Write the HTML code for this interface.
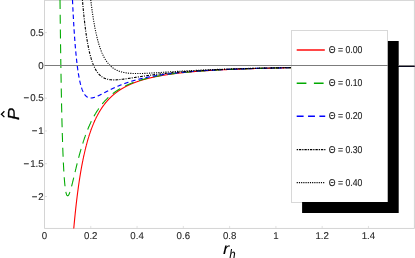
<!DOCTYPE html><html><head><title>P vs r_h</title><meta charset="utf-8"><style>html,body{margin:0;padding:0;background:#fff}svg{display:block}text{font-family:"Liberation Sans",sans-serif;text-rendering:geometricPrecision}</style></head><body>
<svg width="415" height="258" viewBox="0 0 415 258">
<rect width="415" height="258" fill="#fff"/>
<defs><clipPath id="c"><rect x="44.50" y="0" width="369.90" height="228.45"/></clipPath></defs>
<g stroke="#d4d4d4" stroke-width="1" fill="none">
<line x1="44.50" y1="0" x2="44.50" y2="228.45"/>
<line x1="44.50" y1="228.45" x2="414.40" y2="228.45"/>
<line x1="414.40" y1="0" x2="414.40" y2="228.45"/>
<line x1="44.50" y1="0.40" x2="414.40" y2="0.40"/>
<line x1="44.50" y1="228.45" x2="44.50" y2="225.95" stroke-width="0.7"/>
<line x1="90.78" y1="228.45" x2="90.78" y2="225.95" stroke-width="0.7"/>
<line x1="137.06" y1="228.45" x2="137.06" y2="225.95" stroke-width="0.7"/>
<line x1="183.34" y1="228.45" x2="183.34" y2="225.95" stroke-width="0.7"/>
<line x1="229.62" y1="228.45" x2="229.62" y2="225.95" stroke-width="0.7"/>
<line x1="275.90" y1="228.45" x2="275.90" y2="225.95" stroke-width="0.7"/>
<line x1="322.18" y1="228.45" x2="322.18" y2="225.95" stroke-width="0.7"/>
<line x1="368.46" y1="228.45" x2="368.46" y2="225.95" stroke-width="0.7"/>
<line x1="414.74" y1="228.45" x2="414.74" y2="225.95" stroke-width="0.7"/>
<line x1="44.50" y1="32.63" x2="47.00" y2="32.63" stroke-width="0.7"/>
<line x1="44.50" y1="65.40" x2="47.00" y2="65.40" stroke-width="0.7"/>
<line x1="44.50" y1="98.18" x2="47.00" y2="98.18" stroke-width="0.7"/>
<line x1="44.50" y1="130.95" x2="47.00" y2="130.95" stroke-width="0.7"/>
<line x1="44.50" y1="163.72" x2="47.00" y2="163.72" stroke-width="0.7"/>
<line x1="44.50" y1="196.50" x2="47.00" y2="196.50" stroke-width="0.7"/>
</g>
<g clip-path="url(#c)" fill="none" stroke-linecap="butt" stroke-linejoin="round">
<path d="M73.69,229.28 L73.77,228.46 L73.84,227.64 L73.91,226.84 L73.99,226.04 L74.06,225.24 L74.13,224.46 L74.20,223.67 L74.28,222.90 L74.35,222.13 L74.42,221.36 L74.50,220.60 L74.57,219.85 L74.64,219.10 L74.72,218.36 L74.79,217.62 L74.86,216.89 L74.94,216.16 L75.01,215.44 L75.08,214.72 L75.16,214.01 L75.23,213.30 L75.30,212.60 L75.38,211.90 L75.45,211.21 L75.52,210.52 L75.59,209.84 L75.67,209.16 L75.74,208.49 L75.81,207.82 L75.89,207.16 L75.96,206.50 L76.03,205.85 L76.11,205.20 L76.18,204.56 L76.25,203.91 L76.33,203.28 L76.40,202.65 L76.47,202.02 L76.55,201.40 L76.62,200.78 L76.69,200.16 L76.76,199.55 L76.84,198.95 L76.91,198.34 L76.98,197.75 L77.06,197.15 L77.13,196.56 L77.20,195.98 L77.28,195.39 L77.35,194.82 L77.42,194.24 L77.50,193.67 L77.57,193.10 L77.64,192.54 L77.72,191.98 L77.79,191.43 L77.86,190.87 L77.94,190.33 L78.01,189.78 L78.08,189.24 L78.15,188.70 L78.23,188.17 L78.30,187.64 L78.37,187.11 L78.45,186.59 L78.52,186.07 L78.59,185.55 L78.67,185.03 L78.74,184.52 L78.81,184.02 L78.89,183.51 L78.96,183.01 L79.03,182.51 L79.11,182.02 L79.18,181.53 L79.25,181.04 L79.32,180.55 L79.40,180.07 L79.47,179.59 L79.54,179.12 L79.62,178.64 L79.69,178.17 L79.76,177.71 L79.84,177.24 L79.91,176.78 L79.98,176.32 L80.06,175.86 L80.13,175.41 L80.20,174.96 L80.28,174.51 L80.35,174.07 L80.42,173.63 L80.50,173.19 L80.57,172.75 L80.64,172.32 L80.71,171.88 L80.79,171.46 L80.86,171.03 L80.93,170.61 L81.01,170.18 L81.08,169.77 L81.15,169.35 L81.23,168.94 L81.30,168.53 L81.37,168.12 L81.45,167.71 L81.52,167.31 L81.59,166.90 L81.67,166.51 L81.74,166.11 L81.81,165.71 L81.89,165.32 L81.96,164.93 L82.03,164.54 L82.10,164.16 L82.18,163.78 L82.25,163.40 L82.32,163.02 L82.40,162.64 L82.47,162.27 L82.54,161.89 L82.62,161.52 L82.69,161.16 L82.76,160.79 L82.84,160.43 L82.91,160.07 L82.98,159.71 L83.06,159.35 L83.13,158.99 L83.20,158.64 L83.27,158.29 L83.35,157.94 L83.42,157.59 L83.49,157.25 L83.57,156.90 L83.64,156.56 L83.71,156.22 L83.79,155.88 L83.86,155.55 L83.93,155.21 L84.01,154.88 L84.08,154.55 L84.15,154.22 L84.23,153.89 L84.30,153.57 L84.37,153.25 L84.45,152.92 L84.52,152.60 L84.59,152.29 L84.66,151.97 L84.74,151.66 L84.81,151.34 L84.88,151.03 L84.96,150.72 L85.03,150.42 L85.10,150.11 L85.18,149.80 L85.25,149.50 L85.32,149.20 L85.40,148.90 L85.47,148.60 L85.54,148.31 L85.62,148.01 L85.69,147.72 L85.76,147.43 L85.84,147.14 L85.91,146.85 L85.98,146.56 L86.05,146.28 L86.13,145.99 L86.20,145.71 L86.27,145.43 L86.35,145.15 L86.42,144.87 L86.49,144.60 L86.57,144.32 L86.64,144.05 L86.71,143.77 L86.79,143.50 L86.86,143.23 L86.93,142.97 L87.01,142.70 L87.08,142.43 L87.15,142.17 L87.22,141.91 L87.30,141.65 L87.37,141.39 L87.44,141.13 L87.52,140.87 L87.59,140.61 L87.66,140.36 L87.74,140.11 L87.81,139.85 L87.88,139.60 L87.96,139.35 L88.03,139.10 L88.10,138.86 L88.18,138.61 L88.25,138.37 L88.32,138.12 L88.40,137.88 L88.47,137.64 L88.54,137.40 L88.61,137.16 L88.69,136.92 L88.76,136.69 L88.83,136.45 L88.91,136.22 L88.98,135.99 L89.05,135.76 L89.13,135.52 L89.20,135.30 L89.27,135.07 L89.35,134.84 L89.42,134.61 L89.49,134.39 L89.57,134.17 L89.64,133.94 L89.71,133.72 L89.78,133.50 L89.86,133.28 L89.93,133.06 L90.00,132.85 L90.08,132.63 L90.15,132.41 L90.22,132.20 L90.30,131.99 L90.37,131.77 L90.44,131.56 L90.52,131.35 L90.59,131.14 L90.66,130.94 L90.74,130.73 L90.81,130.52 L90.88,130.32 L90.96,130.11 L91.03,129.91 L91.10,129.71 L91.17,129.51 L91.25,129.31 L91.32,129.11 L91.39,128.91 L91.47,128.71 L91.54,128.51 L91.61,128.32 L91.69,128.12 L91.76,127.93 L91.83,127.73 L91.91,127.54 L91.98,127.35 L92.05,127.16 L92.13,126.97 L92.20,126.78 L92.27,126.59 L92.35,126.41 L92.42,126.22 L92.49,126.04 L92.56,125.85 L92.64,125.67 L92.71,125.49 L92.78,125.30 L92.86,125.12 L92.93,124.94 L93.00,124.76 L93.08,124.58 L93.15,124.41 L93.22,124.23 L93.30,124.05 L93.37,123.88 L93.44,123.70 L93.52,123.53 L93.59,123.36 L93.66,123.18 L93.73,123.01 L93.81,122.84 L93.88,122.67 L93.95,122.50 L94.03,122.33 L94.10,122.17 L94.17,122.00 L94.25,121.83 L94.32,121.67 L94.39,121.50 L94.47,121.34 L94.54,121.17 L94.61,121.01 L94.69,120.85 L94.76,120.69 L94.83,120.53 L94.91,120.37 L94.98,120.21 L95.05,120.05 L95.12,119.89 L95.20,119.74 L95.27,119.58 L95.34,119.42 L95.42,119.27 L95.49,119.11 L95.56,118.96 L95.64,118.81 L95.71,118.65 L95.78,118.50 L95.86,118.35 L95.93,118.20 L96.00,118.05 L96.08,117.90 L96.15,117.75 L96.22,117.60 L96.30,117.46 L96.37,117.31 L96.44,117.16 L96.51,117.02 L96.59,116.87 L96.66,116.73 L96.73,116.59 L96.81,116.44 L96.88,116.30 L96.95,116.16 L97.03,116.02 L97.10,115.88 L97.17,115.74 L97.25,115.60 L97.32,115.46 L97.39,115.32 L97.47,115.18 L97.54,115.05 L97.61,114.91 L97.68,114.77 L97.76,114.64 L97.83,114.50 L97.90,114.37 L97.98,114.23 L98.05,114.10 L98.12,113.97 L98.20,113.84 L98.27,113.70 L98.34,113.57 L98.42,113.44 L98.49,113.31 L98.56,113.18 L98.64,113.05 L98.71,112.92 L98.78,112.80 L98.86,112.67 L98.93,112.54 L99.00,112.42 L99.07,112.29 L99.15,112.16 L99.22,112.04 L99.29,111.91 L99.37,111.79 L99.44,111.67 L99.51,111.54 L99.59,111.42 L99.66,111.30 L99.73,111.18 L99.81,111.06 L99.88,110.94 L99.95,110.82 L100.03,110.70 L100.10,110.58 L100.17,110.46 L100.25,110.34 L100.32,110.22 L100.39,110.11 L100.46,109.99 L100.54,109.87 L100.61,109.76 L100.68,109.64 L100.76,109.53 L100.83,109.41 L100.90,109.30 L100.98,109.18 L101.05,109.07 L101.12,108.96 L101.20,108.85 L101.27,108.73 L101.34,108.62 L101.42,108.51 L101.49,108.40 L101.56,108.29 L101.63,108.18 L101.71,108.07 L101.78,107.96 L101.85,107.85 L101.93,107.75 L102.00,107.64 L102.07,107.53 L102.15,107.43 L102.22,107.32 L102.29,107.21 L102.37,107.11 L102.44,107.00 L102.51,106.90 L102.59,106.79 L102.66,106.69 L102.73,106.58 L102.81,106.48 L102.88,106.38 L102.95,106.28 L103.02,106.17 L103.10,106.07 L103.17,105.97 L103.24,105.87 L103.32,105.77 L103.39,105.67 L103.46,105.57 L103.54,105.47 L103.61,105.37 L103.68,105.27 L103.76,105.17 L103.83,105.08 L103.90,104.98 L103.98,104.88 L104.05,104.78 L104.12,104.69 L104.19,104.59 L104.27,104.49 L104.34,104.40 L104.41,104.30 L104.49,104.21 L104.56,104.11 L104.63,104.02 L104.71,103.93 L104.78,103.83 L104.85,103.74 L104.93,103.65 L105.00,103.56 L105.07,103.46 L105.15,103.37 L105.22,103.28 L105.29,103.19 L105.37,103.10 L105.44,103.01 L105.51,102.92 L105.58,102.83 L105.66,102.74 L105.73,102.65 L105.80,102.56 L105.88,102.47 L105.95,102.38 L106.02,102.30 L106.10,102.21 L106.17,102.12 L106.24,102.03 L106.32,101.95 L106.39,101.86 L106.46,101.77 L106.54,101.69 L106.61,101.60 L106.68,101.52 L106.76,101.43 L106.83,101.35 L106.90,101.27 L106.97,101.18 L107.05,101.10 L107.12,101.01 L107.19,100.93 L107.27,100.85 L107.34,100.77 L107.41,100.68 L107.49,100.60 L107.56,100.52 L107.63,100.44 L107.71,100.36 L107.78,100.28 L107.85,100.20 L107.93,100.12 L108.00,100.04 L108.07,99.96 L108.14,99.88 L108.22,99.80 L108.29,99.72 L108.36,99.64 L108.44,99.56 L108.51,99.48 L108.58,99.41 L108.66,99.33 L108.73,99.25 L108.80,99.17 L108.88,99.10 L108.95,99.02 L109.02,98.95 L109.10,98.87 L109.17,98.79 L109.24,98.72 L109.32,98.64 L109.39,98.57 L109.46,98.49 L109.53,98.42 L109.61,98.35 L109.68,98.27 L109.75,98.20 L109.83,98.12 L109.90,98.05 L109.97,97.98 L110.05,97.91 L110.12,97.83 L110.19,97.76 L110.27,97.69 L110.34,97.62 L110.41,97.55 L110.49,97.47 L110.56,97.40 L110.63,97.33 L110.71,97.26 L110.78,97.19 L110.85,97.12 L110.92,97.05 L111.00,96.98 L111.07,96.91 L111.14,96.84 L111.22,96.78 L111.29,96.71 L111.36,96.64 L111.44,96.57 L111.51,96.50 L111.58,96.43 L111.66,96.37 L111.73,96.30 L111.80,96.23 L111.88,96.17 L111.95,96.10 L112.02,96.03 L112.09,95.97 L112.17,95.90 L112.24,95.83 L112.31,95.77 L112.39,95.70 L112.46,95.64 L112.53,95.57 L112.61,95.51 L112.68,95.44 L112.75,95.38 L112.83,95.31 L112.90,95.25 L112.97,95.19 L113.05,95.12 L113.12,95.06 L113.19,95.00 L113.27,94.93 L113.34,94.87 L113.41,94.81 L113.48,94.75 L113.56,94.68 L113.63,94.62 L113.70,94.56 L113.78,94.50 L113.85,94.44 L113.92,94.38 L114.00,94.32 L114.07,94.25 L114.14,94.19 L114.22,94.13 L114.29,94.07 L114.36,94.01 L114.44,93.95 L114.51,93.89 L114.58,93.83 L114.65,93.78 L114.73,93.72 L114.80,93.66 L114.87,93.60 L114.95,93.54 L115.02,93.48 L115.09,93.42 L115.17,93.37 L115.24,93.31 L115.31,93.25 L115.39,93.19 L115.46,93.14 L115.53,93.08 L115.61,93.02 L115.68,92.96 L115.75,92.91 L115.83,92.85 L115.90,92.80 L115.97,92.74 L116.04,92.68 L116.12,92.63 L116.19,92.57 L116.26,92.52 L116.34,92.46 L116.41,92.41 L116.48,92.35 L116.56,92.30 L116.63,92.24 L116.70,92.19 L116.78,92.13 L116.85,92.08 L116.92,92.03 L117.00,91.97 L117.07,91.92 L117.14,91.87 L117.22,91.81 L117.29,91.76 L117.36,91.71 L117.43,91.65 L117.51,91.60 L117.58,91.55 L117.65,91.50 L117.73,91.44 L117.80,91.39 L117.87,91.34 L117.95,91.29 L118.02,91.24 L118.09,91.19 L118.17,91.14 L118.24,91.08 L118.31,91.03 L118.39,90.98 L118.46,90.93 L118.53,90.88 L118.60,90.83 L118.68,90.78 L118.75,90.73 L118.82,90.68 L118.90,90.63 L118.97,90.58 L119.04,90.53 L119.12,90.48 L119.19,90.43 L119.26,90.39 L119.34,90.34 L119.41,90.29 L119.48,90.24 L119.56,90.19 L119.63,90.14 L119.70,90.09 L119.78,90.05 L119.85,90.00 L119.92,89.95 L119.99,89.90 L120.07,89.86 L120.14,89.81 L120.21,89.76 L120.29,89.71 L120.36,89.67 L120.43,89.62 L120.51,89.57 L120.58,89.53 L120.65,89.48 L120.73,89.44 L120.80,89.39 L120.87,89.34 L120.95,89.30 L121.02,89.25 L121.09,89.21 L121.17,89.16 L121.24,89.12 L121.31,89.07 L121.38,89.03 L121.46,88.98 L121.53,88.94 L121.60,88.89 L121.68,88.85 L121.75,88.80 L121.82,88.76 L121.90,88.71 L121.97,88.67 L122.04,88.63 L122.12,88.58 L122.19,88.54 L122.26,88.50 L122.34,88.45 L122.41,88.41 L122.48,88.37 L122.55,88.32 L122.63,88.28 L122.70,88.24 L122.77,88.19 L122.85,88.15 L122.92,88.11 L122.99,88.07 L123.07,88.02 L123.14,87.98 L123.21,87.94 L123.29,87.90 L123.36,87.86 L123.43,87.82 L123.51,87.77 L123.58,87.73 L123.65,87.69 L123.73,87.65 L123.80,87.61 L123.87,87.57 L123.94,87.53 L124.02,87.49 L124.09,87.45 L124.16,87.41 L124.24,87.37 L124.31,87.33 L124.38,87.28 L124.46,87.24 L124.53,87.20 L124.60,87.17 L124.68,87.13 L124.75,87.09 L124.82,87.05 L124.90,87.01 L124.97,86.97 L125.04,86.93 L125.11,86.89 L125.19,86.85 L125.26,86.81 L125.33,86.77 L125.41,86.73 L125.48,86.70 L125.55,86.66 L125.63,86.62 L125.70,86.58 L125.77,86.54 L125.85,86.50 L125.92,86.47 L125.99,86.43 L126.07,86.39 L126.14,86.35 L126.21,86.32 L126.29,86.28 L126.36,86.24 L126.43,86.20 L126.50,86.17 L126.58,86.13 L126.65,86.09 L126.72,86.06 L126.80,86.02 L126.87,85.98 L126.94,85.95 L127.02,85.91 L127.09,85.87 L127.16,85.84 L127.24,85.80 L127.31,85.77 L127.38,85.73 L127.46,85.69 L127.53,85.66 L127.60,85.62 L127.68,85.59 L127.75,85.55 L127.82,85.52 L127.89,85.48 L127.97,85.45 L128.04,85.41 L128.11,85.38 L128.19,85.34 L128.26,85.31 L128.33,85.27 L128.41,85.24 L128.48,85.20 L128.55,85.17 L128.63,85.13 L128.70,85.10 L128.77,85.06 L128.85,85.03 L128.92,85.00 L128.99,84.96 L129.06,84.93 L129.14,84.90 L129.21,84.86 L129.28,84.83 L129.36,84.79 L129.43,84.76 L129.50,84.73 L129.58,84.69 L129.65,84.66 L129.72,84.63 L129.80,84.60 L129.87,84.56 L129.94,84.53 L130.02,84.50 L130.09,84.46 L130.16,84.43 L130.24,84.40 L130.31,84.37 L130.38,84.33 L130.45,84.30 L130.53,84.27 L130.60,84.24 L130.67,84.21 L130.75,84.17 L130.82,84.14 L130.89,84.11 L130.97,84.08 L131.04,84.05 L131.11,84.02 L131.19,83.98 L131.26,83.95 L131.33,83.92 L131.41,83.89 L131.48,83.86 L131.55,83.83 L131.63,83.80 L131.70,83.77 L131.77,83.74 L131.84,83.71 L131.92,83.68 L131.99,83.64 L132.06,83.61 L132.14,83.58 L132.21,83.55 L132.28,83.52 L132.36,83.49 L132.43,83.46 L132.50,83.43 L132.58,83.40 L132.65,83.37 L132.72,83.34 L132.80,83.31 L132.87,83.28 L132.94,83.25 L133.01,83.22 L133.09,83.20 L133.16,83.17 L133.23,83.14 L133.31,83.11 L133.38,83.08 L133.45,83.05 L133.53,83.02 L133.60,82.99 L133.67,82.96 L133.75,82.93 L133.82,82.91 L133.89,82.88 L133.97,82.85 L134.04,82.82 L134.11,82.79 L134.19,82.76 L134.26,82.73 L134.33,82.71 L134.40,82.68 L134.48,82.65 L134.55,82.62 L134.62,82.59 L134.70,82.57 L134.77,82.54 L134.84,82.51 L134.92,82.48 L134.99,82.46 L135.06,82.43 L135.14,82.40 L135.21,82.37 L135.28,82.35 L135.36,82.32 L135.43,82.29 L135.50,82.26 L135.58,82.24 L135.65,82.21 L135.72,82.18 L135.79,82.16 L135.87,82.13 L135.94,82.10 L136.01,82.08 L136.09,82.05 L136.16,82.02 L136.23,82.00 L136.31,81.97 L136.38,81.94 L136.45,81.92 L136.53,81.89 L136.60,81.86 L136.67,81.84 L136.75,81.81 L136.82,81.79 L136.89,81.76 L136.96,81.73 L137.04,81.71 L137.11,81.68 L137.18,81.66 L137.26,81.63 L137.33,81.61 L137.40,81.58 L137.48,81.56 L137.55,81.53 L137.62,81.50 L137.70,81.48 L137.77,81.45 L137.84,81.43 L137.92,81.40 L137.99,81.38 L138.06,81.35 L138.14,81.33 L138.21,81.30 L138.28,81.28 L138.35,81.25 L138.43,81.23 L138.50,81.21 L138.57,81.18 L138.65,81.16 L138.72,81.13 L138.79,81.11 L138.87,81.08 L138.94,81.06 L139.01,81.03 L139.09,81.01 L139.16,80.99 L139.23,80.96 L139.31,80.94 L139.38,80.91 L139.45,80.89 L139.52,80.87 L139.60,80.84 L139.67,80.82 L139.74,80.80 L139.82,80.77 L139.89,80.75 L139.96,80.72 L140.04,80.70 L140.11,80.68 L140.18,80.65 L140.26,80.63 L140.33,80.61 L140.40,80.58 L140.48,80.56 L140.55,80.54 L140.62,80.52 L140.70,80.49 L140.77,80.47 L140.84,80.45 L140.91,80.42 L140.99,80.40 L141.06,80.38 L141.13,80.36 L141.21,80.33 L141.28,80.31 L141.35,80.29 L141.43,80.27 L141.50,80.24 L141.57,80.22 L141.65,80.20 L141.72,80.18 L141.79,80.15 L141.87,80.13 L141.94,80.11 L142.01,80.09 L142.09,80.07 L142.16,80.04 L142.23,80.02 L142.30,80.00 L142.38,79.98 L142.45,79.96 L142.52,79.93 L142.60,79.91 L142.67,79.89 L142.74,79.87 L142.82,79.85 L142.89,79.83 L142.96,79.81 L143.04,79.78 L143.11,79.76 L143.18,79.74 L143.26,79.72 L143.33,79.70 L143.40,79.68 L143.47,79.66 L143.55,79.64 L143.62,79.61 L143.69,79.59 L143.77,79.57 L143.84,79.55 L143.91,79.53 L143.99,79.51 L144.06,79.49 L144.13,79.47 L144.21,79.45 L144.28,79.43 L144.35,79.41 L144.43,79.39 L144.50,79.37 L144.57,79.35 L144.65,79.33 L144.72,79.30 L144.79,79.28 L144.86,79.26 L144.94,79.24 L145.01,79.22 L145.08,79.20 L145.16,79.18 L145.23,79.16 L145.30,79.14 L145.38,79.12 L145.45,79.10 L145.52,79.08 L145.60,79.06 L145.67,79.04 L145.74,79.02 L145.82,79.01 L145.89,78.99 L145.96,78.97 L146.04,78.95 L146.11,78.93 L146.18,78.91 L146.25,78.89 L146.33,78.87 L146.40,78.85 L146.47,78.83 L146.55,78.81 L146.62,78.79 L146.69,78.77 L146.77,78.75 L146.84,78.73 L146.91,78.72 L146.99,78.70 L147.06,78.68 L147.13,78.66 L147.21,78.64 L147.28,78.62 L147.35,78.60 L147.42,78.58 L147.50,78.56 L147.57,78.55 L147.64,78.53 L147.72,78.51 L147.79,78.49 L147.86,78.47 L147.94,78.45 L148.01,78.43 L148.08,78.42 L148.16,78.40 L148.23,78.38 L148.30,78.36 L148.38,78.34 L148.45,78.32 L148.52,78.31 L148.60,78.29 L148.67,78.27 L148.74,78.25 L148.81,78.23 L148.89,78.22 L148.96,78.20 L149.03,78.18 L149.11,78.16 L149.18,78.14 L149.25,78.13 L149.33,78.11 L149.40,78.09 L149.47,78.07 L149.55,78.06 L149.62,78.04 L149.69,78.02 L149.77,78.00 L149.84,77.99 L149.91,77.97 L149.98,77.95 L150.06,77.93 L150.13,77.92 L150.20,77.90 L150.28,77.88 L150.35,77.86 L150.42,77.85 L150.50,77.83 L150.57,77.81 L150.64,77.80 L150.72,77.78 L150.79,77.76 L150.86,77.74 L150.94,77.73 L151.01,77.71 L151.08,77.69 L151.16,77.68 L151.23,77.66 L151.30,77.64 L151.37,77.63 L151.45,77.61 L151.52,77.59 L151.59,77.58 L151.67,77.56 L151.74,77.54 L151.81,77.53 L151.89,77.51 L151.96,77.49 L152.03,77.48 L152.11,77.46 L152.18,77.44 L152.25,77.43 L152.33,77.41 L152.40,77.40 L152.47,77.38 L152.55,77.36 L152.62,77.35 L152.69,77.33 L152.76,77.31 L152.84,77.30 L152.91,77.28 L152.98,77.27 L153.06,77.25 L153.13,77.23 L153.20,77.22 L153.28,77.20 L153.35,77.19 L153.42,77.17 L153.50,77.16 L153.57,77.14 L153.64,77.12 L153.72,77.11 L153.79,77.09 L153.86,77.08 L153.93,77.06 L154.01,77.05 L154.08,77.03 L154.15,77.01 L154.23,77.00 L154.30,76.98 L154.37,76.97 L154.45,76.95 L154.52,76.94 L154.59,76.92 L154.67,76.91 L154.74,76.89 L154.81,76.88 L154.89,76.86 L154.96,76.85 L155.03,76.83 L155.11,76.82 L155.18,76.80 L155.25,76.79 L155.32,76.77 L155.40,76.76 L155.47,76.74 L155.54,76.73 L155.62,76.71 L155.69,76.70 L155.76,76.68 L155.84,76.67 L155.91,76.65 L155.98,76.64 L156.06,76.62 L156.13,76.61 L156.20,76.59 L156.28,76.58 L156.35,76.56 L156.42,76.55 L156.50,76.53 L156.57,76.52 L156.64,76.51 L156.71,76.49 L156.79,76.48 L156.86,76.46 L156.93,76.45 L157.01,76.43 L157.08,76.42 L157.15,76.40 L157.23,76.39 L157.30,76.38 L157.37,76.36 L157.45,76.35 L157.52,76.33 L157.59,76.32 L157.67,76.31 L157.74,76.29 L157.81,76.28 L157.88,76.26 L157.96,76.25 L158.03,76.24 L158.10,76.22 L158.18,76.21 L158.25,76.19 L158.32,76.18 L158.40,76.17 L158.47,76.15 L158.54,76.14 L158.62,76.12 L158.69,76.11 L158.76,76.10 L158.84,76.08 L158.91,76.07 L158.98,76.06 L159.06,76.04 L159.13,76.03 L159.20,76.02 L159.27,76.00 L159.35,75.99 L159.42,75.97 L159.49,75.96 L159.57,75.95 L159.64,75.93 L159.71,75.92 L159.79,75.91 L159.86,75.89 L159.93,75.88 L160.01,75.87 L160.08,75.85 L160.15,75.84 L160.23,75.83 L160.30,75.81 L160.37,75.80 L160.44,75.79 L160.52,75.78 L160.59,75.76 L160.66,75.75 L160.74,75.74 L160.81,75.72 L160.88,75.71 L160.96,75.70 L161.03,75.68 L161.10,75.67 L161.18,75.66 L161.25,75.65 L161.32,75.63 L161.40,75.62 L161.47,75.61 L161.54,75.59 L161.62,75.58 L161.69,75.57 L161.76,75.56 L161.83,75.54 L161.91,75.53 L161.98,75.52 L162.05,75.51 L162.13,75.49 L162.20,75.48 L162.27,75.47 L162.35,75.46 L162.42,75.44 L162.49,75.43 L162.57,75.42 L162.64,75.41 L162.71,75.39 L162.79,75.38 L162.86,75.37 L162.93,75.36 L163.01,75.34 L163.08,75.33 L163.15,75.32 L163.22,75.31 L163.30,75.30 L163.37,75.28 L163.44,75.27 L163.52,75.26 L163.59,75.25 L163.66,75.23 L163.74,75.22 L163.81,75.21 L163.88,75.20 L163.96,75.19 L164.03,75.17 L164.10,75.16 L164.18,75.15 L164.25,75.14 L164.32,75.13 L164.39,75.12 L164.47,75.10 L164.54,75.09 L164.61,75.08 L164.69,75.07 L164.76,75.06 L164.83,75.04 L164.91,75.03 L164.98,75.02 L165.05,75.01 L165.13,75.00 L165.20,74.99 L165.27,74.97 L165.35,74.96 L165.42,74.95 L165.49,74.94 L165.57,74.93 L165.64,74.92 L165.71,74.91 L165.78,74.89 L165.86,74.88 L165.93,74.87 L166.00,74.86 L166.08,74.85 L166.15,74.84 L166.22,74.83 L166.30,74.81 L166.37,74.80 L166.44,74.79 L166.52,74.78 L166.59,74.77 L166.66,74.76 L166.74,74.75 L166.81,74.74 L166.88,74.72 L166.96,74.71 L167.03,74.70 L167.10,74.69 L167.17,74.68 L167.25,74.67 L167.32,74.66 L167.39,74.65 L167.47,74.64 L167.54,74.62 L167.61,74.61 L167.69,74.60 L167.76,74.59 L167.83,74.58 L167.91,74.57 L167.98,74.56 L168.05,74.55 L168.13,74.54 L168.20,74.53 L168.27,74.52 L168.34,74.51 L168.42,74.49 L168.49,74.48 L168.56,74.47 L168.64,74.46 L168.71,74.45 L168.78,74.44 L168.86,74.43 L168.93,74.42 L169.00,74.41 L169.08,74.40 L169.15,74.39 L169.22,74.38 L169.30,74.37 L169.37,74.36 L169.44,74.35 L169.52,74.34 L169.59,74.33 L169.66,74.31 L169.73,74.30 L169.81,74.29 L169.88,74.28 L169.95,74.27 L170.03,74.26 L170.10,74.25 L170.17,74.24 L170.25,74.23 L170.32,74.22 L170.39,74.21 L170.47,74.20 L170.54,74.19 L170.61,74.18 L170.69,74.17 L170.76,74.16 L170.83,74.15 L170.91,74.14 L170.98,74.13 L171.05,74.12 L171.12,74.11 L171.20,74.10 L171.27,74.09 L171.34,74.08 L171.42,74.07 L171.49,74.06 L171.56,74.05 L171.64,74.04 L171.71,74.03 L171.78,74.02 L171.86,74.01 L171.93,74.00 L172.00,73.99 L172.08,73.98 L172.15,73.97 L172.22,73.96 L172.29,73.95 L172.37,73.94 L172.44,73.93 L172.51,73.92 L172.59,73.91 L172.66,73.90 L172.73,73.89 L172.81,73.88 L172.88,73.87 L172.95,73.86 L173.03,73.85 L173.10,73.84 L173.17,73.84 L173.25,73.83 L173.32,73.82 L173.39,73.81 L173.47,73.80 L173.54,73.79 L173.61,73.78 L173.68,73.77 L173.76,73.76 L173.83,73.75 L173.90,73.74 L173.98,73.73 L174.05,73.72 L174.12,73.71 L174.20,73.70 L174.27,73.69 L174.34,73.68 L174.42,73.67 L174.49,73.67 L174.56,73.66 L174.64,73.65 L174.71,73.64 L174.78,73.63 L174.85,73.62 L174.93,73.61 L175.00,73.60 L175.07,73.59 L175.15,73.58 L175.22,73.57 L175.29,73.56 L175.37,73.55 L175.44,73.55 L175.51,73.54 L175.59,73.53 L175.66,73.52 L175.73,73.51 L175.81,73.50 L175.88,73.49 L175.95,73.48 L176.03,73.47 L176.10,73.46 L176.17,73.46 L176.24,73.45 L176.32,73.44 L176.39,73.43 L176.46,73.42 L176.54,73.41 L176.61,73.40 L176.68,73.39 L176.76,73.38 L176.83,73.38 L176.90,73.37 L176.98,73.36 L177.05,73.35 L177.12,73.34 L177.20,73.33 L177.27,73.32 L177.34,73.31 L177.42,73.31 L177.49,73.30 L177.56,73.29 L177.63,73.28 L177.71,73.27 L177.78,73.26 L177.85,73.25 L177.93,73.24 L178.00,73.24 L178.07,73.23 L178.15,73.22 L178.22,73.21 L178.29,73.20 L178.37,73.19 L178.44,73.18 L178.51,73.18 L178.59,73.17 L178.66,73.16 L178.73,73.15 L178.80,73.14 L178.88,73.13 L178.95,73.13 L179.02,73.12 L179.10,73.11 L179.17,73.10 L179.24,73.09 L179.32,73.08 L179.39,73.08 L179.46,73.07 L179.54,73.06 L179.61,73.05 L179.68,73.04 L179.76,73.03 L179.83,73.03 L179.90,73.02 L179.98,73.01 L180.05,73.00 L180.12,72.99 L180.19,72.98 L180.27,72.98 L180.34,72.97 L180.41,72.96 L180.49,72.95 L180.56,72.94 L180.63,72.94 L180.71,72.93 L180.78,72.92 L180.85,72.91 L180.93,72.90 L181.00,72.90 L181.07,72.89 L181.15,72.88 L181.22,72.87 L181.29,72.86 L181.37,72.86 L181.44,72.85 L181.51,72.84 L181.58,72.83 L181.66,72.82 L181.73,72.82 L181.80,72.81 L181.88,72.80 L181.95,72.79 L182.02,72.78 L182.10,72.78 L182.17,72.77 L182.24,72.76 L182.32,72.75 L182.39,72.75 L182.46,72.74 L182.54,72.73 L182.61,72.72 L182.68,72.71 L182.75,72.71 L182.83,72.70 L182.90,72.69 L182.97,72.68 L183.05,72.68 L183.12,72.67 L183.19,72.66 L183.27,72.65 L183.34,72.64 L184.11,72.56 L184.89,72.49 L185.66,72.41 L186.44,72.33 L187.21,72.26 L187.98,72.18 L188.76,72.11 L189.53,72.04 L190.31,71.97 L191.08,71.90 L191.85,71.83 L192.63,71.76 L193.40,71.70 L194.17,71.63 L194.95,71.57 L195.72,71.51 L196.50,71.44 L197.27,71.38 L198.04,71.32 L198.82,71.26 L199.59,71.21 L200.37,71.15 L201.14,71.09 L201.91,71.04 L202.69,70.98 L203.46,70.93 L204.24,70.87 L205.01,70.82 L205.78,70.77 L206.56,70.72 L207.33,70.67 L208.11,70.62 L208.88,70.57 L209.65,70.52 L210.43,70.47 L211.20,70.43 L211.97,70.38 L212.75,70.33 L213.52,70.29 L214.30,70.24 L215.07,70.20 L215.84,70.16 L216.62,70.11 L217.39,70.07 L218.17,70.03 L218.94,69.99 L219.71,69.95 L220.49,69.91 L221.26,69.87 L222.04,69.83 L222.81,69.79 L223.58,69.75 L224.36,69.72 L225.13,69.68 L225.91,69.64 L226.68,69.61 L227.45,69.57 L228.23,69.54 L229.00,69.50 L229.77,69.47 L230.55,69.43 L231.32,69.40 L232.10,69.37 L232.87,69.34 L233.64,69.30 L234.42,69.27 L235.19,69.24 L235.97,69.21 L236.74,69.18 L237.51,69.15 L238.29,69.12 L239.06,69.09 L239.84,69.06 L240.61,69.03 L241.38,69.00 L242.16,68.97 L242.93,68.95 L243.71,68.92 L244.48,68.89 L245.25,68.87 L246.03,68.84 L246.80,68.81 L247.57,68.79 L248.35,68.76 L249.12,68.74 L249.90,68.71 L250.67,68.69 L251.44,68.66 L252.22,68.64 L252.99,68.61 L253.77,68.59 L254.54,68.57 L255.31,68.54 L256.09,68.52 L256.86,68.50 L257.64,68.47 L258.41,68.45 L259.18,68.43 L259.96,68.41 L260.73,68.39 L261.51,68.37 L262.28,68.34 L263.05,68.32 L263.83,68.30 L264.60,68.28 L265.37,68.26 L266.15,68.24 L266.92,68.22 L267.70,68.20 L268.47,68.18 L269.24,68.16 L270.02,68.15 L270.79,68.13 L271.57,68.11 L272.34,68.09 L273.11,68.07 L273.89,68.05 L274.66,68.04 L275.44,68.02 L276.21,68.00 L276.98,67.98 L277.76,67.97 L278.53,67.95 L279.31,67.93 L280.08,67.92 L280.85,67.90 L281.63,67.88 L282.40,67.87 L283.17,67.85 L283.95,67.84 L284.72,67.82 L285.50,67.80 L286.27,67.79 L287.04,67.77 L287.82,67.76 L288.59,67.74 L289.37,67.73 L290.14,67.71 L290.91,67.70 L291.69,67.69 L292.46,67.67 L293.24,67.66 L294.01,67.64 L294.78,67.63 L295.56,67.62 L296.33,67.60 L297.11,67.59 L297.88,67.58 L298.65,67.56 L299.43,67.55 L300.20,67.54 L300.97,67.52 L301.75,67.51 L302.52,67.50 L303.30,67.49 L304.07,67.47 L304.84,67.46 L305.62,67.45 L306.39,67.44 L307.17,67.42 L307.94,67.41 L308.71,67.40 L309.49,67.39 L310.26,67.38 L311.04,67.37 L311.81,67.35 L312.58,67.34 L313.36,67.33 L314.13,67.32 L314.91,67.31 L315.68,67.30 L316.45,67.29 L317.23,67.28 L318.00,67.27 L318.77,67.26 L319.55,67.25 L320.32,67.24 L321.10,67.23 L321.87,67.22 L322.64,67.21 L323.42,67.20 L324.19,67.19 L324.97,67.18 L325.74,67.17 L326.51,67.16 L327.29,67.15 L328.06,67.14 L328.84,67.13 L329.61,67.12 L330.38,67.11 L331.16,67.10 L331.93,67.09 L332.71,67.08 L333.48,67.07 L334.25,67.06 L335.03,67.05 L335.80,67.05 L336.57,67.04 L337.35,67.03 L338.12,67.02 L338.90,67.01 L339.67,67.00 L340.44,66.99 L341.22,66.99 L341.99,66.98 L342.77,66.97 L343.54,66.96 L344.31,66.95 L345.09,66.95 L345.86,66.94 L346.64,66.93 L347.41,66.92 L348.18,66.91 L348.96,66.91 L349.73,66.90 L350.51,66.89 L351.28,66.88 L352.05,66.88 L352.83,66.87 L353.60,66.86 L354.37,66.85 L355.15,66.85 L355.92,66.84 L356.70,66.83 L357.47,66.83 L358.24,66.82 L359.02,66.81 L359.79,66.80 L360.57,66.80 L361.34,66.79 L362.11,66.78 L362.89,66.78 L363.66,66.77 L364.44,66.76 L365.21,66.76 L365.98,66.75 L366.76,66.74 L367.53,66.74 L368.31,66.73 L369.08,66.73 L369.85,66.72 L370.63,66.71 L371.40,66.71 L372.17,66.70 L372.95,66.69 L373.72,66.69 L374.50,66.68 L375.27,66.68 L376.04,66.67 L376.82,66.66 L377.59,66.66 L378.37,66.65 L379.14,66.65 L379.91,66.64 L380.69,66.64 L381.46,66.63 L382.24,66.62 L383.01,66.62 L383.78,66.61 L384.56,66.61 L385.33,66.60 L386.11,66.60 L386.88,66.59 L387.65,66.59 L388.43,66.58 L389.20,66.58 L389.97,66.57 L390.75,66.56 L391.52,66.56 L392.30,66.55 L393.07,66.55 L393.84,66.54 L394.62,66.54 L395.39,66.53 L396.17,66.53 L396.94,66.52 L397.71,66.52 L398.49,66.51 L399.26,66.51 L400.04,66.50 L400.81,66.50 L401.58,66.50 L402.36,66.49 L403.13,66.49 L403.91,66.48 L404.68,66.48 L405.45,66.47 L406.23,66.47 L407.00,66.46 L407.77,66.46 L408.55,66.45 L409.32,66.45 L410.10,66.44 L410.87,66.44 L411.64,66.44 L412.42,66.43 L413.19,66.43 L413.97,66.42 L414.74,66.42" stroke="#ff0000" stroke-width="1.1"/>
<path d="M60.01,-0.15 L60.09,7.27 L60.17,14.43 L60.26,21.35 L60.34,28.02 L60.42,34.47 L60.50,40.69 L60.59,46.70 L60.67,52.50 L60.75,58.10 L60.83,63.51 L60.92,68.73 L61.00,73.77 L61.08,78.63 L61.16,83.33 L61.24,87.86 L61.33,92.24 L61.41,96.46 L61.49,100.54 L61.57,104.47 L61.66,108.27 L61.74,111.93 L61.82,115.46 L61.90,118.87 L61.98,122.16 L62.07,125.34 L62.15,128.40 L62.23,131.35 L62.31,134.19 L62.40,136.94 L62.48,139.58 L62.56,142.13 L62.64,144.59 L62.73,146.96 L62.81,149.24 L62.89,151.43 L62.97,153.55 L63.05,155.58 L63.14,157.55 L63.22,159.43 L63.30,161.25 L63.38,162.99 L63.47,164.67 L63.55,166.29 L63.63,167.84 L63.71,169.33 L63.79,170.76 L63.88,172.13 L63.96,173.45 L64.04,174.71 L64.12,175.93 L64.21,177.09 L64.29,178.20 L64.37,179.27 L64.45,180.29 L64.54,181.27 L64.62,182.20 L64.70,183.09 L64.78,183.94 L64.86,184.75 L64.95,185.53 L65.03,186.26 L65.11,186.96 L65.19,187.63 L65.28,188.26 L65.36,188.86 L65.44,189.43 L65.52,189.97 L65.60,190.48 L65.69,190.96 L65.77,191.41 L65.85,191.84 L65.93,192.23 L66.02,192.61 L66.10,192.96 L66.18,193.28 L66.26,193.59 L66.35,193.87 L66.43,194.12 L66.51,194.36 L66.59,194.58 L66.67,194.78 L66.76,194.95 L66.84,195.11 L66.92,195.25 L67.00,195.38 L67.09,195.49 L67.17,195.58 L67.25,195.65 L67.33,195.71 L67.41,195.76 L67.50,195.79 L67.58,195.80 L67.66,195.81 L67.74,195.80 L67.83,195.77 L67.91,195.74 L67.99,195.69 L68.07,195.63 L68.16,195.57 L68.24,195.49 L68.32,195.39 L68.40,195.29 L68.48,195.18 L68.57,195.06 L68.65,194.93 L68.73,194.80 L68.81,194.65 L68.90,194.50 L68.98,194.33 L69.06,194.16 L69.14,193.98 L69.22,193.80 L69.31,193.61 L69.39,193.41 L69.47,193.20 L69.55,192.99 L69.64,192.77 L69.72,192.55 L69.80,192.32 L69.88,192.09 L69.97,191.85 L70.05,191.60 L70.13,191.35 L70.21,191.10 L70.29,190.84 L70.38,190.57 L70.46,190.31 L70.54,190.03 L70.62,189.76 L70.71,189.48 L70.79,189.20 L70.87,188.91 L70.95,188.62 L71.04,188.33 L71.12,188.03 L71.20,187.73 L71.28,187.43 L71.36,187.12 L71.45,186.82 L71.53,186.51 L71.61,186.20 L71.69,185.88 L71.78,185.57 L71.86,185.25 L71.94,184.93 L72.02,184.60 L72.10,184.28 L72.19,183.95 L72.27,183.63 L72.35,183.30 L72.43,182.97 L72.52,182.64 L72.60,182.30 L72.68,181.97 L72.76,181.64 L72.85,181.30 L72.93,180.96 L73.01,180.62 L73.09,180.29 L73.17,179.95 L73.26,179.61 L73.34,179.26 L73.42,178.92 L73.50,178.58 L73.59,178.24 L73.67,177.90 L73.75,177.55 L73.83,177.21 L73.91,176.86 L74.00,176.52 L74.08,176.18 L74.16,175.83 L74.24,175.49 L74.33,175.14 L74.41,174.80 L74.49,174.45 L74.57,174.11 L74.66,173.76 L74.74,173.42 L74.82,173.07 L74.90,172.73 L74.98,172.39 L75.07,172.04 L75.15,171.70 L75.23,171.36 L75.31,171.01 L75.40,170.67 L75.48,170.33 L75.56,169.99 L75.64,169.65 L75.72,169.31 L75.81,168.97 L75.89,168.63 L75.97,168.29 L76.05,167.95 L76.14,167.61 L76.22,167.27 L76.30,166.94 L76.38,166.60 L76.47,166.27 L76.55,165.93 L76.63,165.60 L76.71,165.27 L76.79,164.93 L76.88,164.60 L76.96,164.27 L77.04,163.94 L77.12,163.61 L77.21,163.28 L77.29,162.95 L77.37,162.63 L77.45,162.30 L77.53,161.98 L77.62,161.65 L77.70,161.33 L77.78,161.01 L77.86,160.69 L77.95,160.36 L78.03,160.04 L78.11,159.73 L78.19,159.41 L78.28,159.09 L78.36,158.78 L78.44,158.46 L78.52,158.15 L78.60,157.83 L78.69,157.52 L78.77,157.21 L78.85,156.90 L78.93,156.59 L79.02,156.28 L79.10,155.98 L79.18,155.67 L79.26,155.36 L79.34,155.06 L79.43,154.76 L79.51,154.45 L79.59,154.15 L79.67,153.85 L79.76,153.55 L79.84,153.26 L79.92,152.96 L80.00,152.66 L80.09,152.37 L80.17,152.07 L80.25,151.78 L80.33,151.49 L80.41,151.20 L80.50,150.91 L80.58,150.62 L80.66,150.33 L80.74,150.05 L80.83,149.76 L80.91,149.48 L80.99,149.19 L81.07,148.91 L81.15,148.63 L81.24,148.35 L81.32,148.07 L81.40,147.79 L81.48,147.52 L81.57,147.24 L81.65,146.97 L81.73,146.69 L81.81,146.42 L81.90,146.15 L81.98,145.88 L82.06,145.61 L82.14,145.34 L82.22,145.07 L82.31,144.81 L82.39,144.54 L82.47,144.28 L82.55,144.01 L82.64,143.75 L82.72,143.49 L82.80,143.23 L82.88,142.97 L82.96,142.71 L83.05,142.45 L83.13,142.20 L83.21,141.94 L83.29,141.69 L83.38,141.44 L83.46,141.18 L83.54,140.93 L83.62,140.68 L83.71,140.43 L83.79,140.19 L83.87,139.94 L83.95,139.69 L84.03,139.45 L84.12,139.20 L84.20,138.96 L84.28,138.72 L84.36,138.48 L84.45,138.24 L84.53,138.00 L84.61,137.76 L84.69,137.52 L84.77,137.29 L84.86,137.05 L84.94,136.82 L85.02,136.58 L85.10,136.35 L85.19,136.12 L85.27,135.89 L85.35,135.66 L85.43,135.43 L85.52,135.20 L85.60,134.98 L85.68,134.75 L85.76,134.53 L85.84,134.30 L85.93,134.08 L86.01,133.86 L86.09,133.64 L86.17,133.42 L86.26,133.20 L86.34,132.98 L86.42,132.76 L86.50,132.55 L86.58,132.33 L86.67,132.12 L86.75,131.90 L86.83,131.69 L86.91,131.48 L87.00,131.27 L87.08,131.06 L87.16,130.85 L87.24,130.64 L87.33,130.43 L87.41,130.22 L87.49,130.02 L87.57,129.81 L87.65,129.61 L87.74,129.41 L87.82,129.20 L87.90,129.00 L87.98,128.80 L88.07,128.60 L88.15,128.40 L88.23,128.20 L88.31,128.01 L88.39,127.81 L88.48,127.61 L88.56,127.42 L88.64,127.23 L88.72,127.03 L88.81,126.84 L88.89,126.65 L88.97,126.46 L89.05,126.27 L89.14,126.08 L89.22,125.89 L89.30,125.70 L89.38,125.51 L89.46,125.33 L89.55,125.14 L89.63,124.96 L89.71,124.77 L89.79,124.59 L89.88,124.41 L89.96,124.23 L90.04,124.05 L90.12,123.87 L90.21,123.69 L90.29,123.51 L90.37,123.33 L90.45,123.15 L90.53,122.98 L90.62,122.80 L90.70,122.63 L90.78,122.45 L90.86,122.28 L90.95,122.11 L91.03,121.93 L91.11,121.76 L91.19,121.59 L91.27,121.42 L91.36,121.25 L91.44,121.08 L91.52,120.92 L91.60,120.75 L91.69,120.58 L91.77,120.42 L91.85,120.25 L91.93,120.09 L92.02,119.92 L92.10,119.76 L92.18,119.60 L92.26,119.44 L92.34,119.27 L92.43,119.11 L92.51,118.95 L92.59,118.80 L92.67,118.64 L92.76,118.48 L92.84,118.32 L92.92,118.17 L93.00,118.01 L93.08,117.85 L93.17,117.70 L93.25,117.55 L93.33,117.39 L93.41,117.24 L93.50,117.09 L93.58,116.94 L93.66,116.78 L93.74,116.63 L93.83,116.48 L93.91,116.34 L93.99,116.19 L94.07,116.04 L94.15,115.89 L94.24,115.75 L94.32,115.60 L94.40,115.45 L94.48,115.31 L94.57,115.17 L94.65,115.02 L94.73,114.88 L94.81,114.74 L94.89,114.59 L94.98,114.45 L95.06,114.31 L95.14,114.17 L95.22,114.03 L95.31,113.89 L95.39,113.75 L95.47,113.62 L95.55,113.48 L95.64,113.34 L95.72,113.20 L95.80,113.07 L95.88,112.93 L95.96,112.80 L96.05,112.66 L96.13,112.53 L96.21,112.40 L96.29,112.26 L96.38,112.13 L96.46,112.00 L96.54,111.87 L96.62,111.74 L96.70,111.61 L96.79,111.48 L96.87,111.35 L96.95,111.22 L97.03,111.09 L97.12,110.97 L97.20,110.84 L97.28,110.71 L97.36,110.59 L97.45,110.46 L97.53,110.34 L97.61,110.21 L97.69,110.09 L97.77,109.96 L97.86,109.84 L97.94,109.72 L98.02,109.60 L98.10,109.48 L98.19,109.35 L98.27,109.23 L98.35,109.11 L98.43,108.99 L98.51,108.87 L98.60,108.76 L98.68,108.64 L98.76,108.52 L98.84,108.40 L98.93,108.28 L99.01,108.17 L99.09,108.05 L99.17,107.94 L99.26,107.82 L99.34,107.71 L99.42,107.59 L99.50,107.48 L99.58,107.36 L99.67,107.25 L99.75,107.14 L99.83,107.03 L99.91,106.92 L100.00,106.80 L100.08,106.69 L100.16,106.58 L100.24,106.47 L100.32,106.36 L100.41,106.25 L100.49,106.15 L100.57,106.04 L100.65,105.93 L100.74,105.82 L100.82,105.71 L100.90,105.61 L100.98,105.50 L101.07,105.40 L101.15,105.29 L101.23,105.18 L101.31,105.08 L101.39,104.98 L101.48,104.87 L101.56,104.77 L101.64,104.66 L101.72,104.56 L101.81,104.46 L101.89,104.36 L101.97,104.26 L102.05,104.15 L102.13,104.05 L102.22,103.95 L102.30,103.85 L102.38,103.75 L102.46,103.65 L102.55,103.56 L102.63,103.46 L102.71,103.36 L102.79,103.26 L102.88,103.16 L102.96,103.07 L103.04,102.97 L103.12,102.87 L103.20,102.78 L103.29,102.68 L103.37,102.59 L103.45,102.49 L103.53,102.40 L103.62,102.30 L103.70,102.21 L103.78,102.11 L103.86,102.02 L103.94,101.93 L104.03,101.83 L104.11,101.74 L104.19,101.65 L104.27,101.56 L104.36,101.47 L104.44,101.38 L104.52,101.29 L104.60,101.20 L104.69,101.11 L104.77,101.02 L104.85,100.93 L104.93,100.84 L105.01,100.75 L105.10,100.66 L105.18,100.57 L105.26,100.48 L105.34,100.40 L105.43,100.31 L105.51,100.22 L105.59,100.14 L105.67,100.05 L105.75,99.96 L105.84,99.88 L105.92,99.79 L106.00,99.71 L106.08,99.62 L106.17,99.54 L106.25,99.46 L106.33,99.37 L106.41,99.29 L106.50,99.21 L106.58,99.12 L106.66,99.04 L106.74,98.96 L106.82,98.88 L106.91,98.79 L106.99,98.71 L107.07,98.63 L107.15,98.55 L107.24,98.47 L107.32,98.39 L107.40,98.31 L107.48,98.23 L107.56,98.15 L107.65,98.07 L107.73,97.99 L107.81,97.91 L107.89,97.84 L107.98,97.76 L108.06,97.68 L108.14,97.60 L108.22,97.52 L108.31,97.45 L108.39,97.37 L108.47,97.29 L108.55,97.22 L108.63,97.14 L108.72,97.07 L108.80,96.99 L108.88,96.92 L108.96,96.84 L109.05,96.77 L109.13,96.69 L109.21,96.62 L109.29,96.54 L109.38,96.47 L109.46,96.40 L109.54,96.32 L109.62,96.25 L109.70,96.18 L109.79,96.11 L109.87,96.04 L109.95,95.96 L110.03,95.89 L110.12,95.82 L110.20,95.75 L110.28,95.68 L110.36,95.61 L110.44,95.54 L110.53,95.47 L110.61,95.40 L110.69,95.33 L110.77,95.26 L110.86,95.19 L110.94,95.12 L111.02,95.05 L111.10,94.98 L111.19,94.91 L111.27,94.85 L111.35,94.78 L111.43,94.71 L111.51,94.64 L111.60,94.58 L111.68,94.51 L111.76,94.44 L111.84,94.38 L111.93,94.31 L112.01,94.24 L112.09,94.18 L112.17,94.11 L112.25,94.05 L112.34,93.98 L112.42,93.92 L112.50,93.85 L112.58,93.79 L112.67,93.72 L112.75,93.66 L112.83,93.60 L112.91,93.53 L113.00,93.47 L113.08,93.41 L113.16,93.34 L113.24,93.28 L113.32,93.22 L113.41,93.15 L113.49,93.09 L113.57,93.03 L113.65,92.97 L113.74,92.91 L113.82,92.85 L113.90,92.78 L113.98,92.72 L114.06,92.66 L114.15,92.60 L114.23,92.54 L114.31,92.48 L114.39,92.42 L114.48,92.36 L114.56,92.30 L114.64,92.24 L114.72,92.18 L114.81,92.12 L114.89,92.07 L114.97,92.01 L115.05,91.95 L115.13,91.89 L115.22,91.83 L115.30,91.77 L115.38,91.72 L115.46,91.66 L115.55,91.60 L115.63,91.54 L115.71,91.49 L115.79,91.43 L115.87,91.37 L115.96,91.32 L116.04,91.26 L116.12,91.20 L116.20,91.15 L116.29,91.09 L116.37,91.04 L116.45,90.98 L116.53,90.93 L116.62,90.87 L116.70,90.82 L116.78,90.76 L116.86,90.71 L116.94,90.65 L117.03,90.60 L117.11,90.54 L117.19,90.49 L117.27,90.44 L117.36,90.38 L117.44,90.33 L117.52,90.28 L117.60,90.22 L117.68,90.17 L117.77,90.12 L117.85,90.07 L117.93,90.01 L118.01,89.96 L118.10,89.91 L118.18,89.86 L118.26,89.81 L118.34,89.75 L118.43,89.70 L118.51,89.65 L118.59,89.60 L118.67,89.55 L118.75,89.50 L118.84,89.45 L118.92,89.40 L119.00,89.35 L119.08,89.30 L119.17,89.25 L119.25,89.20 L119.33,89.15 L119.41,89.10 L119.49,89.05 L119.58,89.00 L119.66,88.95 L119.74,88.90 L119.82,88.85 L119.91,88.80 L119.99,88.76 L120.07,88.71 L120.15,88.66 L120.24,88.61 L120.32,88.56 L120.40,88.52 L120.48,88.47 L120.56,88.42 L120.65,88.37 L120.73,88.33 L120.81,88.28 L120.89,88.23 L120.98,88.19 L121.06,88.14 L121.14,88.09 L121.22,88.05 L121.30,88.00 L121.39,87.95 L121.47,87.91 L121.55,87.86 L121.63,87.82 L121.72,87.77 L121.80,87.73 L121.88,87.68 L121.96,87.64 L122.05,87.59 L122.13,87.55 L122.21,87.50 L122.29,87.46 L122.37,87.41 L122.46,87.37 L122.54,87.32 L122.62,87.28 L122.70,87.24 L122.79,87.19 L122.87,87.15 L122.95,87.10 L123.03,87.06 L123.11,87.02 L123.20,86.97 L123.28,86.93 L123.36,86.89 L123.44,86.85 L123.53,86.80 L123.61,86.76 L123.69,86.72 L123.77,86.68 L123.86,86.63 L123.94,86.59 L124.02,86.55 L124.10,86.51 L124.18,86.47 L124.27,86.43 L124.35,86.38 L124.43,86.34 L124.51,86.30 L124.60,86.26 L124.68,86.22 L124.76,86.18 L124.84,86.14 L124.92,86.10 L125.01,86.06 L125.09,86.02 L125.17,85.98 L125.25,85.94 L125.34,85.90 L125.42,85.86 L125.50,85.82 L125.58,85.78 L125.67,85.74 L125.75,85.70 L125.83,85.66 L125.91,85.62 L125.99,85.58 L126.08,85.54 L126.16,85.50 L126.24,85.46 L126.32,85.43 L126.41,85.39 L126.49,85.35 L126.57,85.31 L126.65,85.27 L126.73,85.23 L126.82,85.20 L126.90,85.16 L126.98,85.12 L127.06,85.08 L127.15,85.04 L127.23,85.01 L127.31,84.97 L127.39,84.93 L127.48,84.90 L127.56,84.86 L127.64,84.82 L127.72,84.78 L127.80,84.75 L127.89,84.71 L127.97,84.67 L128.05,84.64 L128.13,84.60 L128.22,84.57 L128.30,84.53 L128.38,84.49 L128.46,84.46 L128.55,84.42 L128.63,84.39 L128.71,84.35 L128.79,84.32 L128.87,84.28 L128.96,84.24 L129.04,84.21 L129.12,84.17 L129.20,84.14 L129.29,84.10 L129.37,84.07 L129.45,84.03 L129.53,84.00 L129.61,83.97 L129.70,83.93 L129.78,83.90 L129.86,83.86 L129.94,83.83 L130.03,83.79 L130.11,83.76 L130.19,83.73 L130.27,83.69 L130.36,83.66 L130.44,83.62 L130.52,83.59 L130.60,83.56 L130.68,83.52 L130.77,83.49 L130.85,83.46 L130.93,83.42 L131.01,83.39 L131.10,83.36 L131.18,83.33 L131.26,83.29 L131.34,83.26 L131.42,83.23 L131.51,83.20 L131.59,83.16 L131.67,83.13 L131.75,83.10 L131.84,83.07 L131.92,83.03 L132.00,83.00 L132.08,82.97 L132.17,82.94 L132.25,82.91 L132.33,82.88 L132.41,82.84 L132.49,82.81 L132.58,82.78 L132.66,82.75 L132.74,82.72 L132.82,82.69 L132.91,82.66 L132.99,82.63 L133.07,82.60 L133.15,82.56 L133.23,82.53 L133.32,82.50 L133.40,82.47 L133.48,82.44 L133.56,82.41 L133.65,82.38 L133.73,82.35 L133.81,82.32 L133.89,82.29 L133.98,82.26 L134.06,82.23 L134.14,82.20 L134.22,82.17 L134.30,82.14 L134.39,82.11 L134.47,82.08 L134.55,82.05 L134.63,82.02 L134.72,81.99 L134.80,81.97 L134.88,81.94 L134.96,81.91 L135.04,81.88 L135.13,81.85 L135.21,81.82 L135.29,81.79 L135.37,81.76 L135.46,81.73 L135.54,81.71 L135.62,81.68 L135.70,81.65 L135.79,81.62 L135.87,81.59 L135.95,81.56 L136.03,81.54 L136.11,81.51 L136.20,81.48 L136.28,81.45 L136.36,81.42 L136.44,81.40 L136.53,81.37 L136.61,81.34 L136.69,81.31 L136.77,81.29 L136.85,81.26 L136.94,81.23 L137.02,81.20 L137.10,81.18 L137.18,81.15 L137.27,81.12 L137.35,81.10 L137.43,81.07 L137.51,81.04 L137.60,81.02 L137.68,80.99 L137.76,80.96 L137.84,80.94 L137.92,80.91 L138.01,80.88 L138.09,80.86 L138.17,80.83 L138.25,80.80 L138.34,80.78 L138.42,80.75 L138.50,80.73 L138.58,80.70 L138.66,80.67 L138.75,80.65 L138.83,80.62 L138.91,80.60 L138.99,80.57 L139.08,80.55 L139.16,80.52 L139.24,80.50 L139.32,80.47 L139.41,80.44 L139.49,80.42 L139.57,80.39 L139.65,80.37 L139.73,80.34 L139.82,80.32 L139.90,80.29 L139.98,80.27 L140.06,80.24 L140.15,80.22 L140.23,80.19 L140.31,80.17 L140.39,80.15 L140.47,80.12 L140.56,80.10 L140.64,80.07 L140.72,80.05 L140.80,80.02 L140.89,80.00 L140.97,79.98 L141.05,79.95 L141.13,79.93 L141.22,79.90 L141.30,79.88 L141.38,79.86 L141.46,79.83 L141.54,79.81 L141.63,79.78 L141.71,79.76 L141.79,79.74 L141.87,79.71 L141.96,79.69 L142.04,79.67 L142.12,79.64 L142.20,79.62 L142.28,79.60 L142.37,79.57 L142.45,79.55 L142.53,79.53 L142.61,79.50 L142.70,79.48 L142.78,79.46 L142.86,79.44 L142.94,79.41 L143.03,79.39 L143.11,79.37 L143.19,79.34 L143.27,79.32 L143.35,79.30 L143.44,79.28 L143.52,79.25 L143.60,79.23 L143.68,79.21 L143.77,79.19 L143.85,79.17 L143.93,79.14 L144.01,79.12 L144.09,79.10 L144.18,79.08 L144.26,79.06 L144.34,79.03 L144.42,79.01 L144.51,78.99 L144.59,78.97 L144.67,78.95 L144.75,78.93 L144.84,78.90 L144.92,78.88 L145.00,78.86 L145.08,78.84 L145.16,78.82 L145.25,78.80 L145.33,78.78 L145.41,78.75 L145.49,78.73 L145.58,78.71 L145.66,78.69 L145.74,78.67 L145.82,78.65 L145.91,78.63 L145.99,78.61 L146.07,78.59 L146.15,78.57 L146.23,78.54 L146.32,78.52 L146.40,78.50 L146.48,78.48 L146.56,78.46 L146.65,78.44 L146.73,78.42 L146.81,78.40 L146.89,78.38 L146.97,78.36 L147.06,78.34 L147.14,78.32 L147.22,78.30 L147.30,78.28 L147.39,78.26 L147.47,78.24 L147.55,78.22 L147.63,78.20 L147.72,78.18 L147.80,78.16 L147.88,78.14 L147.96,78.12 L148.04,78.10 L148.13,78.08 L148.21,78.06 L148.29,78.04 L148.37,78.02 L148.46,78.00 L148.54,77.98 L148.62,77.96 L148.70,77.94 L148.78,77.93 L148.87,77.91 L148.95,77.89 L149.03,77.87 L149.11,77.85 L149.20,77.83 L149.28,77.81 L149.36,77.79 L149.44,77.77 L149.53,77.75 L149.61,77.73 L149.69,77.72 L149.77,77.70 L149.85,77.68 L149.94,77.66 L150.02,77.64 L150.10,77.62 L150.18,77.60 L150.27,77.59 L150.35,77.57 L150.43,77.55 L150.51,77.53 L150.59,77.51 L150.68,77.49 L150.76,77.48 L150.84,77.46 L150.92,77.44 L151.01,77.42 L151.09,77.40 L151.17,77.38 L151.25,77.37 L151.34,77.35 L151.42,77.33 L151.50,77.31 L151.58,77.30 L151.66,77.28 L151.75,77.26 L151.83,77.24 L151.91,77.22 L151.99,77.21 L152.08,77.19 L152.16,77.17 L152.24,77.15 L152.32,77.14 L152.40,77.12 L152.49,77.10 L152.57,77.08 L152.65,77.07 L152.73,77.05 L152.82,77.03 L152.90,77.01 L152.98,77.00 L153.06,76.98 L153.15,76.96 L153.23,76.95 L153.31,76.93 L153.39,76.91 L153.47,76.89 L153.56,76.88 L153.64,76.86 L153.72,76.84 L153.80,76.83 L153.89,76.81 L153.97,76.79 L154.05,76.78 L154.13,76.76 L154.21,76.74 L154.30,76.73 L154.38,76.71 L154.46,76.69 L154.54,76.68 L154.63,76.66 L154.71,76.64 L154.79,76.63 L154.87,76.61 L154.96,76.60 L155.04,76.58 L155.12,76.56 L155.20,76.55 L155.28,76.53 L155.37,76.51 L155.45,76.50 L155.53,76.48 L155.61,76.47 L155.70,76.45 L155.78,76.43 L155.86,76.42 L155.94,76.40 L156.02,76.39 L156.11,76.37 L156.19,76.36 L156.27,76.34 L156.35,76.32 L156.44,76.31 L156.52,76.29 L156.60,76.28 L156.68,76.26 L156.77,76.25 L156.85,76.23 L156.93,76.21 L157.01,76.20 L157.09,76.18 L157.18,76.17 L157.26,76.15 L157.34,76.14 L157.42,76.12 L157.51,76.11 L157.59,76.09 L157.67,76.08 L157.75,76.06 L157.83,76.05 L157.92,76.03 L158.00,76.02 L158.08,76.00 L158.16,75.99 L158.25,75.97 L158.33,75.96 L158.41,75.94 L158.49,75.93 L158.58,75.91 L158.66,75.90 L158.74,75.88 L158.82,75.87 L158.90,75.85 L158.99,75.84 L159.07,75.82 L159.15,75.81 L159.23,75.79 L159.32,75.78 L159.40,75.76 L159.48,75.75 L159.56,75.74 L159.64,75.72 L159.73,75.71 L159.81,75.69 L159.89,75.68 L159.97,75.66 L160.06,75.65 L160.14,75.63 L160.22,75.62 L160.30,75.61 L160.39,75.59 L160.47,75.58 L160.55,75.56 L160.63,75.55 L160.71,75.54 L160.80,75.52 L160.88,75.51 L160.96,75.49 L161.04,75.48 L161.13,75.47 L161.21,75.45 L161.29,75.44 L161.37,75.42 L161.45,75.41 L161.54,75.40 L161.62,75.38 L161.70,75.37 L161.78,75.36 L161.87,75.34 L161.95,75.33 L162.03,75.31 L162.11,75.30 L162.20,75.29 L162.28,75.27 L162.36,75.26 L162.44,75.25 L162.52,75.23 L162.61,75.22 L162.69,75.21 L162.77,75.19 L162.85,75.18 L162.94,75.17 L163.02,75.15 L163.10,75.14 L163.18,75.13 L163.26,75.11 L163.35,75.10 L163.43,75.09 L163.51,75.07 L163.59,75.06 L163.68,75.05 L163.76,75.03 L163.84,75.02 L163.92,75.01 L164.01,75.00 L164.09,74.98 L164.17,74.97 L164.25,74.96 L164.33,74.94 L164.42,74.93 L164.50,74.92 L164.58,74.91 L164.66,74.89 L164.75,74.88 L164.83,74.87 L164.91,74.85 L164.99,74.84 L165.08,74.83 L165.16,74.82 L165.24,74.80 L165.32,74.79 L165.40,74.78 L165.49,74.77 L165.57,74.75 L165.65,74.74 L165.73,74.73 L165.82,74.72 L165.90,74.70 L165.98,74.69 L166.06,74.68 L166.14,74.67 L166.23,74.65 L166.31,74.64 L166.39,74.63 L166.47,74.62 L166.56,74.61 L166.64,74.59 L166.72,74.58 L166.80,74.57 L166.89,74.56 L166.97,74.55 L167.05,74.53 L167.13,74.52 L167.21,74.51 L167.30,74.50 L167.38,74.49 L167.46,74.47 L167.54,74.46 L167.63,74.45 L167.71,74.44 L167.79,74.43 L167.87,74.41 L167.95,74.40 L168.04,74.39 L168.12,74.38 L168.20,74.37 L168.28,74.36 L168.37,74.34 L168.45,74.33 L168.53,74.32 L168.61,74.31 L168.70,74.30 L168.78,74.29 L168.86,74.27 L168.94,74.26 L169.02,74.25 L169.11,74.24 L169.19,74.23 L169.27,74.22 L169.35,74.21 L169.44,74.19 L169.52,74.18 L169.60,74.17 L169.68,74.16 L169.76,74.15 L169.85,74.14 L169.93,74.13 L170.01,74.11 L170.09,74.10 L170.18,74.09 L170.26,74.08 L170.34,74.07 L170.42,74.06 L170.51,74.05 L170.59,74.04 L170.67,74.03 L170.75,74.01 L170.83,74.00 L170.92,73.99 L171.00,73.98 L171.08,73.97 L171.16,73.96 L171.25,73.95 L171.33,73.94 L171.41,73.93 L171.49,73.92 L171.57,73.91 L171.66,73.89 L171.74,73.88 L171.82,73.87 L171.90,73.86 L171.99,73.85 L172.07,73.84 L172.15,73.83 L172.23,73.82 L172.32,73.81 L172.40,73.80 L172.48,73.79 L172.56,73.78 L172.64,73.77 L172.73,73.76 L172.81,73.74 L172.89,73.73 L172.97,73.72 L173.06,73.71 L173.14,73.70 L173.22,73.69 L173.30,73.68 L173.38,73.67 L173.47,73.66 L173.55,73.65 L173.63,73.64 L173.71,73.63 L173.80,73.62 L173.88,73.61 L173.96,73.60 L174.04,73.59 L174.13,73.58 L174.21,73.57 L174.29,73.56 L174.37,73.55 L174.45,73.54 L174.54,73.53 L174.62,73.52 L174.70,73.51 L174.78,73.50 L174.87,73.49 L174.95,73.48 L175.03,73.47 L175.11,73.46 L175.19,73.45 L175.28,73.44 L175.36,73.43 L175.44,73.42 L175.52,73.41 L175.61,73.40 L175.69,73.39 L175.77,73.38 L175.85,73.37 L175.94,73.36 L176.02,73.35 L176.10,73.34 L176.18,73.33 L176.26,73.32 L176.35,73.31 L176.43,73.30 L176.51,73.29 L176.59,73.28 L176.68,73.27 L176.76,73.26 L176.84,73.25 L176.92,73.24 L177.00,73.23 L177.09,73.22 L177.17,73.21 L177.25,73.20 L177.33,73.19 L177.42,73.19 L177.50,73.18 L177.58,73.17 L177.66,73.16 L177.75,73.15 L177.83,73.14 L177.91,73.13 L177.99,73.12 L178.07,73.11 L178.16,73.10 L178.24,73.09 L178.32,73.08 L178.40,73.07 L178.49,73.06 L178.57,73.05 L178.65,73.04 L178.73,73.04 L178.81,73.03 L178.90,73.02 L178.98,73.01 L179.06,73.00 L179.14,72.99 L179.23,72.98 L179.31,72.97 L179.39,72.96 L179.47,72.95 L179.56,72.94 L179.64,72.94 L179.72,72.93 L179.80,72.92 L179.88,72.91 L179.97,72.90 L180.05,72.89 L180.13,72.88 L180.21,72.87 L180.30,72.86 L180.38,72.85 L180.46,72.85 L180.54,72.84 L180.62,72.83 L180.71,72.82 L180.79,72.81 L180.87,72.80 L180.95,72.79 L181.04,72.78 L181.12,72.78 L181.20,72.77 L181.28,72.76 L181.37,72.75 L181.45,72.74 L181.53,72.73 L181.61,72.72 L181.69,72.71 L181.78,72.71 L181.86,72.70 L181.94,72.69 L182.02,72.68 L182.11,72.67 L182.19,72.66 L182.27,72.65 L182.35,72.65 L182.43,72.64 L182.52,72.63 L182.60,72.62 L182.68,72.61 L182.76,72.60 L182.85,72.59 L182.93,72.59 L183.01,72.58 L183.09,72.57 L183.18,72.56 L183.26,72.55 L183.34,72.54 L184.11,72.47 L184.89,72.39 L185.66,72.31 L186.44,72.24 L187.21,72.17 L187.98,72.10 L188.76,72.02 L189.53,71.95 L190.31,71.89 L191.08,71.82 L191.85,71.75 L192.63,71.69 L193.40,71.62 L194.17,71.56 L194.95,71.50 L195.72,71.44 L196.50,71.37 L197.27,71.32 L198.04,71.26 L198.82,71.20 L199.59,71.14 L200.37,71.09 L201.14,71.03 L201.91,70.98 L202.69,70.92 L203.46,70.87 L204.24,70.82 L205.01,70.76 L205.78,70.71 L206.56,70.66 L207.33,70.61 L208.11,70.57 L208.88,70.52 L209.65,70.47 L210.43,70.42 L211.20,70.38 L211.97,70.33 L212.75,70.29 L213.52,70.24 L214.30,70.20 L215.07,70.16 L215.84,70.11 L216.62,70.07 L217.39,70.03 L218.17,69.99 L218.94,69.95 L219.71,69.91 L220.49,69.87 L221.26,69.83 L222.04,69.79 L222.81,69.76 L223.58,69.72 L224.36,69.68 L225.13,69.65 L225.91,69.61 L226.68,69.57 L227.45,69.54 L228.23,69.50 L229.00,69.47 L229.77,69.44 L230.55,69.40 L231.32,69.37 L232.10,69.34 L232.87,69.31 L233.64,69.27 L234.42,69.24 L235.19,69.21 L235.97,69.18 L236.74,69.15 L237.51,69.12 L238.29,69.09 L239.06,69.06 L239.84,69.03 L240.61,69.01 L241.38,68.98 L242.16,68.95 L242.93,68.92 L243.71,68.90 L244.48,68.87 L245.25,68.84 L246.03,68.82 L246.80,68.79 L247.57,68.76 L248.35,68.74 L249.12,68.71 L249.90,68.69 L250.67,68.66 L251.44,68.64 L252.22,68.62 L252.99,68.59 L253.77,68.57 L254.54,68.55 L255.31,68.52 L256.09,68.50 L256.86,68.48 L257.64,68.46 L258.41,68.43 L259.18,68.41 L259.96,68.39 L260.73,68.37 L261.51,68.35 L262.28,68.33 L263.05,68.31 L263.83,68.29 L264.60,68.27 L265.37,68.25 L266.15,68.23 L266.92,68.21 L267.70,68.19 L268.47,68.17 L269.24,68.15 L270.02,68.13 L270.79,68.11 L271.57,68.09 L272.34,68.08 L273.11,68.06 L273.89,68.04 L274.66,68.02 L275.44,68.01 L276.21,67.99 L276.98,67.97 L277.76,67.95 L278.53,67.94 L279.31,67.92 L280.08,67.90 L280.85,67.89 L281.63,67.87 L282.40,67.86 L283.17,67.84 L283.95,67.82 L284.72,67.81 L285.50,67.79 L286.27,67.78 L287.04,67.76 L287.82,67.75 L288.59,67.73 L289.37,67.72 L290.14,67.70 L290.91,67.69 L291.69,67.68 L292.46,67.66 L293.24,67.65 L294.01,67.63 L294.78,67.62 L295.56,67.61 L296.33,67.59 L297.11,67.58 L297.88,67.57 L298.65,67.55 L299.43,67.54 L300.20,67.53 L300.97,67.51 L301.75,67.50 L302.52,67.49 L303.30,67.48 L304.07,67.46 L304.84,67.45 L305.62,67.44 L306.39,67.43 L307.17,67.42 L307.94,67.40 L308.71,67.39 L309.49,67.38 L310.26,67.37 L311.04,67.36 L311.81,67.35 L312.58,67.34 L313.36,67.32 L314.13,67.31 L314.91,67.30 L315.68,67.29 L316.45,67.28 L317.23,67.27 L318.00,67.26 L318.77,67.25 L319.55,67.24 L320.32,67.23 L321.10,67.22 L321.87,67.21 L322.64,67.20 L323.42,67.19 L324.19,67.18 L324.97,67.17 L325.74,67.16 L326.51,67.15 L327.29,67.14 L328.06,67.13 L328.84,67.12 L329.61,67.11 L330.38,67.10 L331.16,67.09 L331.93,67.08 L332.71,67.08 L333.48,67.07 L334.25,67.06 L335.03,67.05 L335.80,67.04 L336.57,67.03 L337.35,67.02 L338.12,67.01 L338.90,67.01 L339.67,67.00 L340.44,66.99 L341.22,66.98 L341.99,66.97 L342.77,66.97 L343.54,66.96 L344.31,66.95 L345.09,66.94 L345.86,66.93 L346.64,66.93 L347.41,66.92 L348.18,66.91 L348.96,66.90 L349.73,66.89 L350.51,66.89 L351.28,66.88 L352.05,66.87 L352.83,66.86 L353.60,66.86 L354.37,66.85 L355.15,66.84 L355.92,66.84 L356.70,66.83 L357.47,66.82 L358.24,66.81 L359.02,66.81 L359.79,66.80 L360.57,66.79 L361.34,66.79 L362.11,66.78 L362.89,66.77 L363.66,66.77 L364.44,66.76 L365.21,66.75 L365.98,66.75 L366.76,66.74 L367.53,66.73 L368.31,66.73 L369.08,66.72 L369.85,66.72 L370.63,66.71 L371.40,66.70 L372.17,66.70 L372.95,66.69 L373.72,66.69 L374.50,66.68 L375.27,66.67 L376.04,66.67 L376.82,66.66 L377.59,66.66 L378.37,66.65 L379.14,66.64 L379.91,66.64 L380.69,66.63 L381.46,66.63 L382.24,66.62 L383.01,66.62 L383.78,66.61 L384.56,66.60 L385.33,66.60 L386.11,66.59 L386.88,66.59 L387.65,66.58 L388.43,66.58 L389.20,66.57 L389.97,66.57 L390.75,66.56 L391.52,66.56 L392.30,66.55 L393.07,66.55 L393.84,66.54 L394.62,66.54 L395.39,66.53 L396.17,66.53 L396.94,66.52 L397.71,66.52 L398.49,66.51 L399.26,66.51 L400.04,66.50 L400.81,66.50 L401.58,66.49 L402.36,66.49 L403.13,66.48 L403.91,66.48 L404.68,66.47 L405.45,66.47 L406.23,66.47 L407.00,66.46 L407.77,66.46 L408.55,66.45 L409.32,66.45 L410.10,66.44 L410.87,66.44 L411.64,66.43 L412.42,66.43 L413.19,66.43 L413.97,66.42 L414.74,66.42" stroke="#00aa00" stroke-width="1.08" stroke-dasharray="9.05 5.74"/>
<path d="M72.48,-0.15 L72.56,1.47 L72.63,3.07 L72.71,4.64 L72.78,6.18 L72.85,7.70 L72.93,9.20 L73.00,10.67 L73.08,12.12 L73.15,13.55 L73.22,14.95 L73.30,16.33 L73.37,17.69 L73.45,19.02 L73.52,20.34 L73.59,21.63 L73.67,22.91 L73.74,24.16 L73.81,25.39 L73.89,26.61 L73.96,27.80 L74.04,28.98 L74.11,30.13 L74.18,31.27 L74.26,32.39 L74.33,33.50 L74.41,34.58 L74.48,35.65 L74.55,36.70 L74.63,37.74 L74.70,38.76 L74.78,39.76 L74.85,40.75 L74.92,41.72 L75.00,42.67 L75.07,43.62 L75.15,44.54 L75.22,45.45 L75.29,46.35 L75.37,47.23 L75.44,48.10 L75.52,48.96 L75.59,49.80 L75.66,50.63 L75.74,51.45 L75.81,52.25 L75.89,53.04 L75.96,53.82 L76.03,54.59 L76.11,55.34 L76.18,56.08 L76.26,56.81 L76.33,57.53 L76.40,58.24 L76.48,58.94 L76.55,59.62 L76.63,60.30 L76.70,60.96 L76.77,61.62 L76.85,62.26 L76.92,62.90 L76.99,63.52 L77.07,64.14 L77.14,64.74 L77.22,65.34 L77.29,65.92 L77.36,66.50 L77.44,67.06 L77.51,67.62 L77.59,68.17 L77.66,68.71 L77.73,69.25 L77.81,69.77 L77.88,70.29 L77.96,70.80 L78.03,71.30 L78.10,71.79 L78.18,72.27 L78.25,72.75 L78.33,73.22 L78.40,73.68 L78.47,74.13 L78.55,74.58 L78.62,75.02 L78.70,75.45 L78.77,75.88 L78.84,76.30 L78.92,76.71 L78.99,77.12 L79.07,77.52 L79.14,77.91 L79.21,78.30 L79.29,78.68 L79.36,79.05 L79.44,79.42 L79.51,79.78 L79.58,80.14 L79.66,80.49 L79.73,80.84 L79.81,81.18 L79.88,81.51 L79.95,81.84 L80.03,82.17 L80.10,82.48 L80.17,82.80 L80.25,83.11 L80.32,83.41 L80.40,83.71 L80.47,84.00 L80.54,84.29 L80.62,84.57 L80.69,84.85 L80.77,85.13 L80.84,85.40 L80.91,85.66 L80.99,85.92 L81.06,86.18 L81.14,86.43 L81.21,86.68 L81.28,86.92 L81.36,87.16 L81.43,87.40 L81.51,87.63 L81.58,87.86 L81.65,88.08 L81.73,88.30 L81.80,88.52 L81.88,88.73 L81.95,88.94 L82.02,89.15 L82.10,89.35 L82.17,89.55 L82.25,89.74 L82.32,89.93 L82.39,90.12 L82.47,90.31 L82.54,90.49 L82.62,90.67 L82.69,90.84 L82.76,91.02 L82.84,91.18 L82.91,91.35 L82.99,91.51 L83.06,91.67 L83.13,91.83 L83.21,91.99 L83.28,92.14 L83.35,92.29 L83.43,92.43 L83.50,92.58 L83.58,92.72 L83.65,92.85 L83.72,92.99 L83.80,93.12 L83.87,93.25 L83.95,93.38 L84.02,93.51 L84.09,93.63 L84.17,93.75 L84.24,93.87 L84.32,93.98 L84.39,94.10 L84.46,94.21 L84.54,94.32 L84.61,94.43 L84.69,94.53 L84.76,94.63 L84.83,94.73 L84.91,94.83 L84.98,94.93 L85.06,95.02 L85.13,95.12 L85.20,95.21 L85.28,95.30 L85.35,95.38 L85.43,95.47 L85.50,95.55 L85.57,95.63 L85.65,95.71 L85.72,95.79 L85.80,95.87 L85.87,95.94 L85.94,96.01 L86.02,96.08 L86.09,96.15 L86.17,96.22 L86.24,96.29 L86.31,96.35 L86.39,96.41 L86.46,96.47 L86.53,96.53 L86.61,96.59 L86.68,96.65 L86.76,96.70 L86.83,96.76 L86.90,96.81 L86.98,96.86 L87.05,96.91 L87.13,96.96 L87.20,97.01 L87.27,97.05 L87.35,97.10 L87.42,97.14 L87.50,97.18 L87.57,97.22 L87.64,97.26 L87.72,97.30 L87.79,97.34 L87.87,97.37 L87.94,97.41 L88.01,97.44 L88.09,97.47 L88.16,97.50 L88.24,97.53 L88.31,97.56 L88.38,97.59 L88.46,97.62 L88.53,97.64 L88.61,97.67 L88.68,97.69 L88.75,97.72 L88.83,97.74 L88.90,97.76 L88.98,97.78 L89.05,97.80 L89.12,97.82 L89.20,97.83 L89.27,97.85 L89.35,97.86 L89.42,97.88 L89.49,97.89 L89.57,97.90 L89.64,97.92 L89.71,97.93 L89.79,97.94 L89.86,97.95 L89.94,97.96 L90.01,97.96 L90.08,97.97 L90.16,97.98 L90.23,97.98 L90.31,97.99 L90.38,97.99 L90.45,98.00 L90.53,98.00 L90.60,98.00 L90.68,98.00 L90.75,98.00 L90.82,98.00 L90.90,98.00 L90.97,98.00 L91.05,98.00 L91.12,98.00 L91.19,97.99 L91.27,97.99 L91.34,97.98 L91.42,97.98 L91.49,97.97 L91.56,97.97 L91.64,97.96 L91.71,97.95 L91.79,97.94 L91.86,97.94 L91.93,97.93 L92.01,97.92 L92.08,97.91 L92.16,97.90 L92.23,97.89 L92.30,97.87 L92.38,97.86 L92.45,97.85 L92.53,97.84 L92.60,97.82 L92.67,97.81 L92.75,97.79 L92.82,97.78 L92.89,97.76 L92.97,97.75 L93.04,97.73 L93.12,97.71 L93.19,97.70 L93.26,97.68 L93.34,97.66 L93.41,97.64 L93.49,97.63 L93.56,97.61 L93.63,97.59 L93.71,97.57 L93.78,97.55 L93.86,97.53 L93.93,97.51 L94.00,97.48 L94.08,97.46 L94.15,97.44 L94.23,97.42 L94.30,97.40 L94.37,97.37 L94.45,97.35 L94.52,97.33 L94.60,97.30 L94.67,97.28 L94.74,97.25 L94.82,97.23 L94.89,97.20 L94.97,97.18 L95.04,97.15 L95.11,97.13 L95.19,97.10 L95.26,97.07 L95.34,97.05 L95.41,97.02 L95.48,96.99 L95.56,96.96 L95.63,96.94 L95.71,96.91 L95.78,96.88 L95.85,96.85 L95.93,96.82 L96.00,96.79 L96.07,96.76 L96.15,96.74 L96.22,96.71 L96.30,96.68 L96.37,96.65 L96.44,96.62 L96.52,96.59 L96.59,96.55 L96.67,96.52 L96.74,96.49 L96.81,96.46 L96.89,96.43 L96.96,96.40 L97.04,96.37 L97.11,96.33 L97.18,96.30 L97.26,96.27 L97.33,96.24 L97.41,96.20 L97.48,96.17 L97.55,96.14 L97.63,96.11 L97.70,96.07 L97.78,96.04 L97.85,96.01 L97.92,95.97 L98.00,95.94 L98.07,95.90 L98.15,95.87 L98.22,95.84 L98.29,95.80 L98.37,95.77 L98.44,95.73 L98.52,95.70 L98.59,95.66 L98.66,95.63 L98.74,95.59 L98.81,95.56 L98.89,95.52 L98.96,95.49 L99.03,95.45 L99.11,95.41 L99.18,95.38 L99.25,95.34 L99.33,95.31 L99.40,95.27 L99.48,95.23 L99.55,95.20 L99.62,95.16 L99.70,95.13 L99.77,95.09 L99.85,95.05 L99.92,95.02 L99.99,94.98 L100.07,94.94 L100.14,94.90 L100.22,94.87 L100.29,94.83 L100.36,94.79 L100.44,94.76 L100.51,94.72 L100.59,94.68 L100.66,94.64 L100.73,94.61 L100.81,94.57 L100.88,94.53 L100.96,94.49 L101.03,94.46 L101.10,94.42 L101.18,94.38 L101.25,94.34 L101.33,94.31 L101.40,94.27 L101.47,94.23 L101.55,94.19 L101.62,94.15 L101.70,94.12 L101.77,94.08 L101.84,94.04 L101.92,94.00 L101.99,93.96 L102.07,93.92 L102.14,93.89 L102.21,93.85 L102.29,93.81 L102.36,93.77 L102.43,93.73 L102.51,93.69 L102.58,93.66 L102.66,93.62 L102.73,93.58 L102.80,93.54 L102.88,93.50 L102.95,93.46 L103.03,93.42 L103.10,93.39 L103.17,93.35 L103.25,93.31 L103.32,93.27 L103.40,93.23 L103.47,93.19 L103.54,93.15 L103.62,93.12 L103.69,93.08 L103.77,93.04 L103.84,93.00 L103.91,92.96 L103.99,92.92 L104.06,92.88 L104.14,92.84 L104.21,92.81 L104.28,92.77 L104.36,92.73 L104.43,92.69 L104.51,92.65 L104.58,92.61 L104.65,92.57 L104.73,92.53 L104.80,92.50 L104.88,92.46 L104.95,92.42 L105.02,92.38 L105.10,92.34 L105.17,92.30 L105.25,92.26 L105.32,92.22 L105.39,92.19 L105.47,92.15 L105.54,92.11 L105.61,92.07 L105.69,92.03 L105.76,91.99 L105.84,91.95 L105.91,91.92 L105.98,91.88 L106.06,91.84 L106.13,91.80 L106.21,91.76 L106.28,91.72 L106.35,91.68 L106.43,91.65 L106.50,91.61 L106.58,91.57 L106.65,91.53 L106.72,91.49 L106.80,91.45 L106.87,91.42 L106.95,91.38 L107.02,91.34 L107.09,91.30 L107.17,91.26 L107.24,91.23 L107.32,91.19 L107.39,91.15 L107.46,91.11 L107.54,91.07 L107.61,91.04 L107.69,91.00 L107.76,90.96 L107.83,90.92 L107.91,90.88 L107.98,90.85 L108.06,90.81 L108.13,90.77 L108.20,90.73 L108.28,90.69 L108.35,90.66 L108.43,90.62 L108.50,90.58 L108.57,90.54 L108.65,90.51 L108.72,90.47 L108.79,90.43 L108.87,90.39 L108.94,90.36 L109.02,90.32 L109.09,90.28 L109.16,90.24 L109.24,90.21 L109.31,90.17 L109.39,90.13 L109.46,90.10 L109.53,90.06 L109.61,90.02 L109.68,89.98 L109.76,89.95 L109.83,89.91 L109.90,89.87 L109.98,89.84 L110.05,89.80 L110.13,89.76 L110.20,89.73 L110.27,89.69 L110.35,89.65 L110.42,89.62 L110.50,89.58 L110.57,89.54 L110.64,89.51 L110.72,89.47 L110.79,89.43 L110.87,89.40 L110.94,89.36 L111.01,89.33 L111.09,89.29 L111.16,89.25 L111.24,89.22 L111.31,89.18 L111.38,89.15 L111.46,89.11 L111.53,89.07 L111.61,89.04 L111.68,89.00 L111.75,88.97 L111.83,88.93 L111.90,88.89 L111.97,88.86 L112.05,88.82 L112.12,88.79 L112.20,88.75 L112.27,88.72 L112.34,88.68 L112.42,88.65 L112.49,88.61 L112.57,88.58 L112.64,88.54 L112.71,88.51 L112.79,88.47 L112.86,88.44 L112.94,88.40 L113.01,88.37 L113.08,88.33 L113.16,88.30 L113.23,88.26 L113.31,88.23 L113.38,88.19 L113.45,88.16 L113.53,88.12 L113.60,88.09 L113.68,88.05 L113.75,88.02 L113.82,87.98 L113.90,87.95 L113.97,87.92 L114.05,87.88 L114.12,87.85 L114.19,87.81 L114.27,87.78 L114.34,87.74 L114.42,87.71 L114.49,87.68 L114.56,87.64 L114.64,87.61 L114.71,87.58 L114.79,87.54 L114.86,87.51 L114.93,87.47 L115.01,87.44 L115.08,87.41 L115.15,87.37 L115.23,87.34 L115.30,87.31 L115.38,87.27 L115.45,87.24 L115.52,87.21 L115.60,87.17 L115.67,87.14 L115.75,87.11 L115.82,87.08 L115.89,87.04 L115.97,87.01 L116.04,86.98 L116.12,86.94 L116.19,86.91 L116.26,86.88 L116.34,86.85 L116.41,86.81 L116.49,86.78 L116.56,86.75 L116.63,86.72 L116.71,86.68 L116.78,86.65 L116.86,86.62 L116.93,86.59 L117.00,86.55 L117.08,86.52 L117.15,86.49 L117.23,86.46 L117.30,86.43 L117.37,86.39 L117.45,86.36 L117.52,86.33 L117.60,86.30 L117.67,86.27 L117.74,86.24 L117.82,86.20 L117.89,86.17 L117.97,86.14 L118.04,86.11 L118.11,86.08 L118.19,86.05 L118.26,86.02 L118.33,85.99 L118.41,85.95 L118.48,85.92 L118.56,85.89 L118.63,85.86 L118.70,85.83 L118.78,85.80 L118.85,85.77 L118.93,85.74 L119.00,85.71 L119.07,85.68 L119.15,85.65 L119.22,85.62 L119.30,85.58 L119.37,85.55 L119.44,85.52 L119.52,85.49 L119.59,85.46 L119.67,85.43 L119.74,85.40 L119.81,85.37 L119.89,85.34 L119.96,85.31 L120.04,85.28 L120.11,85.25 L120.18,85.22 L120.26,85.19 L120.33,85.16 L120.41,85.13 L120.48,85.10 L120.55,85.07 L120.63,85.04 L120.70,85.02 L120.78,84.99 L120.85,84.96 L120.92,84.93 L121.00,84.90 L121.07,84.87 L121.15,84.84 L121.22,84.81 L121.29,84.78 L121.37,84.75 L121.44,84.72 L121.51,84.69 L121.59,84.67 L121.66,84.64 L121.74,84.61 L121.81,84.58 L121.88,84.55 L121.96,84.52 L122.03,84.49 L122.11,84.46 L122.18,84.44 L122.25,84.41 L122.33,84.38 L122.40,84.35 L122.48,84.32 L122.55,84.29 L122.62,84.27 L122.70,84.24 L122.77,84.21 L122.85,84.18 L122.92,84.15 L122.99,84.13 L123.07,84.10 L123.14,84.07 L123.22,84.04 L123.29,84.02 L123.36,83.99 L123.44,83.96 L123.51,83.93 L123.59,83.91 L123.66,83.88 L123.73,83.85 L123.81,83.82 L123.88,83.80 L123.96,83.77 L124.03,83.74 L124.10,83.71 L124.18,83.69 L124.25,83.66 L124.33,83.63 L124.40,83.61 L124.47,83.58 L124.55,83.55 L124.62,83.53 L124.69,83.50 L124.77,83.47 L124.84,83.45 L124.92,83.42 L124.99,83.39 L125.06,83.37 L125.14,83.34 L125.21,83.31 L125.29,83.29 L125.36,83.26 L125.43,83.23 L125.51,83.21 L125.58,83.18 L125.66,83.16 L125.73,83.13 L125.80,83.10 L125.88,83.08 L125.95,83.05 L126.03,83.03 L126.10,83.00 L126.17,82.97 L126.25,82.95 L126.32,82.92 L126.40,82.90 L126.47,82.87 L126.54,82.85 L126.62,82.82 L126.69,82.80 L126.77,82.77 L126.84,82.75 L126.91,82.72 L126.99,82.69 L127.06,82.67 L127.14,82.64 L127.21,82.62 L127.28,82.59 L127.36,82.57 L127.43,82.54 L127.51,82.52 L127.58,82.49 L127.65,82.47 L127.73,82.44 L127.80,82.42 L127.87,82.40 L127.95,82.37 L128.02,82.35 L128.10,82.32 L128.17,82.30 L128.24,82.27 L128.32,82.25 L128.39,82.22 L128.47,82.20 L128.54,82.18 L128.61,82.15 L128.69,82.13 L128.76,82.10 L128.84,82.08 L128.91,82.05 L128.98,82.03 L129.06,82.01 L129.13,81.98 L129.21,81.96 L129.28,81.94 L129.35,81.91 L129.43,81.89 L129.50,81.86 L129.58,81.84 L129.65,81.82 L129.72,81.79 L129.80,81.77 L129.87,81.75 L129.95,81.72 L130.02,81.70 L130.09,81.68 L130.17,81.65 L130.24,81.63 L130.32,81.61 L130.39,81.58 L130.46,81.56 L130.54,81.54 L130.61,81.51 L130.69,81.49 L130.76,81.47 L130.83,81.45 L130.91,81.42 L130.98,81.40 L131.05,81.38 L131.13,81.35 L131.20,81.33 L131.28,81.31 L131.35,81.29 L131.42,81.26 L131.50,81.24 L131.57,81.22 L131.65,81.20 L131.72,81.17 L131.79,81.15 L131.87,81.13 L131.94,81.11 L132.02,81.08 L132.09,81.06 L132.16,81.04 L132.24,81.02 L132.31,81.00 L132.39,80.97 L132.46,80.95 L132.53,80.93 L132.61,80.91 L132.68,80.89 L132.76,80.86 L132.83,80.84 L132.90,80.82 L132.98,80.80 L133.05,80.78 L133.13,80.76 L133.20,80.73 L133.27,80.71 L133.35,80.69 L133.42,80.67 L133.50,80.65 L133.57,80.63 L133.64,80.61 L133.72,80.58 L133.79,80.56 L133.87,80.54 L133.94,80.52 L134.01,80.50 L134.09,80.48 L134.16,80.46 L134.23,80.44 L134.31,80.42 L134.38,80.40 L134.46,80.37 L134.53,80.35 L134.60,80.33 L134.68,80.31 L134.75,80.29 L134.83,80.27 L134.90,80.25 L134.97,80.23 L135.05,80.21 L135.12,80.19 L135.20,80.17 L135.27,80.15 L135.34,80.13 L135.42,80.11 L135.49,80.09 L135.57,80.07 L135.64,80.05 L135.71,80.03 L135.79,80.00 L135.86,79.98 L135.94,79.96 L136.01,79.94 L136.08,79.92 L136.16,79.90 L136.23,79.88 L136.31,79.86 L136.38,79.84 L136.45,79.82 L136.53,79.80 L136.60,79.79 L136.68,79.77 L136.75,79.75 L136.82,79.73 L136.90,79.71 L136.97,79.69 L137.05,79.67 L137.12,79.65 L137.19,79.63 L137.27,79.61 L137.34,79.59 L137.41,79.57 L137.49,79.55 L137.56,79.53 L137.64,79.51 L137.71,79.49 L137.78,79.47 L137.86,79.45 L137.93,79.44 L138.01,79.42 L138.08,79.40 L138.15,79.38 L138.23,79.36 L138.30,79.34 L138.38,79.32 L138.45,79.30 L138.52,79.28 L138.60,79.26 L138.67,79.25 L138.75,79.23 L138.82,79.21 L138.89,79.19 L138.97,79.17 L139.04,79.15 L139.12,79.13 L139.19,79.12 L139.26,79.10 L139.34,79.08 L139.41,79.06 L139.49,79.04 L139.56,79.02 L139.63,79.01 L139.71,78.99 L139.78,78.97 L139.86,78.95 L139.93,78.93 L140.00,78.91 L140.08,78.90 L140.15,78.88 L140.23,78.86 L140.30,78.84 L140.37,78.82 L140.45,78.81 L140.52,78.79 L140.59,78.77 L140.67,78.75 L140.74,78.73 L140.82,78.72 L140.89,78.70 L140.96,78.68 L141.04,78.66 L141.11,78.65 L141.19,78.63 L141.26,78.61 L141.33,78.59 L141.41,78.58 L141.48,78.56 L141.56,78.54 L141.63,78.52 L141.70,78.51 L141.78,78.49 L141.85,78.47 L141.93,78.45 L142.00,78.44 L142.07,78.42 L142.15,78.40 L142.22,78.38 L142.30,78.37 L142.37,78.35 L142.44,78.33 L142.52,78.32 L142.59,78.30 L142.67,78.28 L142.74,78.26 L142.81,78.25 L142.89,78.23 L142.96,78.21 L143.04,78.20 L143.11,78.18 L143.18,78.16 L143.26,78.15 L143.33,78.13 L143.41,78.11 L143.48,78.10 L143.55,78.08 L143.63,78.06 L143.70,78.05 L143.77,78.03 L143.85,78.01 L143.92,78.00 L144.00,77.98 L144.07,77.96 L144.14,77.95 L144.22,77.93 L144.29,77.92 L144.37,77.90 L144.44,77.88 L144.51,77.87 L144.59,77.85 L144.66,77.83 L144.74,77.82 L144.81,77.80 L144.88,77.79 L144.96,77.77 L145.03,77.75 L145.11,77.74 L145.18,77.72 L145.25,77.71 L145.33,77.69 L145.40,77.67 L145.48,77.66 L145.55,77.64 L145.62,77.63 L145.70,77.61 L145.77,77.60 L145.85,77.58 L145.92,77.56 L145.99,77.55 L146.07,77.53 L146.14,77.52 L146.22,77.50 L146.29,77.49 L146.36,77.47 L146.44,77.45 L146.51,77.44 L146.59,77.42 L146.66,77.41 L146.73,77.39 L146.81,77.38 L146.88,77.36 L146.95,77.35 L147.03,77.33 L147.10,77.32 L147.18,77.30 L147.25,77.29 L147.32,77.27 L147.40,77.26 L147.47,77.24 L147.55,77.23 L147.62,77.21 L147.69,77.20 L147.77,77.18 L147.84,77.17 L147.92,77.15 L147.99,77.14 L148.06,77.12 L148.14,77.11 L148.21,77.09 L148.29,77.08 L148.36,77.06 L148.43,77.05 L148.51,77.03 L148.58,77.02 L148.66,77.00 L148.73,76.99 L148.80,76.97 L148.88,76.96 L148.95,76.94 L149.03,76.93 L149.10,76.92 L149.17,76.90 L149.25,76.89 L149.32,76.87 L149.40,76.86 L149.47,76.84 L149.54,76.83 L149.62,76.81 L149.69,76.80 L149.77,76.79 L149.84,76.77 L149.91,76.76 L149.99,76.74 L150.06,76.73 L150.13,76.71 L150.21,76.70 L150.28,76.69 L150.36,76.67 L150.43,76.66 L150.50,76.64 L150.58,76.63 L150.65,76.62 L150.73,76.60 L150.80,76.59 L150.87,76.57 L150.95,76.56 L151.02,76.55 L151.10,76.53 L151.17,76.52 L151.24,76.50 L151.32,76.49 L151.39,76.48 L151.47,76.46 L151.54,76.45 L151.61,76.44 L151.69,76.42 L151.76,76.41 L151.84,76.40 L151.91,76.38 L151.98,76.37 L152.06,76.35 L152.13,76.34 L152.21,76.33 L152.28,76.31 L152.35,76.30 L152.43,76.29 L152.50,76.27 L152.58,76.26 L152.65,76.25 L152.72,76.23 L152.80,76.22 L152.87,76.21 L152.95,76.19 L153.02,76.18 L153.09,76.17 L153.17,76.15 L153.24,76.14 L153.31,76.13 L153.39,76.11 L153.46,76.10 L153.54,76.09 L153.61,76.08 L153.68,76.06 L153.76,76.05 L153.83,76.04 L153.91,76.02 L153.98,76.01 L154.05,76.00 L154.13,75.98 L154.20,75.97 L154.28,75.96 L154.35,75.95 L154.42,75.93 L154.50,75.92 L154.57,75.91 L154.65,75.90 L154.72,75.88 L154.79,75.87 L154.87,75.86 L154.94,75.84 L155.02,75.83 L155.09,75.82 L155.16,75.81 L155.24,75.79 L155.31,75.78 L155.39,75.77 L155.46,75.76 L155.53,75.74 L155.61,75.73 L155.68,75.72 L155.76,75.71 L155.83,75.69 L155.90,75.68 L155.98,75.67 L156.05,75.66 L156.13,75.64 L156.20,75.63 L156.27,75.62 L156.35,75.61 L156.42,75.60 L156.49,75.58 L156.57,75.57 L156.64,75.56 L156.72,75.55 L156.79,75.54 L156.86,75.52 L156.94,75.51 L157.01,75.50 L157.09,75.49 L157.16,75.47 L157.23,75.46 L157.31,75.45 L157.38,75.44 L157.46,75.43 L157.53,75.41 L157.60,75.40 L157.68,75.39 L157.75,75.38 L157.83,75.37 L157.90,75.36 L157.97,75.34 L158.05,75.33 L158.12,75.32 L158.20,75.31 L158.27,75.30 L158.34,75.29 L158.42,75.27 L158.49,75.26 L158.57,75.25 L158.64,75.24 L158.71,75.23 L158.79,75.22 L158.86,75.20 L158.94,75.19 L159.01,75.18 L159.08,75.17 L159.16,75.16 L159.23,75.15 L159.31,75.13 L159.38,75.12 L159.45,75.11 L159.53,75.10 L159.60,75.09 L159.67,75.08 L159.75,75.07 L159.82,75.06 L159.90,75.04 L159.97,75.03 L160.04,75.02 L160.12,75.01 L160.19,75.00 L160.27,74.99 L160.34,74.98 L160.41,74.97 L160.49,74.95 L160.56,74.94 L160.64,74.93 L160.71,74.92 L160.78,74.91 L160.86,74.90 L160.93,74.89 L161.01,74.88 L161.08,74.87 L161.15,74.86 L161.23,74.84 L161.30,74.83 L161.38,74.82 L161.45,74.81 L161.52,74.80 L161.60,74.79 L161.67,74.78 L161.75,74.77 L161.82,74.76 L161.89,74.75 L161.97,74.74 L162.04,74.72 L162.12,74.71 L162.19,74.70 L162.26,74.69 L162.34,74.68 L162.41,74.67 L162.49,74.66 L162.56,74.65 L162.63,74.64 L162.71,74.63 L162.78,74.62 L162.85,74.61 L162.93,74.60 L163.00,74.59 L163.08,74.58 L163.15,74.57 L163.22,74.56 L163.30,74.54 L163.37,74.53 L163.45,74.52 L163.52,74.51 L163.59,74.50 L163.67,74.49 L163.74,74.48 L163.82,74.47 L163.89,74.46 L163.96,74.45 L164.04,74.44 L164.11,74.43 L164.19,74.42 L164.26,74.41 L164.33,74.40 L164.41,74.39 L164.48,74.38 L164.56,74.37 L164.63,74.36 L164.70,74.35 L164.78,74.34 L164.85,74.33 L164.93,74.32 L165.00,74.31 L165.07,74.30 L165.15,74.29 L165.22,74.28 L165.30,74.27 L165.37,74.26 L165.44,74.25 L165.52,74.24 L165.59,74.23 L165.67,74.22 L165.74,74.21 L165.81,74.20 L165.89,74.19 L165.96,74.18 L166.03,74.17 L166.11,74.16 L166.18,74.15 L166.26,74.14 L166.33,74.13 L166.40,74.12 L166.48,74.11 L166.55,74.10 L166.63,74.09 L166.70,74.08 L166.77,74.07 L166.85,74.06 L166.92,74.05 L167.00,74.04 L167.07,74.03 L167.14,74.02 L167.22,74.01 L167.29,74.00 L167.37,73.99 L167.44,73.99 L167.51,73.98 L167.59,73.97 L167.66,73.96 L167.74,73.95 L167.81,73.94 L167.88,73.93 L167.96,73.92 L168.03,73.91 L168.11,73.90 L168.18,73.89 L168.25,73.88 L168.33,73.87 L168.40,73.86 L168.48,73.85 L168.55,73.84 L168.62,73.83 L168.70,73.83 L168.77,73.82 L168.85,73.81 L168.92,73.80 L168.99,73.79 L169.07,73.78 L169.14,73.77 L169.21,73.76 L169.29,73.75 L169.36,73.74 L169.44,73.73 L169.51,73.72 L169.58,73.71 L169.66,73.71 L169.73,73.70 L169.81,73.69 L169.88,73.68 L169.95,73.67 L170.03,73.66 L170.10,73.65 L170.18,73.64 L170.25,73.63 L170.32,73.62 L170.40,73.62 L170.47,73.61 L170.55,73.60 L170.62,73.59 L170.69,73.58 L170.77,73.57 L170.84,73.56 L170.92,73.55 L170.99,73.54 L171.06,73.54 L171.14,73.53 L171.21,73.52 L171.29,73.51 L171.36,73.50 L171.43,73.49 L171.51,73.48 L171.58,73.47 L171.66,73.47 L171.73,73.46 L171.80,73.45 L171.88,73.44 L171.95,73.43 L172.03,73.42 L172.10,73.41 L172.17,73.40 L172.25,73.40 L172.32,73.39 L172.39,73.38 L172.47,73.37 L172.54,73.36 L172.62,73.35 L172.69,73.34 L172.76,73.34 L172.84,73.33 L172.91,73.32 L172.99,73.31 L173.06,73.30 L173.13,73.29 L173.21,73.29 L173.28,73.28 L173.36,73.27 L173.43,73.26 L173.50,73.25 L173.58,73.24 L173.65,73.23 L173.73,73.23 L173.80,73.22 L173.87,73.21 L173.95,73.20 L174.02,73.19 L174.10,73.19 L174.17,73.18 L174.24,73.17 L174.32,73.16 L174.39,73.15 L174.47,73.14 L174.54,73.14 L174.61,73.13 L174.69,73.12 L174.76,73.11 L174.84,73.10 L174.91,73.09 L174.98,73.09 L175.06,73.08 L175.13,73.07 L175.21,73.06 L175.28,73.05 L175.35,73.05 L175.43,73.04 L175.50,73.03 L175.57,73.02 L175.65,73.01 L175.72,73.01 L175.80,73.00 L175.87,72.99 L175.94,72.98 L176.02,72.97 L176.09,72.97 L176.17,72.96 L176.24,72.95 L176.31,72.94 L176.39,72.93 L176.46,72.93 L176.54,72.92 L176.61,72.91 L176.68,72.90 L176.76,72.90 L176.83,72.89 L176.91,72.88 L176.98,72.87 L177.05,72.86 L177.13,72.86 L177.20,72.85 L177.28,72.84 L177.35,72.83 L177.42,72.83 L177.50,72.82 L177.57,72.81 L177.65,72.80 L177.72,72.79 L177.79,72.79 L177.87,72.78 L177.94,72.77 L178.02,72.76 L178.09,72.76 L178.16,72.75 L178.24,72.74 L178.31,72.73 L178.39,72.73 L178.46,72.72 L178.53,72.71 L178.61,72.70 L178.68,72.70 L178.75,72.69 L178.83,72.68 L178.90,72.67 L178.98,72.67 L179.05,72.66 L179.12,72.65 L179.20,72.64 L179.27,72.64 L179.35,72.63 L179.42,72.62 L179.49,72.61 L179.57,72.61 L179.64,72.60 L179.72,72.59 L179.79,72.58 L179.86,72.58 L179.94,72.57 L180.01,72.56 L180.09,72.55 L180.16,72.55 L180.23,72.54 L180.31,72.53 L180.38,72.53 L180.46,72.52 L180.53,72.51 L180.60,72.50 L180.68,72.50 L180.75,72.49 L180.83,72.48 L180.90,72.47 L180.97,72.47 L181.05,72.46 L181.12,72.45 L181.20,72.45 L181.27,72.44 L181.34,72.43 L181.42,72.42 L181.49,72.42 L181.57,72.41 L181.64,72.40 L181.71,72.40 L181.79,72.39 L181.86,72.38 L181.93,72.37 L182.01,72.37 L182.08,72.36 L182.16,72.35 L182.23,72.35 L182.30,72.34 L182.38,72.33 L182.45,72.33 L182.53,72.32 L182.60,72.31 L182.67,72.30 L182.75,72.30 L182.82,72.29 L182.90,72.28 L182.97,72.28 L183.04,72.27 L183.12,72.26 L183.19,72.26 L183.27,72.25 L183.34,72.24 L184.11,72.17 L184.89,72.10 L185.66,72.03 L186.44,71.96 L187.21,71.90 L187.98,71.83 L188.76,71.77 L189.53,71.70 L190.31,71.64 L191.08,71.58 L191.85,71.51 L192.63,71.45 L193.40,71.39 L194.17,71.34 L194.95,71.28 L195.72,71.22 L196.50,71.16 L197.27,71.11 L198.04,71.05 L198.82,71.00 L199.59,70.95 L200.37,70.90 L201.14,70.84 L201.91,70.79 L202.69,70.74 L203.46,70.69 L204.24,70.64 L205.01,70.60 L205.78,70.55 L206.56,70.50 L207.33,70.45 L208.11,70.41 L208.88,70.36 L209.65,70.32 L210.43,70.28 L211.20,70.23 L211.97,70.19 L212.75,70.15 L213.52,70.11 L214.30,70.06 L215.07,70.02 L215.84,69.98 L216.62,69.94 L217.39,69.90 L218.17,69.87 L218.94,69.83 L219.71,69.79 L220.49,69.75 L221.26,69.72 L222.04,69.68 L222.81,69.64 L223.58,69.61 L224.36,69.57 L225.13,69.54 L225.91,69.51 L226.68,69.47 L227.45,69.44 L228.23,69.41 L229.00,69.37 L229.77,69.34 L230.55,69.31 L231.32,69.28 L232.10,69.25 L232.87,69.22 L233.64,69.19 L234.42,69.16 L235.19,69.13 L235.97,69.10 L236.74,69.07 L237.51,69.04 L238.29,69.01 L239.06,68.98 L239.84,68.96 L240.61,68.93 L241.38,68.90 L242.16,68.88 L242.93,68.85 L243.71,68.82 L244.48,68.80 L245.25,68.77 L246.03,68.75 L246.80,68.72 L247.57,68.70 L248.35,68.67 L249.12,68.65 L249.90,68.63 L250.67,68.60 L251.44,68.58 L252.22,68.56 L252.99,68.53 L253.77,68.51 L254.54,68.49 L255.31,68.47 L256.09,68.44 L256.86,68.42 L257.64,68.40 L258.41,68.38 L259.18,68.36 L259.96,68.34 L260.73,68.32 L261.51,68.30 L262.28,68.28 L263.05,68.26 L263.83,68.24 L264.60,68.22 L265.37,68.20 L266.15,68.18 L266.92,68.16 L267.70,68.14 L268.47,68.12 L269.24,68.11 L270.02,68.09 L270.79,68.07 L271.57,68.05 L272.34,68.03 L273.11,68.02 L273.89,68.00 L274.66,67.98 L275.44,67.97 L276.21,67.95 L276.98,67.93 L277.76,67.92 L278.53,67.90 L279.31,67.88 L280.08,67.87 L280.85,67.85 L281.63,67.84 L282.40,67.82 L283.17,67.81 L283.95,67.79 L284.72,67.78 L285.50,67.76 L286.27,67.75 L287.04,67.73 L287.82,67.72 L288.59,67.70 L289.37,67.69 L290.14,67.67 L290.91,67.66 L291.69,67.65 L292.46,67.63 L293.24,67.62 L294.01,67.60 L294.78,67.59 L295.56,67.58 L296.33,67.56 L297.11,67.55 L297.88,67.54 L298.65,67.53 L299.43,67.51 L300.20,67.50 L300.97,67.49 L301.75,67.48 L302.52,67.46 L303.30,67.45 L304.07,67.44 L304.84,67.43 L305.62,67.42 L306.39,67.40 L307.17,67.39 L307.94,67.38 L308.71,67.37 L309.49,67.36 L310.26,67.35 L311.04,67.34 L311.81,67.33 L312.58,67.31 L313.36,67.30 L314.13,67.29 L314.91,67.28 L315.68,67.27 L316.45,67.26 L317.23,67.25 L318.00,67.24 L318.77,67.23 L319.55,67.22 L320.32,67.21 L321.10,67.20 L321.87,67.19 L322.64,67.18 L323.42,67.17 L324.19,67.16 L324.97,67.15 L325.74,67.14 L326.51,67.13 L327.29,67.12 L328.06,67.11 L328.84,67.10 L329.61,67.10 L330.38,67.09 L331.16,67.08 L331.93,67.07 L332.71,67.06 L333.48,67.05 L334.25,67.04 L335.03,67.03 L335.80,67.03 L336.57,67.02 L337.35,67.01 L338.12,67.00 L338.90,66.99 L339.67,66.98 L340.44,66.98 L341.22,66.97 L341.99,66.96 L342.77,66.95 L343.54,66.94 L344.31,66.94 L345.09,66.93 L345.86,66.92 L346.64,66.91 L347.41,66.90 L348.18,66.90 L348.96,66.89 L349.73,66.88 L350.51,66.87 L351.28,66.87 L352.05,66.86 L352.83,66.85 L353.60,66.85 L354.37,66.84 L355.15,66.83 L355.92,66.82 L356.70,66.82 L357.47,66.81 L358.24,66.80 L359.02,66.80 L359.79,66.79 L360.57,66.78 L361.34,66.78 L362.11,66.77 L362.89,66.76 L363.66,66.76 L364.44,66.75 L365.21,66.74 L365.98,66.74 L366.76,66.73 L367.53,66.72 L368.31,66.72 L369.08,66.71 L369.85,66.71 L370.63,66.70 L371.40,66.69 L372.17,66.69 L372.95,66.68 L373.72,66.68 L374.50,66.67 L375.27,66.66 L376.04,66.66 L376.82,66.65 L377.59,66.65 L378.37,66.64 L379.14,66.64 L379.91,66.63 L380.69,66.62 L381.46,66.62 L382.24,66.61 L383.01,66.61 L383.78,66.60 L384.56,66.60 L385.33,66.59 L386.11,66.59 L386.88,66.58 L387.65,66.58 L388.43,66.57 L389.20,66.56 L389.97,66.56 L390.75,66.55 L391.52,66.55 L392.30,66.54 L393.07,66.54 L393.84,66.53 L394.62,66.53 L395.39,66.52 L396.17,66.52 L396.94,66.51 L397.71,66.51 L398.49,66.50 L399.26,66.50 L400.04,66.50 L400.81,66.49 L401.58,66.49 L402.36,66.48 L403.13,66.48 L403.91,66.47 L404.68,66.47 L405.45,66.46 L406.23,66.46 L407.00,66.45 L407.77,66.45 L408.55,66.45 L409.32,66.44 L410.10,66.44 L410.87,66.43 L411.64,66.43 L412.42,66.42 L413.19,66.42 L413.97,66.42 L414.74,66.41" stroke="#0000ff" stroke-width="1.15" stroke-dasharray="4.42 2.95"/>
<path d="M82.43,-0.15 L82.49,0.66 L82.56,1.45 L82.63,2.24 L82.70,3.02 L82.76,3.80 L82.83,4.56 L82.90,5.32 L82.97,6.07 L83.03,6.81 L83.10,7.55 L83.17,8.27 L83.23,8.99 L83.30,9.70 L83.37,10.41 L83.44,11.11 L83.50,11.80 L83.57,12.48 L83.64,13.16 L83.71,13.83 L83.77,14.49 L83.84,15.15 L83.91,15.80 L83.97,16.44 L84.04,17.07 L84.11,17.70 L84.18,18.33 L84.24,18.95 L84.31,19.56 L84.38,20.16 L84.45,20.76 L84.51,21.35 L84.58,21.94 L84.65,22.52 L84.72,23.10 L84.78,23.67 L84.85,24.23 L84.92,24.79 L84.98,25.34 L85.05,25.89 L85.12,26.43 L85.19,26.97 L85.25,27.50 L85.32,28.02 L85.39,28.54 L85.46,29.06 L85.52,29.57 L85.59,30.07 L85.66,30.57 L85.73,31.07 L85.79,31.56 L85.86,32.04 L85.93,32.52 L85.99,33.00 L86.06,33.47 L86.13,33.94 L86.20,34.40 L86.26,34.86 L86.33,35.31 L86.40,35.76 L86.47,36.20 L86.53,36.64 L86.60,37.08 L86.67,37.51 L86.74,37.93 L86.80,38.36 L86.87,38.78 L86.94,39.19 L87.00,39.60 L87.07,40.01 L87.14,40.41 L87.21,40.81 L87.27,41.20 L87.34,41.59 L87.41,41.98 L87.48,42.36 L87.54,42.74 L87.61,43.12 L87.68,43.49 L87.74,43.86 L87.81,44.22 L87.88,44.58 L87.95,44.94 L88.01,45.30 L88.08,45.65 L88.15,46.00 L88.22,46.34 L88.28,46.68 L88.35,47.02 L88.42,47.35 L88.49,47.68 L88.55,48.01 L88.62,48.34 L88.69,48.66 L88.75,48.98 L88.82,49.29 L88.89,49.60 L88.96,49.91 L89.02,50.22 L89.09,50.52 L89.16,50.82 L89.23,51.12 L89.29,51.42 L89.36,51.71 L89.43,52.00 L89.50,52.28 L89.56,52.57 L89.63,52.85 L89.70,53.12 L89.76,53.40 L89.83,53.67 L89.90,53.94 L89.97,54.21 L90.03,54.48 L90.10,54.74 L90.17,55.00 L90.24,55.26 L90.30,55.51 L90.37,55.76 L90.44,56.01 L90.50,56.26 L90.57,56.51 L90.64,56.75 L90.71,56.99 L90.77,57.23 L90.84,57.47 L90.91,57.70 L90.98,57.93 L91.04,58.16 L91.11,58.39 L91.18,58.61 L91.25,58.84 L91.31,59.06 L91.38,59.28 L91.45,59.49 L91.51,59.71 L91.58,59.92 L91.65,60.13 L91.72,60.34 L91.78,60.54 L91.85,60.75 L91.92,60.95 L91.99,61.15 L92.05,61.35 L92.12,61.55 L92.19,61.74 L92.26,61.94 L92.32,62.13 L92.39,62.32 L92.46,62.50 L92.52,62.69 L92.59,62.87 L92.66,63.06 L92.73,63.24 L92.79,63.42 L92.86,63.59 L92.93,63.77 L93.00,63.94 L93.06,64.11 L93.13,64.29 L93.20,64.45 L93.27,64.62 L93.33,64.79 L93.40,64.95 L93.47,65.11 L93.53,65.27 L93.60,65.43 L93.67,65.59 L93.74,65.75 L93.80,65.90 L93.87,66.06 L93.94,66.21 L94.01,66.36 L94.07,66.51 L94.14,66.66 L94.21,66.80 L94.27,66.95 L94.34,67.09 L94.41,67.23 L94.48,67.37 L94.54,67.51 L94.61,67.65 L94.68,67.79 L94.75,67.92 L94.81,68.06 L94.88,68.19 L94.95,68.32 L95.02,68.45 L95.08,68.58 L95.15,68.71 L95.22,68.83 L95.28,68.96 L95.35,69.08 L95.42,69.21 L95.49,69.33 L95.55,69.45 L95.62,69.57 L95.69,69.69 L95.76,69.80 L95.82,69.92 L95.89,70.03 L95.96,70.15 L96.03,70.26 L96.09,70.37 L96.16,70.48 L96.23,70.59 L96.29,70.70 L96.36,70.81 L96.43,70.91 L96.50,71.02 L96.56,71.12 L96.63,71.23 L96.70,71.33 L96.77,71.43 L96.83,71.53 L96.90,71.63 L96.97,71.73 L97.04,71.82 L97.10,71.92 L97.17,72.02 L97.24,72.11 L97.30,72.20 L97.37,72.30 L97.44,72.39 L97.51,72.48 L97.57,72.57 L97.64,72.66 L97.71,72.75 L97.78,72.83 L97.84,72.92 L97.91,73.00 L97.98,73.09 L98.04,73.17 L98.11,73.26 L98.18,73.34 L98.25,73.42 L98.31,73.50 L98.38,73.58 L98.45,73.66 L98.52,73.74 L98.58,73.81 L98.65,73.89 L98.72,73.97 L98.79,74.04 L98.85,74.12 L98.92,74.19 L98.99,74.26 L99.05,74.33 L99.12,74.41 L99.19,74.48 L99.26,74.55 L99.32,74.62 L99.39,74.68 L99.46,74.75 L99.53,74.82 L99.59,74.88 L99.66,74.95 L99.73,75.02 L99.80,75.08 L99.86,75.14 L99.93,75.21 L100.00,75.27 L100.06,75.33 L100.13,75.39 L100.20,75.45 L100.27,75.51 L100.33,75.57 L100.40,75.63 L100.47,75.69 L100.54,75.75 L100.60,75.80 L100.67,75.86 L100.74,75.91 L100.81,75.97 L100.87,76.02 L100.94,76.08 L101.01,76.13 L101.07,76.18 L101.14,76.24 L101.21,76.29 L101.28,76.34 L101.34,76.39 L101.41,76.44 L101.48,76.49 L101.55,76.54 L101.61,76.59 L101.68,76.64 L101.75,76.68 L101.81,76.73 L101.88,76.78 L101.95,76.82 L102.02,76.87 L102.08,76.91 L102.15,76.96 L102.22,77.00 L102.29,77.04 L102.35,77.09 L102.42,77.13 L102.49,77.17 L102.56,77.21 L102.62,77.25 L102.69,77.29 L102.76,77.33 L102.82,77.37 L102.89,77.41 L102.96,77.45 L103.03,77.49 L103.09,77.53 L103.16,77.57 L103.23,77.60 L103.30,77.64 L103.36,77.68 L103.43,77.71 L103.50,77.75 L103.57,77.78 L103.63,77.82 L103.70,77.85 L103.77,77.89 L103.83,77.92 L103.90,77.95 L103.97,77.98 L104.04,78.02 L104.10,78.05 L104.17,78.08 L104.24,78.11 L104.31,78.14 L104.37,78.17 L104.44,78.20 L104.51,78.23 L104.57,78.26 L104.64,78.29 L104.71,78.32 L104.78,78.35 L104.84,78.37 L104.91,78.40 L104.98,78.43 L105.05,78.46 L105.11,78.48 L105.18,78.51 L105.25,78.53 L105.32,78.56 L105.38,78.58 L105.45,78.61 L105.52,78.63 L105.58,78.66 L105.65,78.68 L105.72,78.71 L105.79,78.73 L105.85,78.75 L105.92,78.77 L105.99,78.80 L106.06,78.82 L106.12,78.84 L106.19,78.86 L106.26,78.88 L106.33,78.90 L106.39,78.93 L106.46,78.95 L106.53,78.97 L106.59,78.99 L106.66,79.00 L106.73,79.02 L106.80,79.04 L106.86,79.06 L106.93,79.08 L107.00,79.10 L107.07,79.12 L107.13,79.13 L107.20,79.15 L107.27,79.17 L107.34,79.18 L107.40,79.20 L107.47,79.22 L107.54,79.23 L107.60,79.25 L107.67,79.27 L107.74,79.28 L107.81,79.30 L107.87,79.31 L107.94,79.33 L108.01,79.34 L108.08,79.35 L108.14,79.37 L108.21,79.38 L108.28,79.40 L108.34,79.41 L108.41,79.42 L108.48,79.43 L108.55,79.45 L108.61,79.46 L108.68,79.47 L108.75,79.48 L108.82,79.50 L108.88,79.51 L108.95,79.52 L109.02,79.53 L109.09,79.54 L109.15,79.55 L109.22,79.56 L109.29,79.57 L109.35,79.58 L109.42,79.59 L109.49,79.60 L109.56,79.61 L109.62,79.62 L109.69,79.63 L109.76,79.64 L109.83,79.65 L109.89,79.66 L109.96,79.66 L110.03,79.67 L110.10,79.68 L110.16,79.69 L110.23,79.70 L110.30,79.70 L110.36,79.71 L110.43,79.72 L110.50,79.73 L110.57,79.73 L110.63,79.74 L110.70,79.75 L110.77,79.75 L110.84,79.76 L110.90,79.76 L110.97,79.77 L111.04,79.78 L111.11,79.78 L111.17,79.79 L111.24,79.79 L111.31,79.80 L111.37,79.80 L111.44,79.81 L111.51,79.81 L111.58,79.82 L111.64,79.82 L111.71,79.83 L111.78,79.83 L111.85,79.83 L111.91,79.84 L111.98,79.84 L112.05,79.84 L112.11,79.85 L112.18,79.85 L112.25,79.85 L112.32,79.86 L112.38,79.86 L112.45,79.86 L112.52,79.86 L112.59,79.87 L112.65,79.87 L112.72,79.87 L112.79,79.87 L112.86,79.88 L112.92,79.88 L112.99,79.88 L113.06,79.88 L113.12,79.88 L113.19,79.88 L113.26,79.88 L113.33,79.89 L113.39,79.89 L113.46,79.89 L113.53,79.89 L113.60,79.89 L113.66,79.89 L113.73,79.89 L113.80,79.89 L113.87,79.89 L113.93,79.89 L114.00,79.89 L114.07,79.89 L114.13,79.89 L114.20,79.89 L114.27,79.89 L114.34,79.89 L114.40,79.89 L114.47,79.89 L114.54,79.89 L114.61,79.88 L114.67,79.88 L114.74,79.88 L114.81,79.88 L114.88,79.88 L114.94,79.88 L115.01,79.88 L115.08,79.87 L115.14,79.87 L115.21,79.87 L115.28,79.87 L115.35,79.87 L115.41,79.86 L115.48,79.86 L115.55,79.86 L115.62,79.86 L115.68,79.86 L115.75,79.85 L115.82,79.85 L115.88,79.85 L115.95,79.84 L116.02,79.84 L116.09,79.84 L116.15,79.84 L116.22,79.83 L116.29,79.83 L116.36,79.83 L116.42,79.82 L116.49,79.82 L116.56,79.81 L116.63,79.81 L116.69,79.81 L116.76,79.80 L116.83,79.80 L116.89,79.80 L116.96,79.79 L117.03,79.79 L117.10,79.78 L117.16,79.78 L117.23,79.78 L117.30,79.77 L117.37,79.77 L117.43,79.76 L117.50,79.76 L117.57,79.75 L117.64,79.75 L117.70,79.74 L117.77,79.74 L117.84,79.73 L117.90,79.73 L117.97,79.72 L118.04,79.72 L118.11,79.71 L118.17,79.71 L118.24,79.70 L118.31,79.70 L118.38,79.69 L118.44,79.69 L118.51,79.68 L118.58,79.67 L118.64,79.67 L118.71,79.66 L118.78,79.66 L118.85,79.65 L118.91,79.65 L118.98,79.64 L119.05,79.63 L119.12,79.63 L119.18,79.62 L119.25,79.62 L119.32,79.61 L119.39,79.60 L119.45,79.60 L119.52,79.59 L119.59,79.58 L119.65,79.58 L119.72,79.57 L119.79,79.56 L119.86,79.56 L119.92,79.55 L119.99,79.54 L120.06,79.54 L120.13,79.53 L120.19,79.52 L120.26,79.52 L120.33,79.51 L120.40,79.50 L120.46,79.50 L120.53,79.49 L120.60,79.48 L120.66,79.47 L120.73,79.47 L120.80,79.46 L120.87,79.45 L120.93,79.45 L121.00,79.44 L121.07,79.43 L121.14,79.42 L121.20,79.42 L121.27,79.41 L121.34,79.40 L121.41,79.39 L121.47,79.39 L121.54,79.38 L121.61,79.37 L121.67,79.36 L121.74,79.35 L121.81,79.35 L121.88,79.34 L121.94,79.33 L122.01,79.32 L122.08,79.31 L122.15,79.31 L122.21,79.30 L122.28,79.29 L122.35,79.28 L122.41,79.27 L122.48,79.27 L122.55,79.26 L122.62,79.25 L122.68,79.24 L122.75,79.23 L122.82,79.22 L122.89,79.22 L122.95,79.21 L123.02,79.20 L123.09,79.19 L123.16,79.18 L123.22,79.17 L123.29,79.16 L123.36,79.16 L123.42,79.15 L123.49,79.14 L123.56,79.13 L123.63,79.12 L123.69,79.11 L123.76,79.10 L123.83,79.09 L123.90,79.09 L123.96,79.08 L124.03,79.07 L124.10,79.06 L124.17,79.05 L124.23,79.04 L124.30,79.03 L124.37,79.02 L124.43,79.01 L124.50,79.01 L124.57,79.00 L124.64,78.99 L124.70,78.98 L124.77,78.97 L124.84,78.96 L124.91,78.95 L124.97,78.94 L125.04,78.93 L125.11,78.92 L125.18,78.91 L125.24,78.90 L125.31,78.89 L125.38,78.89 L125.44,78.88 L125.51,78.87 L125.58,78.86 L125.65,78.85 L125.71,78.84 L125.78,78.83 L125.85,78.82 L125.92,78.81 L125.98,78.80 L126.05,78.79 L126.12,78.78 L126.18,78.77 L126.25,78.76 L126.32,78.75 L126.39,78.74 L126.45,78.73 L126.52,78.72 L126.59,78.71 L126.66,78.70 L126.72,78.69 L126.79,78.68 L126.86,78.68 L126.93,78.67 L126.99,78.66 L127.06,78.65 L127.13,78.64 L127.19,78.63 L127.26,78.62 L127.33,78.61 L127.40,78.60 L127.46,78.59 L127.53,78.58 L127.60,78.57 L127.67,78.56 L127.73,78.55 L127.80,78.54 L127.87,78.53 L127.94,78.52 L128.00,78.51 L128.07,78.50 L128.14,78.49 L128.20,78.48 L128.27,78.47 L128.34,78.46 L128.41,78.45 L128.47,78.44 L128.54,78.43 L128.61,78.42 L128.68,78.41 L128.74,78.40 L128.81,78.39 L128.88,78.38 L128.95,78.37 L129.01,78.36 L129.08,78.35 L129.15,78.34 L129.21,78.33 L129.28,78.32 L129.35,78.31 L129.42,78.30 L129.48,78.29 L129.55,78.28 L129.62,78.27 L129.69,78.25 L129.75,78.24 L129.82,78.23 L129.89,78.22 L129.95,78.21 L130.02,78.20 L130.09,78.19 L130.16,78.18 L130.22,78.17 L130.29,78.16 L130.36,78.15 L130.43,78.14 L130.49,78.13 L130.56,78.12 L130.63,78.11 L130.70,78.10 L130.76,78.09 L130.83,78.08 L130.90,78.07 L130.96,78.06 L131.03,78.05 L131.10,78.04 L131.17,78.03 L131.23,78.02 L131.30,78.01 L131.37,78.00 L131.44,77.99 L131.50,77.98 L131.57,77.97 L131.64,77.96 L131.71,77.95 L131.77,77.94 L131.84,77.92 L131.91,77.91 L131.97,77.90 L132.04,77.89 L132.11,77.88 L132.18,77.87 L132.24,77.86 L132.31,77.85 L132.38,77.84 L132.45,77.83 L132.51,77.82 L132.58,77.81 L132.65,77.80 L132.71,77.79 L132.78,77.78 L132.85,77.77 L132.92,77.76 L132.98,77.75 L133.05,77.74 L133.12,77.73 L133.19,77.72 L133.25,77.71 L133.32,77.70 L133.39,77.69 L133.46,77.67 L133.52,77.66 L133.59,77.65 L133.66,77.64 L133.72,77.63 L133.79,77.62 L133.86,77.61 L133.93,77.60 L133.99,77.59 L134.06,77.58 L134.13,77.57 L134.20,77.56 L134.26,77.55 L134.33,77.54 L134.40,77.53 L134.47,77.52 L134.53,77.51 L134.60,77.50 L134.67,77.49 L134.73,77.48 L134.80,77.47 L134.87,77.46 L134.94,77.44 L135.00,77.43 L135.07,77.42 L135.14,77.41 L135.21,77.40 L135.27,77.39 L135.34,77.38 L135.41,77.37 L135.48,77.36 L135.54,77.35 L135.61,77.34 L135.68,77.33 L135.74,77.32 L135.81,77.31 L135.88,77.30 L135.95,77.29 L136.01,77.28 L136.08,77.27 L136.15,77.26 L136.22,77.25 L136.28,77.24 L136.35,77.23 L136.42,77.22 L136.48,77.21 L136.55,77.19 L136.62,77.18 L136.69,77.17 L136.75,77.16 L136.82,77.15 L136.89,77.14 L136.96,77.13 L137.02,77.12 L137.09,77.11 L137.16,77.10 L137.23,77.09 L137.29,77.08 L137.36,77.07 L137.43,77.06 L137.49,77.05 L137.56,77.04 L137.63,77.03 L137.70,77.02 L137.76,77.01 L137.83,77.00 L137.90,76.99 L137.97,76.98 L138.03,76.97 L138.10,76.96 L138.17,76.95 L138.24,76.94 L138.30,76.93 L138.37,76.92 L138.44,76.90 L138.50,76.89 L138.57,76.88 L138.64,76.87 L138.71,76.86 L138.77,76.85 L138.84,76.84 L138.91,76.83 L138.98,76.82 L139.04,76.81 L139.11,76.80 L139.18,76.79 L139.25,76.78 L139.31,76.77 L139.38,76.76 L139.45,76.75 L139.51,76.74 L139.58,76.73 L139.65,76.72 L139.72,76.71 L139.78,76.70 L139.85,76.69 L139.92,76.68 L139.99,76.67 L140.05,76.66 L140.12,76.65 L140.19,76.64 L140.25,76.63 L140.32,76.62 L140.39,76.61 L140.46,76.60 L140.52,76.59 L140.59,76.58 L140.66,76.57 L140.73,76.56 L140.79,76.55 L140.86,76.54 L140.93,76.53 L141.00,76.52 L141.06,76.51 L141.13,76.50 L141.20,76.49 L141.26,76.48 L141.33,76.47 L141.40,76.46 L141.47,76.45 L141.53,76.44 L141.60,76.43 L141.67,76.42 L141.74,76.41 L141.80,76.40 L141.87,76.39 L141.94,76.38 L142.01,76.37 L142.07,76.36 L142.14,76.35 L142.21,76.34 L142.27,76.33 L142.34,76.32 L142.41,76.31 L142.48,76.30 L142.54,76.29 L142.61,76.28 L142.68,76.27 L142.75,76.26 L142.81,76.25 L142.88,76.24 L142.95,76.23 L143.02,76.22 L143.08,76.21 L143.15,76.20 L143.22,76.19 L143.28,76.18 L143.35,76.17 L143.42,76.16 L143.49,76.15 L143.55,76.14 L143.62,76.13 L143.69,76.12 L143.76,76.11 L143.82,76.10 L143.89,76.09 L143.96,76.08 L144.02,76.07 L144.09,76.06 L144.16,76.05 L144.23,76.04 L144.29,76.03 L144.36,76.02 L144.43,76.01 L144.50,76.00 L144.56,75.99 L144.63,75.98 L144.70,75.97 L144.77,75.96 L144.83,75.95 L144.90,75.94 L144.97,75.93 L145.03,75.92 L145.10,75.91 L145.17,75.90 L145.24,75.89 L145.30,75.88 L145.37,75.88 L145.44,75.87 L145.51,75.86 L145.57,75.85 L145.64,75.84 L145.71,75.83 L145.78,75.82 L145.84,75.81 L145.91,75.80 L145.98,75.79 L146.04,75.78 L146.11,75.77 L146.18,75.76 L146.25,75.75 L146.31,75.74 L146.38,75.73 L146.45,75.72 L146.52,75.71 L146.58,75.70 L146.65,75.69 L146.72,75.68 L146.78,75.67 L146.85,75.66 L146.92,75.66 L146.99,75.65 L147.05,75.64 L147.12,75.63 L147.19,75.62 L147.26,75.61 L147.32,75.60 L147.39,75.59 L147.46,75.58 L147.53,75.57 L147.59,75.56 L147.66,75.55 L147.73,75.54 L147.79,75.53 L147.86,75.52 L147.93,75.51 L148.00,75.50 L148.06,75.50 L148.13,75.49 L148.20,75.48 L148.27,75.47 L148.33,75.46 L148.40,75.45 L148.47,75.44 L148.54,75.43 L148.60,75.42 L148.67,75.41 L148.74,75.40 L148.80,75.39 L148.87,75.38 L148.94,75.38 L149.01,75.37 L149.07,75.36 L149.14,75.35 L149.21,75.34 L149.28,75.33 L149.34,75.32 L149.41,75.31 L149.48,75.30 L149.55,75.29 L149.61,75.28 L149.68,75.27 L149.75,75.27 L149.81,75.26 L149.88,75.25 L149.95,75.24 L150.02,75.23 L150.08,75.22 L150.15,75.21 L150.22,75.20 L150.29,75.19 L150.35,75.18 L150.42,75.17 L150.49,75.17 L150.55,75.16 L150.62,75.15 L150.69,75.14 L150.76,75.13 L150.82,75.12 L150.89,75.11 L150.96,75.10 L151.03,75.09 L151.09,75.08 L151.16,75.08 L151.23,75.07 L151.30,75.06 L151.36,75.05 L151.43,75.04 L151.50,75.03 L151.56,75.02 L151.63,75.01 L151.70,75.00 L151.77,75.00 L151.83,74.99 L151.90,74.98 L151.97,74.97 L152.04,74.96 L152.10,74.95 L152.17,74.94 L152.24,74.93 L152.31,74.93 L152.37,74.92 L152.44,74.91 L152.51,74.90 L152.57,74.89 L152.64,74.88 L152.71,74.87 L152.78,74.86 L152.84,74.86 L152.91,74.85 L152.98,74.84 L153.05,74.83 L153.11,74.82 L153.18,74.81 L153.25,74.80 L153.32,74.79 L153.38,74.79 L153.45,74.78 L153.52,74.77 L153.58,74.76 L153.65,74.75 L153.72,74.74 L153.79,74.73 L153.85,74.73 L153.92,74.72 L153.99,74.71 L154.06,74.70 L154.12,74.69 L154.19,74.68 L154.26,74.67 L154.32,74.67 L154.39,74.66 L154.46,74.65 L154.53,74.64 L154.59,74.63 L154.66,74.62 L154.73,74.61 L154.80,74.61 L154.86,74.60 L154.93,74.59 L155.00,74.58 L155.07,74.57 L155.13,74.56 L155.20,74.56 L155.27,74.55 L155.33,74.54 L155.40,74.53 L155.47,74.52 L155.54,74.51 L155.60,74.51 L155.67,74.50 L155.74,74.49 L155.81,74.48 L155.87,74.47 L155.94,74.46 L156.01,74.46 L156.08,74.45 L156.14,74.44 L156.21,74.43 L156.28,74.42 L156.34,74.41 L156.41,74.41 L156.48,74.40 L156.55,74.39 L156.61,74.38 L156.68,74.37 L156.75,74.36 L156.82,74.36 L156.88,74.35 L156.95,74.34 L157.02,74.33 L157.08,74.32 L157.15,74.32 L157.22,74.31 L157.29,74.30 L157.35,74.29 L157.42,74.28 L157.49,74.27 L157.56,74.27 L157.62,74.26 L157.69,74.25 L157.76,74.24 L157.83,74.23 L157.89,74.23 L157.96,74.22 L158.03,74.21 L158.09,74.20 L158.16,74.19 L158.23,74.19 L158.30,74.18 L158.36,74.17 L158.43,74.16 L158.50,74.15 L158.57,74.15 L158.63,74.14 L158.70,74.13 L158.77,74.12 L158.84,74.11 L158.90,74.11 L158.97,74.10 L159.04,74.09 L159.10,74.08 L159.17,74.07 L159.24,74.07 L159.31,74.06 L159.37,74.05 L159.44,74.04 L159.51,74.03 L159.58,74.03 L159.64,74.02 L159.71,74.01 L159.78,74.00 L159.85,74.00 L159.91,73.99 L159.98,73.98 L160.05,73.97 L160.11,73.96 L160.18,73.96 L160.25,73.95 L160.32,73.94 L160.38,73.93 L160.45,73.93 L160.52,73.92 L160.59,73.91 L160.65,73.90 L160.72,73.89 L160.79,73.89 L160.85,73.88 L160.92,73.87 L160.99,73.86 L161.06,73.86 L161.12,73.85 L161.19,73.84 L161.26,73.83 L161.33,73.83 L161.39,73.82 L161.46,73.81 L161.53,73.80 L161.60,73.80 L161.66,73.79 L161.73,73.78 L161.80,73.77 L161.86,73.77 L161.93,73.76 L162.00,73.75 L162.07,73.74 L162.13,73.73 L162.20,73.73 L162.27,73.72 L162.34,73.71 L162.40,73.70 L162.47,73.70 L162.54,73.69 L162.61,73.68 L162.67,73.68 L162.74,73.67 L162.81,73.66 L162.87,73.65 L162.94,73.65 L163.01,73.64 L163.08,73.63 L163.14,73.62 L163.21,73.62 L163.28,73.61 L163.35,73.60 L163.41,73.59 L163.48,73.59 L163.55,73.58 L163.62,73.57 L163.68,73.56 L163.75,73.56 L163.82,73.55 L163.88,73.54 L163.95,73.53 L164.02,73.53 L164.09,73.52 L164.15,73.51 L164.22,73.51 L164.29,73.50 L164.36,73.49 L164.42,73.48 L164.49,73.48 L164.56,73.47 L164.62,73.46 L164.69,73.45 L164.76,73.45 L164.83,73.44 L164.89,73.43 L164.96,73.43 L165.03,73.42 L165.10,73.41 L165.16,73.40 L165.23,73.40 L165.30,73.39 L165.37,73.38 L165.43,73.38 L165.50,73.37 L165.57,73.36 L165.63,73.35 L165.70,73.35 L165.77,73.34 L165.84,73.33 L165.90,73.33 L165.97,73.32 L166.04,73.31 L166.11,73.31 L166.17,73.30 L166.24,73.29 L166.31,73.28 L166.38,73.28 L166.44,73.27 L166.51,73.26 L166.58,73.26 L166.64,73.25 L166.71,73.24 L166.78,73.23 L166.85,73.23 L166.91,73.22 L166.98,73.21 L167.05,73.21 L167.12,73.20 L167.18,73.19 L167.25,73.19 L167.32,73.18 L167.39,73.17 L167.45,73.17 L167.52,73.16 L167.59,73.15 L167.65,73.15 L167.72,73.14 L167.79,73.13 L167.86,73.12 L167.92,73.12 L167.99,73.11 L168.06,73.10 L168.13,73.10 L168.19,73.09 L168.26,73.08 L168.33,73.08 L168.39,73.07 L168.46,73.06 L168.53,73.06 L168.60,73.05 L168.66,73.04 L168.73,73.04 L168.80,73.03 L168.87,73.02 L168.93,73.02 L169.00,73.01 L169.07,73.00 L169.14,73.00 L169.20,72.99 L169.27,72.98 L169.34,72.98 L169.40,72.97 L169.47,72.96 L169.54,72.96 L169.61,72.95 L169.67,72.94 L169.74,72.94 L169.81,72.93 L169.88,72.92 L169.94,72.92 L170.01,72.91 L170.08,72.90 L170.15,72.90 L170.21,72.89 L170.28,72.88 L170.35,72.88 L170.41,72.87 L170.48,72.86 L170.55,72.86 L170.62,72.85 L170.68,72.84 L170.75,72.84 L170.82,72.83 L170.89,72.82 L170.95,72.82 L171.02,72.81 L171.09,72.80 L171.15,72.80 L171.22,72.79 L171.29,72.79 L171.36,72.78 L171.42,72.77 L171.49,72.77 L171.56,72.76 L171.63,72.75 L171.69,72.75 L171.76,72.74 L171.83,72.73 L171.90,72.73 L171.96,72.72 L172.03,72.71 L172.10,72.71 L172.16,72.70 L172.23,72.70 L172.30,72.69 L172.37,72.68 L172.43,72.68 L172.50,72.67 L172.57,72.66 L172.64,72.66 L172.70,72.65 L172.77,72.64 L172.84,72.64 L172.91,72.63 L172.97,72.63 L173.04,72.62 L173.11,72.61 L173.17,72.61 L173.24,72.60 L173.31,72.59 L173.38,72.59 L173.44,72.58 L173.51,72.58 L173.58,72.57 L173.65,72.56 L173.71,72.56 L173.78,72.55 L173.85,72.55 L173.92,72.54 L173.98,72.53 L174.05,72.53 L174.12,72.52 L174.18,72.51 L174.25,72.51 L174.32,72.50 L174.39,72.50 L174.45,72.49 L174.52,72.48 L174.59,72.48 L174.66,72.47 L174.72,72.47 L174.79,72.46 L174.86,72.45 L174.92,72.45 L174.99,72.44 L175.06,72.43 L175.13,72.43 L175.19,72.42 L175.26,72.42 L175.33,72.41 L175.40,72.40 L175.46,72.40 L175.53,72.39 L175.60,72.39 L175.67,72.38 L175.73,72.37 L175.80,72.37 L175.87,72.36 L175.93,72.36 L176.00,72.35 L176.07,72.34 L176.14,72.34 L176.20,72.33 L176.27,72.33 L176.34,72.32 L176.41,72.31 L176.47,72.31 L176.54,72.30 L176.61,72.30 L176.68,72.29 L176.74,72.29 L176.81,72.28 L176.88,72.27 L176.94,72.27 L177.01,72.26 L177.08,72.26 L177.15,72.25 L177.21,72.24 L177.28,72.24 L177.35,72.23 L177.42,72.23 L177.48,72.22 L177.55,72.22 L177.62,72.21 L177.69,72.20 L177.75,72.20 L177.82,72.19 L177.89,72.19 L177.95,72.18 L178.02,72.17 L178.09,72.17 L178.16,72.16 L178.22,72.16 L178.29,72.15 L178.36,72.15 L178.43,72.14 L178.49,72.13 L178.56,72.13 L178.63,72.12 L178.69,72.12 L178.76,72.11 L178.83,72.11 L178.90,72.10 L178.96,72.09 L179.03,72.09 L179.10,72.08 L179.17,72.08 L179.23,72.07 L179.30,72.07 L179.37,72.06 L179.44,72.06 L179.50,72.05 L179.57,72.04 L179.64,72.04 L179.70,72.03 L179.77,72.03 L179.84,72.02 L179.91,72.02 L179.97,72.01 L180.04,72.00 L180.11,72.00 L180.18,71.99 L180.24,71.99 L180.31,71.98 L180.38,71.98 L180.45,71.97 L180.51,71.97 L180.58,71.96 L180.65,71.95 L180.71,71.95 L180.78,71.94 L180.85,71.94 L180.92,71.93 L180.98,71.93 L181.05,71.92 L181.12,71.92 L181.19,71.91 L181.25,71.91 L181.32,71.90 L181.39,71.89 L181.46,71.89 L181.52,71.88 L181.59,71.88 L181.66,71.87 L181.72,71.87 L181.79,71.86 L181.86,71.86 L181.93,71.85 L181.99,71.85 L182.06,71.84 L182.13,71.84 L182.20,71.83 L182.26,71.82 L182.33,71.82 L182.40,71.81 L182.46,71.81 L182.53,71.80 L182.60,71.80 L182.67,71.79 L182.73,71.79 L182.80,71.78 L182.87,71.78 L182.94,71.77 L183.00,71.77 L183.07,71.76 L183.14,71.76 L183.21,71.75 L183.27,71.74 L183.34,71.74 L184.11,71.68 L184.89,71.62 L185.66,71.56 L186.44,71.50 L187.21,71.45 L187.98,71.39 L188.76,71.33 L189.53,71.28 L190.31,71.22 L191.08,71.17 L191.85,71.12 L192.63,71.07 L193.40,71.01 L194.17,70.96 L194.95,70.91 L195.72,70.86 L196.50,70.81 L197.27,70.77 L198.04,70.72 L198.82,70.67 L199.59,70.62 L200.37,70.58 L201.14,70.53 L201.91,70.49 L202.69,70.44 L203.46,70.40 L204.24,70.36 L205.01,70.31 L205.78,70.27 L206.56,70.23 L207.33,70.19 L208.11,70.15 L208.88,70.11 L209.65,70.07 L210.43,70.03 L211.20,69.99 L211.97,69.95 L212.75,69.91 L213.52,69.88 L214.30,69.84 L215.07,69.80 L215.84,69.77 L216.62,69.73 L217.39,69.70 L218.17,69.66 L218.94,69.63 L219.71,69.59 L220.49,69.56 L221.26,69.53 L222.04,69.49 L222.81,69.46 L223.58,69.43 L224.36,69.40 L225.13,69.36 L225.91,69.33 L226.68,69.30 L227.45,69.27 L228.23,69.24 L229.00,69.21 L229.77,69.18 L230.55,69.15 L231.32,69.13 L232.10,69.10 L232.87,69.07 L233.64,69.04 L234.42,69.01 L235.19,68.99 L235.97,68.96 L236.74,68.93 L237.51,68.91 L238.29,68.88 L239.06,68.85 L239.84,68.83 L240.61,68.80 L241.38,68.78 L242.16,68.75 L242.93,68.73 L243.71,68.71 L244.48,68.68 L245.25,68.66 L246.03,68.63 L246.80,68.61 L247.57,68.59 L248.35,68.57 L249.12,68.54 L249.90,68.52 L250.67,68.50 L251.44,68.48 L252.22,68.46 L252.99,68.43 L253.77,68.41 L254.54,68.39 L255.31,68.37 L256.09,68.35 L256.86,68.33 L257.64,68.31 L258.41,68.29 L259.18,68.27 L259.96,68.25 L260.73,68.23 L261.51,68.21 L262.28,68.20 L263.05,68.18 L263.83,68.16 L264.60,68.14 L265.37,68.12 L266.15,68.10 L266.92,68.09 L267.70,68.07 L268.47,68.05 L269.24,68.03 L270.02,68.02 L270.79,68.00 L271.57,67.98 L272.34,67.97 L273.11,67.95 L273.89,67.93 L274.66,67.92 L275.44,67.90 L276.21,67.88 L276.98,67.87 L277.76,67.85 L278.53,67.84 L279.31,67.82 L280.08,67.81 L280.85,67.79 L281.63,67.78 L282.40,67.76 L283.17,67.75 L283.95,67.73 L284.72,67.72 L285.50,67.70 L286.27,67.69 L287.04,67.68 L287.82,67.66 L288.59,67.65 L289.37,67.64 L290.14,67.62 L290.91,67.61 L291.69,67.60 L292.46,67.58 L293.24,67.57 L294.01,67.56 L294.78,67.54 L295.56,67.53 L296.33,67.52 L297.11,67.51 L297.88,67.49 L298.65,67.48 L299.43,67.47 L300.20,67.46 L300.97,67.45 L301.75,67.43 L302.52,67.42 L303.30,67.41 L304.07,67.40 L304.84,67.39 L305.62,67.38 L306.39,67.36 L307.17,67.35 L307.94,67.34 L308.71,67.33 L309.49,67.32 L310.26,67.31 L311.04,67.30 L311.81,67.29 L312.58,67.28 L313.36,67.27 L314.13,67.26 L314.91,67.25 L315.68,67.24 L316.45,67.23 L317.23,67.22 L318.00,67.21 L318.77,67.20 L319.55,67.19 L320.32,67.18 L321.10,67.17 L321.87,67.16 L322.64,67.15 L323.42,67.14 L324.19,67.13 L324.97,67.12 L325.74,67.11 L326.51,67.10 L327.29,67.09 L328.06,67.08 L328.84,67.08 L329.61,67.07 L330.38,67.06 L331.16,67.05 L331.93,67.04 L332.71,67.03 L333.48,67.02 L334.25,67.02 L335.03,67.01 L335.80,67.00 L336.57,66.99 L337.35,66.98 L338.12,66.97 L338.90,66.97 L339.67,66.96 L340.44,66.95 L341.22,66.94 L341.99,66.94 L342.77,66.93 L343.54,66.92 L344.31,66.91 L345.09,66.90 L345.86,66.90 L346.64,66.89 L347.41,66.88 L348.18,66.87 L348.96,66.87 L349.73,66.86 L350.51,66.85 L351.28,66.85 L352.05,66.84 L352.83,66.83 L353.60,66.82 L354.37,66.82 L355.15,66.81 L355.92,66.80 L356.70,66.80 L357.47,66.79 L358.24,66.78 L359.02,66.78 L359.79,66.77 L360.57,66.76 L361.34,66.76 L362.11,66.75 L362.89,66.74 L363.66,66.74 L364.44,66.73 L365.21,66.73 L365.98,66.72 L366.76,66.71 L367.53,66.71 L368.31,66.70 L369.08,66.70 L369.85,66.69 L370.63,66.68 L371.40,66.68 L372.17,66.67 L372.95,66.67 L373.72,66.66 L374.50,66.65 L375.27,66.65 L376.04,66.64 L376.82,66.64 L377.59,66.63 L378.37,66.63 L379.14,66.62 L379.91,66.61 L380.69,66.61 L381.46,66.60 L382.24,66.60 L383.01,66.59 L383.78,66.59 L384.56,66.58 L385.33,66.58 L386.11,66.57 L386.88,66.57 L387.65,66.56 L388.43,66.56 L389.20,66.55 L389.97,66.55 L390.75,66.54 L391.52,66.54 L392.30,66.53 L393.07,66.53 L393.84,66.52 L394.62,66.52 L395.39,66.51 L396.17,66.51 L396.94,66.50 L397.71,66.50 L398.49,66.49 L399.26,66.49 L400.04,66.48 L400.81,66.48 L401.58,66.47 L402.36,66.47 L403.13,66.47 L403.91,66.46 L404.68,66.46 L405.45,66.45 L406.23,66.45 L407.00,66.44 L407.77,66.44 L408.55,66.43 L409.32,66.43 L410.10,66.43 L410.87,66.42 L411.64,66.42 L412.42,66.41 L413.19,66.41 L413.97,66.41 L414.74,66.40" stroke="#000000" stroke-width="1.12" stroke-dasharray="1.0 1.3 2.7 1.2"/>
<path d="M90.74,-0.15 L90.80,0.37 L90.86,0.89 L90.92,1.41 L90.99,1.92 L91.05,2.43 L91.11,2.93 L91.17,3.43 L91.23,3.92 L91.30,4.42 L91.36,4.91 L91.42,5.39 L91.48,5.87 L91.54,6.35 L91.60,6.82 L91.67,7.29 L91.73,7.76 L91.79,8.22 L91.85,8.68 L91.91,9.14 L91.97,9.59 L92.04,10.05 L92.10,10.49 L92.16,10.94 L92.22,11.38 L92.28,11.81 L92.35,12.25 L92.41,12.68 L92.47,13.10 L92.53,13.53 L92.59,13.95 L92.65,14.37 L92.72,14.78 L92.78,15.19 L92.84,15.60 L92.90,16.01 L92.96,16.41 L93.02,16.81 L93.09,17.21 L93.15,17.60 L93.21,17.99 L93.27,18.38 L93.33,18.77 L93.40,19.15 L93.46,19.53 L93.52,19.91 L93.58,20.28 L93.64,20.65 L93.70,21.02 L93.77,21.39 L93.83,21.75 L93.89,22.11 L93.95,22.47 L94.01,22.83 L94.08,23.18 L94.14,23.53 L94.20,23.88 L94.26,24.23 L94.32,24.57 L94.38,24.91 L94.45,25.25 L94.51,25.58 L94.57,25.92 L94.63,26.25 L94.69,26.58 L94.75,26.90 L94.82,27.23 L94.88,27.55 L94.94,27.87 L95.00,28.19 L95.06,28.50 L95.13,28.81 L95.19,29.12 L95.25,29.43 L95.31,29.74 L95.37,30.04 L95.43,30.34 L95.50,30.64 L95.56,30.94 L95.62,31.24 L95.68,31.53 L95.74,31.82 L95.80,32.11 L95.87,32.40 L95.93,32.68 L95.99,32.97 L96.05,33.25 L96.11,33.53 L96.18,33.80 L96.24,34.08 L96.30,34.35 L96.36,34.62 L96.42,34.89 L96.48,35.16 L96.55,35.42 L96.61,35.69 L96.67,35.95 L96.73,36.21 L96.79,36.47 L96.85,36.73 L96.92,36.98 L96.98,37.23 L97.04,37.48 L97.10,37.73 L97.16,37.98 L97.23,38.23 L97.29,38.47 L97.35,38.71 L97.41,38.95 L97.47,39.19 L97.53,39.43 L97.60,39.67 L97.66,39.90 L97.72,40.13 L97.78,40.36 L97.84,40.59 L97.91,40.82 L97.97,41.05 L98.03,41.27 L98.09,41.50 L98.15,41.72 L98.21,41.94 L98.28,42.16 L98.34,42.37 L98.40,42.59 L98.46,42.80 L98.52,43.02 L98.58,43.23 L98.65,43.44 L98.71,43.64 L98.77,43.85 L98.83,44.06 L98.89,44.26 L98.96,44.46 L99.02,44.66 L99.08,44.86 L99.14,45.06 L99.20,45.26 L99.26,45.46 L99.33,45.65 L99.39,45.84 L99.45,46.03 L99.51,46.22 L99.57,46.41 L99.63,46.60 L99.70,46.79 L99.76,46.97 L99.82,47.16 L99.88,47.34 L99.94,47.52 L100.01,47.70 L100.07,47.88 L100.13,48.06 L100.19,48.24 L100.25,48.41 L100.31,48.59 L100.38,48.76 L100.44,48.93 L100.50,49.10 L100.56,49.27 L100.62,49.44 L100.68,49.61 L100.75,49.77 L100.81,49.94 L100.87,50.10 L100.93,50.26 L100.99,50.43 L101.06,50.59 L101.12,50.75 L101.18,50.91 L101.24,51.06 L101.30,51.22 L101.36,51.37 L101.43,51.53 L101.49,51.68 L101.55,51.83 L101.61,51.98 L101.67,52.14 L101.74,52.28 L101.80,52.43 L101.86,52.58 L101.92,52.73 L101.98,52.87 L102.04,53.02 L102.11,53.16 L102.17,53.30 L102.23,53.44 L102.29,53.58 L102.35,53.72 L102.41,53.86 L102.48,54.00 L102.54,54.13 L102.60,54.27 L102.66,54.41 L102.72,54.54 L102.79,54.67 L102.85,54.80 L102.91,54.94 L102.97,55.07 L103.03,55.20 L103.09,55.32 L103.16,55.45 L103.22,55.58 L103.28,55.71 L103.34,55.83 L103.40,55.96 L103.46,56.08 L103.53,56.20 L103.59,56.32 L103.65,56.44 L103.71,56.57 L103.77,56.68 L103.84,56.80 L103.90,56.92 L103.96,57.04 L104.02,57.16 L104.08,57.27 L104.14,57.39 L104.21,57.50 L104.27,57.61 L104.33,57.73 L104.39,57.84 L104.45,57.95 L104.51,58.06 L104.58,58.17 L104.64,58.28 L104.70,58.39 L104.76,58.49 L104.82,58.60 L104.89,58.71 L104.95,58.81 L105.01,58.92 L105.07,59.02 L105.13,59.12 L105.19,59.23 L105.26,59.33 L105.32,59.43 L105.38,59.53 L105.44,59.63 L105.50,59.73 L105.57,59.83 L105.63,59.93 L105.69,60.02 L105.75,60.12 L105.81,60.22 L105.87,60.31 L105.94,60.41 L106.00,60.50 L106.06,60.59 L106.12,60.69 L106.18,60.78 L106.24,60.87 L106.31,60.96 L106.37,61.05 L106.43,61.14 L106.49,61.23 L106.55,61.32 L106.62,61.41 L106.68,61.50 L106.74,61.58 L106.80,61.67 L106.86,61.76 L106.92,61.84 L106.99,61.93 L107.05,62.01 L107.11,62.09 L107.17,62.18 L107.23,62.26 L107.29,62.34 L107.36,62.42 L107.42,62.50 L107.48,62.58 L107.54,62.66 L107.60,62.74 L107.67,62.82 L107.73,62.90 L107.79,62.98 L107.85,63.06 L107.91,63.13 L107.97,63.21 L108.04,63.28 L108.10,63.36 L108.16,63.43 L108.22,63.51 L108.28,63.58 L108.35,63.66 L108.41,63.73 L108.47,63.80 L108.53,63.87 L108.59,63.94 L108.65,64.02 L108.72,64.09 L108.78,64.16 L108.84,64.23 L108.90,64.29 L108.96,64.36 L109.02,64.43 L109.09,64.50 L109.15,64.57 L109.21,64.63 L109.27,64.70 L109.33,64.77 L109.40,64.83 L109.46,64.90 L109.52,64.96 L109.58,65.02 L109.64,65.09 L109.70,65.15 L109.77,65.21 L109.83,65.28 L109.89,65.34 L109.95,65.40 L110.01,65.46 L110.07,65.52 L110.14,65.58 L110.20,65.64 L110.26,65.70 L110.32,65.76 L110.38,65.82 L110.45,65.88 L110.51,65.94 L110.57,66.00 L110.63,66.05 L110.69,66.11 L110.75,66.17 L110.82,66.22 L110.88,66.28 L110.94,66.34 L111.00,66.39 L111.06,66.45 L111.12,66.50 L111.19,66.55 L111.25,66.61 L111.31,66.66 L111.37,66.71 L111.43,66.77 L111.50,66.82 L111.56,66.87 L111.62,66.92 L111.68,66.97 L111.74,67.03 L111.80,67.08 L111.87,67.13 L111.93,67.18 L111.99,67.23 L112.05,67.27 L112.11,67.32 L112.18,67.37 L112.24,67.42 L112.30,67.47 L112.36,67.52 L112.42,67.56 L112.48,67.61 L112.55,67.66 L112.61,67.70 L112.67,67.75 L112.73,67.80 L112.79,67.84 L112.85,67.89 L112.92,67.93 L112.98,67.98 L113.04,68.02 L113.10,68.06 L113.16,68.11 L113.23,68.15 L113.29,68.19 L113.35,68.24 L113.41,68.28 L113.47,68.32 L113.53,68.36 L113.60,68.41 L113.66,68.45 L113.72,68.49 L113.78,68.53 L113.84,68.57 L113.90,68.61 L113.97,68.65 L114.03,68.69 L114.09,68.73 L114.15,68.77 L114.21,68.81 L114.28,68.85 L114.34,68.88 L114.40,68.92 L114.46,68.96 L114.52,69.00 L114.58,69.04 L114.65,69.07 L114.71,69.11 L114.77,69.15 L114.83,69.18 L114.89,69.22 L114.95,69.26 L115.02,69.29 L115.08,69.33 L115.14,69.36 L115.20,69.40 L115.26,69.43 L115.33,69.47 L115.39,69.50 L115.45,69.53 L115.51,69.57 L115.57,69.60 L115.63,69.63 L115.70,69.67 L115.76,69.70 L115.82,69.73 L115.88,69.77 L115.94,69.80 L116.01,69.83 L116.07,69.86 L116.13,69.89 L116.19,69.92 L116.25,69.96 L116.31,69.99 L116.38,70.02 L116.44,70.05 L116.50,70.08 L116.56,70.11 L116.62,70.14 L116.68,70.17 L116.75,70.20 L116.81,70.23 L116.87,70.26 L116.93,70.28 L116.99,70.31 L117.06,70.34 L117.12,70.37 L117.18,70.40 L117.24,70.43 L117.30,70.45 L117.36,70.48 L117.43,70.51 L117.49,70.54 L117.55,70.56 L117.61,70.59 L117.67,70.62 L117.73,70.64 L117.80,70.67 L117.86,70.69 L117.92,70.72 L117.98,70.75 L118.04,70.77 L118.11,70.80 L118.17,70.82 L118.23,70.85 L118.29,70.87 L118.35,70.90 L118.41,70.92 L118.48,70.94 L118.54,70.97 L118.60,70.99 L118.66,71.02 L118.72,71.04 L118.79,71.06 L118.85,71.09 L118.91,71.11 L118.97,71.13 L119.03,71.15 L119.09,71.18 L119.16,71.20 L119.22,71.22 L119.28,71.24 L119.34,71.26 L119.40,71.29 L119.46,71.31 L119.53,71.33 L119.59,71.35 L119.65,71.37 L119.71,71.39 L119.77,71.41 L119.84,71.43 L119.90,71.45 L119.96,71.48 L120.02,71.50 L120.08,71.52 L120.14,71.54 L120.21,71.55 L120.27,71.57 L120.33,71.59 L120.39,71.61 L120.45,71.63 L120.51,71.65 L120.58,71.67 L120.64,71.69 L120.70,71.71 L120.76,71.73 L120.82,71.74 L120.89,71.76 L120.95,71.78 L121.01,71.80 L121.07,71.82 L121.13,71.83 L121.19,71.85 L121.26,71.87 L121.32,71.89 L121.38,71.90 L121.44,71.92 L121.50,71.94 L121.56,71.95 L121.63,71.97 L121.69,71.99 L121.75,72.00 L121.81,72.02 L121.87,72.04 L121.94,72.05 L122.00,72.07 L122.06,72.08 L122.12,72.10 L122.18,72.11 L122.24,72.13 L122.31,72.15 L122.37,72.16 L122.43,72.18 L122.49,72.19 L122.55,72.21 L122.62,72.22 L122.68,72.23 L122.74,72.25 L122.80,72.26 L122.86,72.28 L122.92,72.29 L122.99,72.31 L123.05,72.32 L123.11,72.33 L123.17,72.35 L123.23,72.36 L123.29,72.37 L123.36,72.39 L123.42,72.40 L123.48,72.41 L123.54,72.43 L123.60,72.44 L123.67,72.45 L123.73,72.47 L123.79,72.48 L123.85,72.49 L123.91,72.50 L123.97,72.52 L124.04,72.53 L124.10,72.54 L124.16,72.55 L124.22,72.56 L124.28,72.58 L124.34,72.59 L124.41,72.60 L124.47,72.61 L124.53,72.62 L124.59,72.63 L124.65,72.64 L124.72,72.65 L124.78,72.67 L124.84,72.68 L124.90,72.69 L124.96,72.70 L125.02,72.71 L125.09,72.72 L125.15,72.73 L125.21,72.74 L125.27,72.75 L125.33,72.76 L125.39,72.77 L125.46,72.78 L125.52,72.79 L125.58,72.80 L125.64,72.81 L125.70,72.82 L125.77,72.83 L125.83,72.84 L125.89,72.85 L125.95,72.86 L126.01,72.87 L126.07,72.88 L126.14,72.89 L126.20,72.90 L126.26,72.90 L126.32,72.91 L126.38,72.92 L126.45,72.93 L126.51,72.94 L126.57,72.95 L126.63,72.96 L126.69,72.96 L126.75,72.97 L126.82,72.98 L126.88,72.99 L126.94,73.00 L127.00,73.00 L127.06,73.01 L127.12,73.02 L127.19,73.03 L127.25,73.04 L127.31,73.04 L127.37,73.05 L127.43,73.06 L127.50,73.07 L127.56,73.07 L127.62,73.08 L127.68,73.09 L127.74,73.10 L127.80,73.10 L127.87,73.11 L127.93,73.12 L127.99,73.12 L128.05,73.13 L128.11,73.14 L128.17,73.14 L128.24,73.15 L128.30,73.16 L128.36,73.16 L128.42,73.17 L128.48,73.17 L128.55,73.18 L128.61,73.19 L128.67,73.19 L128.73,73.20 L128.79,73.21 L128.85,73.21 L128.92,73.22 L128.98,73.22 L129.04,73.23 L129.10,73.23 L129.16,73.24 L129.23,73.25 L129.29,73.25 L129.35,73.26 L129.41,73.26 L129.47,73.27 L129.53,73.27 L129.60,73.28 L129.66,73.28 L129.72,73.29 L129.78,73.29 L129.84,73.30 L129.90,73.30 L129.97,73.31 L130.03,73.31 L130.09,73.32 L130.15,73.32 L130.21,73.33 L130.28,73.33 L130.34,73.33 L130.40,73.34 L130.46,73.34 L130.52,73.35 L130.58,73.35 L130.65,73.36 L130.71,73.36 L130.77,73.36 L130.83,73.37 L130.89,73.37 L130.95,73.38 L131.02,73.38 L131.08,73.38 L131.14,73.39 L131.20,73.39 L131.26,73.40 L131.33,73.40 L131.39,73.40 L131.45,73.41 L131.51,73.41 L131.57,73.41 L131.63,73.42 L131.70,73.42 L131.76,73.42 L131.82,73.43 L131.88,73.43 L131.94,73.43 L132.00,73.44 L132.07,73.44 L132.13,73.44 L132.19,73.44 L132.25,73.45 L132.31,73.45 L132.38,73.45 L132.44,73.46 L132.50,73.46 L132.56,73.46 L132.62,73.46 L132.68,73.47 L132.75,73.47 L132.81,73.47 L132.87,73.47 L132.93,73.48 L132.99,73.48 L133.06,73.48 L133.12,73.48 L133.18,73.49 L133.24,73.49 L133.30,73.49 L133.36,73.49 L133.43,73.49 L133.49,73.50 L133.55,73.50 L133.61,73.50 L133.67,73.50 L133.73,73.50 L133.80,73.51 L133.86,73.51 L133.92,73.51 L133.98,73.51 L134.04,73.51 L134.11,73.51 L134.17,73.52 L134.23,73.52 L134.29,73.52 L134.35,73.52 L134.41,73.52 L134.48,73.52 L134.54,73.52 L134.60,73.53 L134.66,73.53 L134.72,73.53 L134.78,73.53 L134.85,73.53 L134.91,73.53 L134.97,73.53 L135.03,73.53 L135.09,73.53 L135.16,73.54 L135.22,73.54 L135.28,73.54 L135.34,73.54 L135.40,73.54 L135.46,73.54 L135.53,73.54 L135.59,73.54 L135.65,73.54 L135.71,73.54 L135.77,73.54 L135.83,73.54 L135.90,73.55 L135.96,73.55 L136.02,73.55 L136.08,73.55 L136.14,73.55 L136.21,73.55 L136.27,73.55 L136.33,73.55 L136.39,73.55 L136.45,73.55 L136.51,73.55 L136.58,73.55 L136.64,73.55 L136.70,73.55 L136.76,73.55 L136.82,73.55 L136.89,73.55 L136.95,73.55 L137.01,73.55 L137.07,73.55 L137.13,73.55 L137.19,73.55 L137.26,73.55 L137.32,73.55 L137.38,73.55 L137.44,73.55 L137.50,73.55 L137.56,73.55 L137.63,73.55 L137.69,73.55 L137.75,73.55 L137.81,73.55 L137.87,73.55 L137.94,73.55 L138.00,73.55 L138.06,73.55 L138.12,73.55 L138.18,73.55 L138.24,73.55 L138.31,73.54 L138.37,73.54 L138.43,73.54 L138.49,73.54 L138.55,73.54 L138.61,73.54 L138.68,73.54 L138.74,73.54 L138.80,73.54 L138.86,73.54 L138.92,73.54 L138.99,73.54 L139.05,73.54 L139.11,73.54 L139.17,73.53 L139.23,73.53 L139.29,73.53 L139.36,73.53 L139.42,73.53 L139.48,73.53 L139.54,73.53 L139.60,73.53 L139.67,73.53 L139.73,73.53 L139.79,73.52 L139.85,73.52 L139.91,73.52 L139.97,73.52 L140.04,73.52 L140.10,73.52 L140.16,73.52 L140.22,73.52 L140.28,73.51 L140.34,73.51 L140.41,73.51 L140.47,73.51 L140.53,73.51 L140.59,73.51 L140.65,73.51 L140.72,73.51 L140.78,73.50 L140.84,73.50 L140.90,73.50 L140.96,73.50 L141.02,73.50 L141.09,73.50 L141.15,73.49 L141.21,73.49 L141.27,73.49 L141.33,73.49 L141.39,73.49 L141.46,73.49 L141.52,73.48 L141.58,73.48 L141.64,73.48 L141.70,73.48 L141.77,73.48 L141.83,73.48 L141.89,73.47 L141.95,73.47 L142.01,73.47 L142.07,73.47 L142.14,73.47 L142.20,73.46 L142.26,73.46 L142.32,73.46 L142.38,73.46 L142.44,73.46 L142.51,73.46 L142.57,73.45 L142.63,73.45 L142.69,73.45 L142.75,73.45 L142.82,73.45 L142.88,73.44 L142.94,73.44 L143.00,73.44 L143.06,73.44 L143.12,73.43 L143.19,73.43 L143.25,73.43 L143.31,73.43 L143.37,73.43 L143.43,73.42 L143.50,73.42 L143.56,73.42 L143.62,73.42 L143.68,73.41 L143.74,73.41 L143.80,73.41 L143.87,73.41 L143.93,73.41 L143.99,73.40 L144.05,73.40 L144.11,73.40 L144.17,73.40 L144.24,73.39 L144.30,73.39 L144.36,73.39 L144.42,73.39 L144.48,73.38 L144.55,73.38 L144.61,73.38 L144.67,73.38 L144.73,73.37 L144.79,73.37 L144.85,73.37 L144.92,73.37 L144.98,73.36 L145.04,73.36 L145.10,73.36 L145.16,73.36 L145.22,73.35 L145.29,73.35 L145.35,73.35 L145.41,73.35 L145.47,73.34 L145.53,73.34 L145.60,73.34 L145.66,73.33 L145.72,73.33 L145.78,73.33 L145.84,73.33 L145.90,73.32 L145.97,73.32 L146.03,73.32 L146.09,73.32 L146.15,73.31 L146.21,73.31 L146.27,73.31 L146.34,73.30 L146.40,73.30 L146.46,73.30 L146.52,73.30 L146.58,73.29 L146.65,73.29 L146.71,73.29 L146.77,73.28 L146.83,73.28 L146.89,73.28 L146.95,73.28 L147.02,73.27 L147.08,73.27 L147.14,73.27 L147.20,73.26 L147.26,73.26 L147.33,73.26 L147.39,73.25 L147.45,73.25 L147.51,73.25 L147.57,73.25 L147.63,73.24 L147.70,73.24 L147.76,73.24 L147.82,73.23 L147.88,73.23 L147.94,73.23 L148.00,73.22 L148.07,73.22 L148.13,73.22 L148.19,73.21 L148.25,73.21 L148.31,73.21 L148.38,73.20 L148.44,73.20 L148.50,73.20 L148.56,73.20 L148.62,73.19 L148.68,73.19 L148.75,73.19 L148.81,73.18 L148.87,73.18 L148.93,73.18 L148.99,73.17 L149.05,73.17 L149.12,73.17 L149.18,73.16 L149.24,73.16 L149.30,73.16 L149.36,73.15 L149.43,73.15 L149.49,73.15 L149.55,73.14 L149.61,73.14 L149.67,73.14 L149.73,73.13 L149.80,73.13 L149.86,73.13 L149.92,73.12 L149.98,73.12 L150.04,73.12 L150.11,73.11 L150.17,73.11 L150.23,73.11 L150.29,73.10 L150.35,73.10 L150.41,73.10 L150.48,73.09 L150.54,73.09 L150.60,73.09 L150.66,73.08 L150.72,73.08 L150.78,73.07 L150.85,73.07 L150.91,73.07 L150.97,73.06 L151.03,73.06 L151.09,73.06 L151.16,73.05 L151.22,73.05 L151.28,73.05 L151.34,73.04 L151.40,73.04 L151.46,73.04 L151.53,73.03 L151.59,73.03 L151.65,73.03 L151.71,73.02 L151.77,73.02 L151.83,73.01 L151.90,73.01 L151.96,73.01 L152.02,73.00 L152.08,73.00 L152.14,73.00 L152.21,72.99 L152.27,72.99 L152.33,72.99 L152.39,72.98 L152.45,72.98 L152.51,72.98 L152.58,72.97 L152.64,72.97 L152.70,72.96 L152.76,72.96 L152.82,72.96 L152.88,72.95 L152.95,72.95 L153.01,72.95 L153.07,72.94 L153.13,72.94 L153.19,72.93 L153.26,72.93 L153.32,72.93 L153.38,72.92 L153.44,72.92 L153.50,72.92 L153.56,72.91 L153.63,72.91 L153.69,72.91 L153.75,72.90 L153.81,72.90 L153.87,72.89 L153.94,72.89 L154.00,72.89 L154.06,72.88 L154.12,72.88 L154.18,72.88 L154.24,72.87 L154.31,72.87 L154.37,72.86 L154.43,72.86 L154.49,72.86 L154.55,72.85 L154.61,72.85 L154.68,72.84 L154.74,72.84 L154.80,72.84 L154.86,72.83 L154.92,72.83 L154.99,72.83 L155.05,72.82 L155.11,72.82 L155.17,72.81 L155.23,72.81 L155.29,72.81 L155.36,72.80 L155.42,72.80 L155.48,72.80 L155.54,72.79 L155.60,72.79 L155.66,72.78 L155.73,72.78 L155.79,72.78 L155.85,72.77 L155.91,72.77 L155.97,72.76 L156.04,72.76 L156.10,72.76 L156.16,72.75 L156.22,72.75 L156.28,72.75 L156.34,72.74 L156.41,72.74 L156.47,72.73 L156.53,72.73 L156.59,72.73 L156.65,72.72 L156.71,72.72 L156.78,72.71 L156.84,72.71 L156.90,72.71 L156.96,72.70 L157.02,72.70 L157.09,72.69 L157.15,72.69 L157.21,72.69 L157.27,72.68 L157.33,72.68 L157.39,72.67 L157.46,72.67 L157.52,72.67 L157.58,72.66 L157.64,72.66 L157.70,72.66 L157.77,72.65 L157.83,72.65 L157.89,72.64 L157.95,72.64 L158.01,72.64 L158.07,72.63 L158.14,72.63 L158.20,72.62 L158.26,72.62 L158.32,72.62 L158.38,72.61 L158.44,72.61 L158.51,72.60 L158.57,72.60 L158.63,72.60 L158.69,72.59 L158.75,72.59 L158.82,72.58 L158.88,72.58 L158.94,72.58 L159.00,72.57 L159.06,72.57 L159.12,72.56 L159.19,72.56 L159.25,72.56 L159.31,72.55 L159.37,72.55 L159.43,72.54 L159.49,72.54 L159.56,72.54 L159.62,72.53 L159.68,72.53 L159.74,72.52 L159.80,72.52 L159.87,72.52 L159.93,72.51 L159.99,72.51 L160.05,72.50 L160.11,72.50 L160.17,72.50 L160.24,72.49 L160.30,72.49 L160.36,72.48 L160.42,72.48 L160.48,72.48 L160.54,72.47 L160.61,72.47 L160.67,72.46 L160.73,72.46 L160.79,72.46 L160.85,72.45 L160.92,72.45 L160.98,72.44 L161.04,72.44 L161.10,72.44 L161.16,72.43 L161.22,72.43 L161.29,72.42 L161.35,72.42 L161.41,72.42 L161.47,72.41 L161.53,72.41 L161.60,72.40 L161.66,72.40 L161.72,72.40 L161.78,72.39 L161.84,72.39 L161.90,72.38 L161.97,72.38 L162.03,72.38 L162.09,72.37 L162.15,72.37 L162.21,72.36 L162.27,72.36 L162.34,72.35 L162.40,72.35 L162.46,72.35 L162.52,72.34 L162.58,72.34 L162.65,72.33 L162.71,72.33 L162.77,72.33 L162.83,72.32 L162.89,72.32 L162.95,72.31 L163.02,72.31 L163.08,72.31 L163.14,72.30 L163.20,72.30 L163.26,72.29 L163.32,72.29 L163.39,72.29 L163.45,72.28 L163.51,72.28 L163.57,72.27 L163.63,72.27 L163.70,72.27 L163.76,72.26 L163.82,72.26 L163.88,72.25 L163.94,72.25 L164.00,72.25 L164.07,72.24 L164.13,72.24 L164.19,72.23 L164.25,72.23 L164.31,72.23 L164.38,72.22 L164.44,72.22 L164.50,72.21 L164.56,72.21 L164.62,72.21 L164.68,72.20 L164.75,72.20 L164.81,72.19 L164.87,72.19 L164.93,72.19 L164.99,72.18 L165.05,72.18 L165.12,72.17 L165.18,72.17 L165.24,72.16 L165.30,72.16 L165.36,72.16 L165.43,72.15 L165.49,72.15 L165.55,72.14 L165.61,72.14 L165.67,72.14 L165.73,72.13 L165.80,72.13 L165.86,72.12 L165.92,72.12 L165.98,72.12 L166.04,72.11 L166.10,72.11 L166.17,72.10 L166.23,72.10 L166.29,72.10 L166.35,72.09 L166.41,72.09 L166.48,72.08 L166.54,72.08 L166.60,72.08 L166.66,72.07 L166.72,72.07 L166.78,72.06 L166.85,72.06 L166.91,72.06 L166.97,72.05 L167.03,72.05 L167.09,72.04 L167.15,72.04 L167.22,72.04 L167.28,72.03 L167.34,72.03 L167.40,72.02 L167.46,72.02 L167.53,72.02 L167.59,72.01 L167.65,72.01 L167.71,72.00 L167.77,72.00 L167.83,72.00 L167.90,71.99 L167.96,71.99 L168.02,71.98 L168.08,71.98 L168.14,71.98 L168.21,71.97 L168.27,71.97 L168.33,71.96 L168.39,71.96 L168.45,71.96 L168.51,71.95 L168.58,71.95 L168.64,71.94 L168.70,71.94 L168.76,71.94 L168.82,71.93 L168.88,71.93 L168.95,71.92 L169.01,71.92 L169.07,71.92 L169.13,71.91 L169.19,71.91 L169.26,71.90 L169.32,71.90 L169.38,71.90 L169.44,71.89 L169.50,71.89 L169.56,71.88 L169.63,71.88 L169.69,71.88 L169.75,71.87 L169.81,71.87 L169.87,71.86 L169.93,71.86 L170.00,71.86 L170.06,71.85 L170.12,71.85 L170.18,71.84 L170.24,71.84 L170.31,71.84 L170.37,71.83 L170.43,71.83 L170.49,71.82 L170.55,71.82 L170.61,71.82 L170.68,71.81 L170.74,71.81 L170.80,71.80 L170.86,71.80 L170.92,71.80 L170.98,71.79 L171.05,71.79 L171.11,71.78 L171.17,71.78 L171.23,71.78 L171.29,71.77 L171.36,71.77 L171.42,71.76 L171.48,71.76 L171.54,71.76 L171.60,71.75 L171.66,71.75 L171.73,71.74 L171.79,71.74 L171.85,71.74 L171.91,71.73 L171.97,71.73 L172.04,71.72 L172.10,71.72 L172.16,71.72 L172.22,71.71 L172.28,71.71 L172.34,71.71 L172.41,71.70 L172.47,71.70 L172.53,71.69 L172.59,71.69 L172.65,71.69 L172.71,71.68 L172.78,71.68 L172.84,71.67 L172.90,71.67 L172.96,71.67 L173.02,71.66 L173.09,71.66 L173.15,71.65 L173.21,71.65 L173.27,71.65 L173.33,71.64 L173.39,71.64 L173.46,71.63 L173.52,71.63 L173.58,71.63 L173.64,71.62 L173.70,71.62 L173.76,71.62 L173.83,71.61 L173.89,71.61 L173.95,71.60 L174.01,71.60 L174.07,71.60 L174.14,71.59 L174.20,71.59 L174.26,71.58 L174.32,71.58 L174.38,71.58 L174.44,71.57 L174.51,71.57 L174.57,71.56 L174.63,71.56 L174.69,71.56 L174.75,71.55 L174.82,71.55 L174.88,71.55 L174.94,71.54 L175.00,71.54 L175.06,71.53 L175.12,71.53 L175.19,71.53 L175.25,71.52 L175.31,71.52 L175.37,71.51 L175.43,71.51 L175.49,71.51 L175.56,71.50 L175.62,71.50 L175.68,71.50 L175.74,71.49 L175.80,71.49 L175.87,71.48 L175.93,71.48 L175.99,71.48 L176.05,71.47 L176.11,71.47 L176.17,71.46 L176.24,71.46 L176.30,71.46 L176.36,71.45 L176.42,71.45 L176.48,71.45 L176.54,71.44 L176.61,71.44 L176.67,71.43 L176.73,71.43 L176.79,71.43 L176.85,71.42 L176.92,71.42 L176.98,71.42 L177.04,71.41 L177.10,71.41 L177.16,71.40 L177.22,71.40 L177.29,71.40 L177.35,71.39 L177.41,71.39 L177.47,71.38 L177.53,71.38 L177.59,71.38 L177.66,71.37 L177.72,71.37 L177.78,71.37 L177.84,71.36 L177.90,71.36 L177.97,71.35 L178.03,71.35 L178.09,71.35 L178.15,71.34 L178.21,71.34 L178.27,71.34 L178.34,71.33 L178.40,71.33 L178.46,71.32 L178.52,71.32 L178.58,71.32 L178.65,71.31 L178.71,71.31 L178.77,71.31 L178.83,71.30 L178.89,71.30 L178.95,71.29 L179.02,71.29 L179.08,71.29 L179.14,71.28 L179.20,71.28 L179.26,71.28 L179.32,71.27 L179.39,71.27 L179.45,71.26 L179.51,71.26 L179.57,71.26 L179.63,71.25 L179.70,71.25 L179.76,71.25 L179.82,71.24 L179.88,71.24 L179.94,71.24 L180.00,71.23 L180.07,71.23 L180.13,71.22 L180.19,71.22 L180.25,71.22 L180.31,71.21 L180.37,71.21 L180.44,71.21 L180.50,71.20 L180.56,71.20 L180.62,71.19 L180.68,71.19 L180.75,71.19 L180.81,71.18 L180.87,71.18 L180.93,71.18 L180.99,71.17 L181.05,71.17 L181.12,71.17 L181.18,71.16 L181.24,71.16 L181.30,71.15 L181.36,71.15 L181.42,71.15 L181.49,71.14 L181.55,71.14 L181.61,71.14 L181.67,71.13 L181.73,71.13 L181.80,71.13 L181.86,71.12 L181.92,71.12 L181.98,71.11 L182.04,71.11 L182.10,71.11 L182.17,71.10 L182.23,71.10 L182.29,71.10 L182.35,71.09 L182.41,71.09 L182.48,71.09 L182.54,71.08 L182.60,71.08 L182.66,71.07 L182.72,71.07 L182.78,71.07 L182.85,71.06 L182.91,71.06 L182.97,71.06 L183.03,71.05 L183.09,71.05 L183.15,71.05 L183.22,71.04 L183.28,71.04 L183.34,71.03 L184.11,70.99 L184.89,70.95 L185.66,70.90 L186.44,70.86 L187.21,70.81 L187.98,70.77 L188.76,70.73 L189.53,70.69 L190.31,70.65 L191.08,70.60 L191.85,70.56 L192.63,70.52 L193.40,70.48 L194.17,70.44 L194.95,70.40 L195.72,70.36 L196.50,70.32 L197.27,70.29 L198.04,70.25 L198.82,70.21 L199.59,70.17 L200.37,70.13 L201.14,70.10 L201.91,70.06 L202.69,70.03 L203.46,69.99 L204.24,69.95 L205.01,69.92 L205.78,69.88 L206.56,69.85 L207.33,69.82 L208.11,69.78 L208.88,69.75 L209.65,69.72 L210.43,69.68 L211.20,69.65 L211.97,69.62 L212.75,69.59 L213.52,69.56 L214.30,69.52 L215.07,69.49 L215.84,69.46 L216.62,69.43 L217.39,69.40 L218.17,69.37 L218.94,69.34 L219.71,69.31 L220.49,69.29 L221.26,69.26 L222.04,69.23 L222.81,69.20 L223.58,69.17 L224.36,69.15 L225.13,69.12 L225.91,69.09 L226.68,69.06 L227.45,69.04 L228.23,69.01 L229.00,68.99 L229.77,68.96 L230.55,68.94 L231.32,68.91 L232.10,68.89 L232.87,68.86 L233.64,68.84 L234.42,68.81 L235.19,68.79 L235.97,68.76 L236.74,68.74 L237.51,68.72 L238.29,68.69 L239.06,68.67 L239.84,68.65 L240.61,68.63 L241.38,68.60 L242.16,68.58 L242.93,68.56 L243.71,68.54 L244.48,68.52 L245.25,68.50 L246.03,68.48 L246.80,68.46 L247.57,68.43 L248.35,68.41 L249.12,68.39 L249.90,68.37 L250.67,68.35 L251.44,68.33 L252.22,68.32 L252.99,68.30 L253.77,68.28 L254.54,68.26 L255.31,68.24 L256.09,68.22 L256.86,68.20 L257.64,68.18 L258.41,68.17 L259.18,68.15 L259.96,68.13 L260.73,68.11 L261.51,68.10 L262.28,68.08 L263.05,68.06 L263.83,68.04 L264.60,68.03 L265.37,68.01 L266.15,67.99 L266.92,67.98 L267.70,67.96 L268.47,67.95 L269.24,67.93 L270.02,67.91 L270.79,67.90 L271.57,67.88 L272.34,67.87 L273.11,67.85 L273.89,67.84 L274.66,67.82 L275.44,67.81 L276.21,67.79 L276.98,67.78 L277.76,67.76 L278.53,67.75 L279.31,67.74 L280.08,67.72 L280.85,67.71 L281.63,67.69 L282.40,67.68 L283.17,67.67 L283.95,67.65 L284.72,67.64 L285.50,67.63 L286.27,67.61 L287.04,67.60 L287.82,67.59 L288.59,67.58 L289.37,67.56 L290.14,67.55 L290.91,67.54 L291.69,67.53 L292.46,67.51 L293.24,67.50 L294.01,67.49 L294.78,67.48 L295.56,67.47 L296.33,67.45 L297.11,67.44 L297.88,67.43 L298.65,67.42 L299.43,67.41 L300.20,67.40 L300.97,67.38 L301.75,67.37 L302.52,67.36 L303.30,67.35 L304.07,67.34 L304.84,67.33 L305.62,67.32 L306.39,67.31 L307.17,67.30 L307.94,67.29 L308.71,67.28 L309.49,67.27 L310.26,67.26 L311.04,67.25 L311.81,67.24 L312.58,67.23 L313.36,67.22 L314.13,67.21 L314.91,67.20 L315.68,67.19 L316.45,67.18 L317.23,67.17 L318.00,67.16 L318.77,67.15 L319.55,67.14 L320.32,67.13 L321.10,67.12 L321.87,67.11 L322.64,67.11 L323.42,67.10 L324.19,67.09 L324.97,67.08 L325.74,67.07 L326.51,67.06 L327.29,67.05 L328.06,67.04 L328.84,67.04 L329.61,67.03 L330.38,67.02 L331.16,67.01 L331.93,67.00 L332.71,66.99 L333.48,66.99 L334.25,66.98 L335.03,66.97 L335.80,66.96 L336.57,66.95 L337.35,66.95 L338.12,66.94 L338.90,66.93 L339.67,66.92 L340.44,66.92 L341.22,66.91 L341.99,66.90 L342.77,66.89 L343.54,66.89 L344.31,66.88 L345.09,66.87 L345.86,66.87 L346.64,66.86 L347.41,66.85 L348.18,66.84 L348.96,66.84 L349.73,66.83 L350.51,66.82 L351.28,66.82 L352.05,66.81 L352.83,66.80 L353.60,66.80 L354.37,66.79 L355.15,66.78 L355.92,66.78 L356.70,66.77 L357.47,66.76 L358.24,66.76 L359.02,66.75 L359.79,66.74 L360.57,66.74 L361.34,66.73 L362.11,66.73 L362.89,66.72 L363.66,66.71 L364.44,66.71 L365.21,66.70 L365.98,66.70 L366.76,66.69 L367.53,66.68 L368.31,66.68 L369.08,66.67 L369.85,66.67 L370.63,66.66 L371.40,66.65 L372.17,66.65 L372.95,66.64 L373.72,66.64 L374.50,66.63 L375.27,66.63 L376.04,66.62 L376.82,66.62 L377.59,66.61 L378.37,66.60 L379.14,66.60 L379.91,66.59 L380.69,66.59 L381.46,66.58 L382.24,66.58 L383.01,66.57 L383.78,66.57 L384.56,66.56 L385.33,66.56 L386.11,66.55 L386.88,66.55 L387.65,66.54 L388.43,66.54 L389.20,66.53 L389.97,66.53 L390.75,66.52 L391.52,66.52 L392.30,66.51 L393.07,66.51 L393.84,66.50 L394.62,66.50 L395.39,66.49 L396.17,66.49 L396.94,66.49 L397.71,66.48 L398.49,66.48 L399.26,66.47 L400.04,66.47 L400.81,66.46 L401.58,66.46 L402.36,66.45 L403.13,66.45 L403.91,66.45 L404.68,66.44 L405.45,66.44 L406.23,66.43 L407.00,66.43 L407.77,66.42 L408.55,66.42 L409.32,66.42 L410.10,66.41 L410.87,66.41 L411.64,66.40 L412.42,66.40 L413.19,66.40 L413.97,66.39 L414.74,66.39" stroke="#000000" stroke-width="1.08" stroke-dasharray="1.15 1.2"/>
</g>
<rect x="291.5" y="30.5" width="96" height="172" fill="#fff" stroke="#d8d8d8" stroke-width="1"/>
<path d="M387.85,40.9 H398.7 V213 H302.1 V201.9 H387.85 Z" fill="#000"/>
<line x1="398.7" y1="66.35" x2="414.4" y2="66.3" stroke="#08081c" stroke-width="1.35"/>
<line x1="44.50" y1="65.50" x2="387.90" y2="65.50" stroke="#7c7c7c" stroke-width="1"/>
<line x1="398.70" y1="65.50" x2="414.40" y2="65.50" stroke="#7c7c7c" stroke-width="1"/>
<g opacity="0.999">
<text transform="translate(44.50,238.80) scale(1,1.020)" font-size="9.7" text-anchor="middle" fill="#2a2a2a" stroke="#2a2a2a" stroke-width="0.1">0</text>
<text transform="translate(90.78,238.80) scale(1,1.020)" font-size="9.7" text-anchor="middle" fill="#2a2a2a" stroke="#2a2a2a" stroke-width="0.1">0.2</text>
<text transform="translate(137.06,238.80) scale(1,1.020)" font-size="9.7" text-anchor="middle" fill="#2a2a2a" stroke="#2a2a2a" stroke-width="0.1">0.4</text>
<text transform="translate(183.34,238.80) scale(1,1.020)" font-size="9.7" text-anchor="middle" fill="#2a2a2a" stroke="#2a2a2a" stroke-width="0.1">0.6</text>
<text transform="translate(229.62,238.80) scale(1,1.020)" font-size="9.7" text-anchor="middle" fill="#2a2a2a" stroke="#2a2a2a" stroke-width="0.1">0.8</text>
<text transform="translate(275.90,238.80) scale(1,1.020)" font-size="9.7" text-anchor="middle" fill="#2a2a2a" stroke="#2a2a2a" stroke-width="0.1">1</text>
<text transform="translate(322.18,238.80) scale(1,1.020)" font-size="9.7" text-anchor="middle" fill="#2a2a2a" stroke="#2a2a2a" stroke-width="0.1">1.2</text>
<text transform="translate(368.46,238.80) scale(1,1.020)" font-size="9.7" text-anchor="middle" fill="#2a2a2a" stroke="#2a2a2a" stroke-width="0.1">1.4</text>
<text transform="translate(43.60,35.73) scale(1,1.020)" font-size="9.7" text-anchor="end" fill="#2a2a2a" stroke="#2a2a2a" stroke-width="0.14">0.5</text>
<text transform="translate(43.60,68.50) scale(1,1.020)" font-size="9.7" text-anchor="end" fill="#2a2a2a" stroke="#2a2a2a" stroke-width="0.14">0</text>
<text transform="translate(43.60,101.28) scale(1,1.020)" font-size="9.7" text-anchor="end" fill="#2a2a2a" stroke="#2a2a2a" stroke-width="0.14">−<tspan dx="0.9">0.5</tspan></text>
<text transform="translate(43.60,134.05) scale(1,1.020)" font-size="9.7" text-anchor="end" fill="#2a2a2a" stroke="#2a2a2a" stroke-width="0.14">−<tspan dx="0.9">1</tspan></text>
<text transform="translate(43.60,166.82) scale(1,1.020)" font-size="9.7" text-anchor="end" fill="#2a2a2a" stroke="#2a2a2a" stroke-width="0.14">−<tspan dx="0.9">1.5</tspan></text>
<text transform="translate(43.60,199.60) scale(1,1.020)" font-size="9.7" text-anchor="end" fill="#2a2a2a" stroke="#2a2a2a" stroke-width="0.14">−<tspan dx="0.9">2</tspan></text>
<text transform="translate(222.9,253.7) scale(1.17,1)" font-size="16" font-style="italic" fill="#000" stroke="#000" stroke-width="0.05">r</text>
<text transform="translate(229.3,258.7) scale(1,1.2)" font-size="11.4" font-style="italic" fill="#000" stroke="#000" stroke-width="0.1">h</text>
<text transform="translate(18.7,120.1) rotate(-90) scale(1.12,1)" font-size="16" font-style="italic" fill="#000" stroke="#000" stroke-width="0.3">P</text>
<path d="M4.4,111.3 L1.4,114.2 L4.4,117.1" fill="none" stroke="#000" stroke-width="1.3"/>
<line x1="296.7" y1="50.00" x2="324.80" y2="50.00" stroke="#ff0000" stroke-width="1.45"/>
<text transform="translate(328.80,52.90) scale(1,1.140)" font-size="8.7" text-anchor="start" fill="#222" stroke="#222" stroke-width="0.12">Θ = 0.00</text>
<line x1="296.7" y1="83.15" x2="323.70" y2="83.15" stroke="#00aa00" stroke-width="1.45" stroke-dasharray="9.7 7.5"/>
<text transform="translate(328.80,86.10) scale(1,1.140)" font-size="8.7" text-anchor="start" fill="#222" stroke="#222" stroke-width="0.12">Θ = 0.10</text>
<line x1="296.7" y1="116.25" x2="325.20" y2="116.25" stroke="#0000ff" stroke-width="1.45" stroke-dasharray="6.9 4.45"/>
<text transform="translate(328.80,119.30) scale(1,1.140)" font-size="8.7" text-anchor="start" fill="#222" stroke="#222" stroke-width="0.12">Θ = 0.20</text>
<line x1="296.7" y1="149.55" x2="325.40" y2="149.55" stroke="#000000" stroke-width="1.3" stroke-dasharray="1.3 0.9 2.4 0.9"/>
<text transform="translate(328.80,152.60) scale(1,1.140)" font-size="8.7" text-anchor="start" fill="#222" stroke="#222" stroke-width="0.12">Θ = 0.30</text>
<line x1="296.7" y1="182.65" x2="324.80" y2="182.65" stroke="#000000" stroke-width="1.3" stroke-dasharray="1.15 1.05"/>
<text transform="translate(328.80,185.80) scale(1,1.140)" font-size="8.7" text-anchor="start" fill="#222" stroke="#222" stroke-width="0.12">Θ = 0.40</text>
</g>
</svg></body></html>
